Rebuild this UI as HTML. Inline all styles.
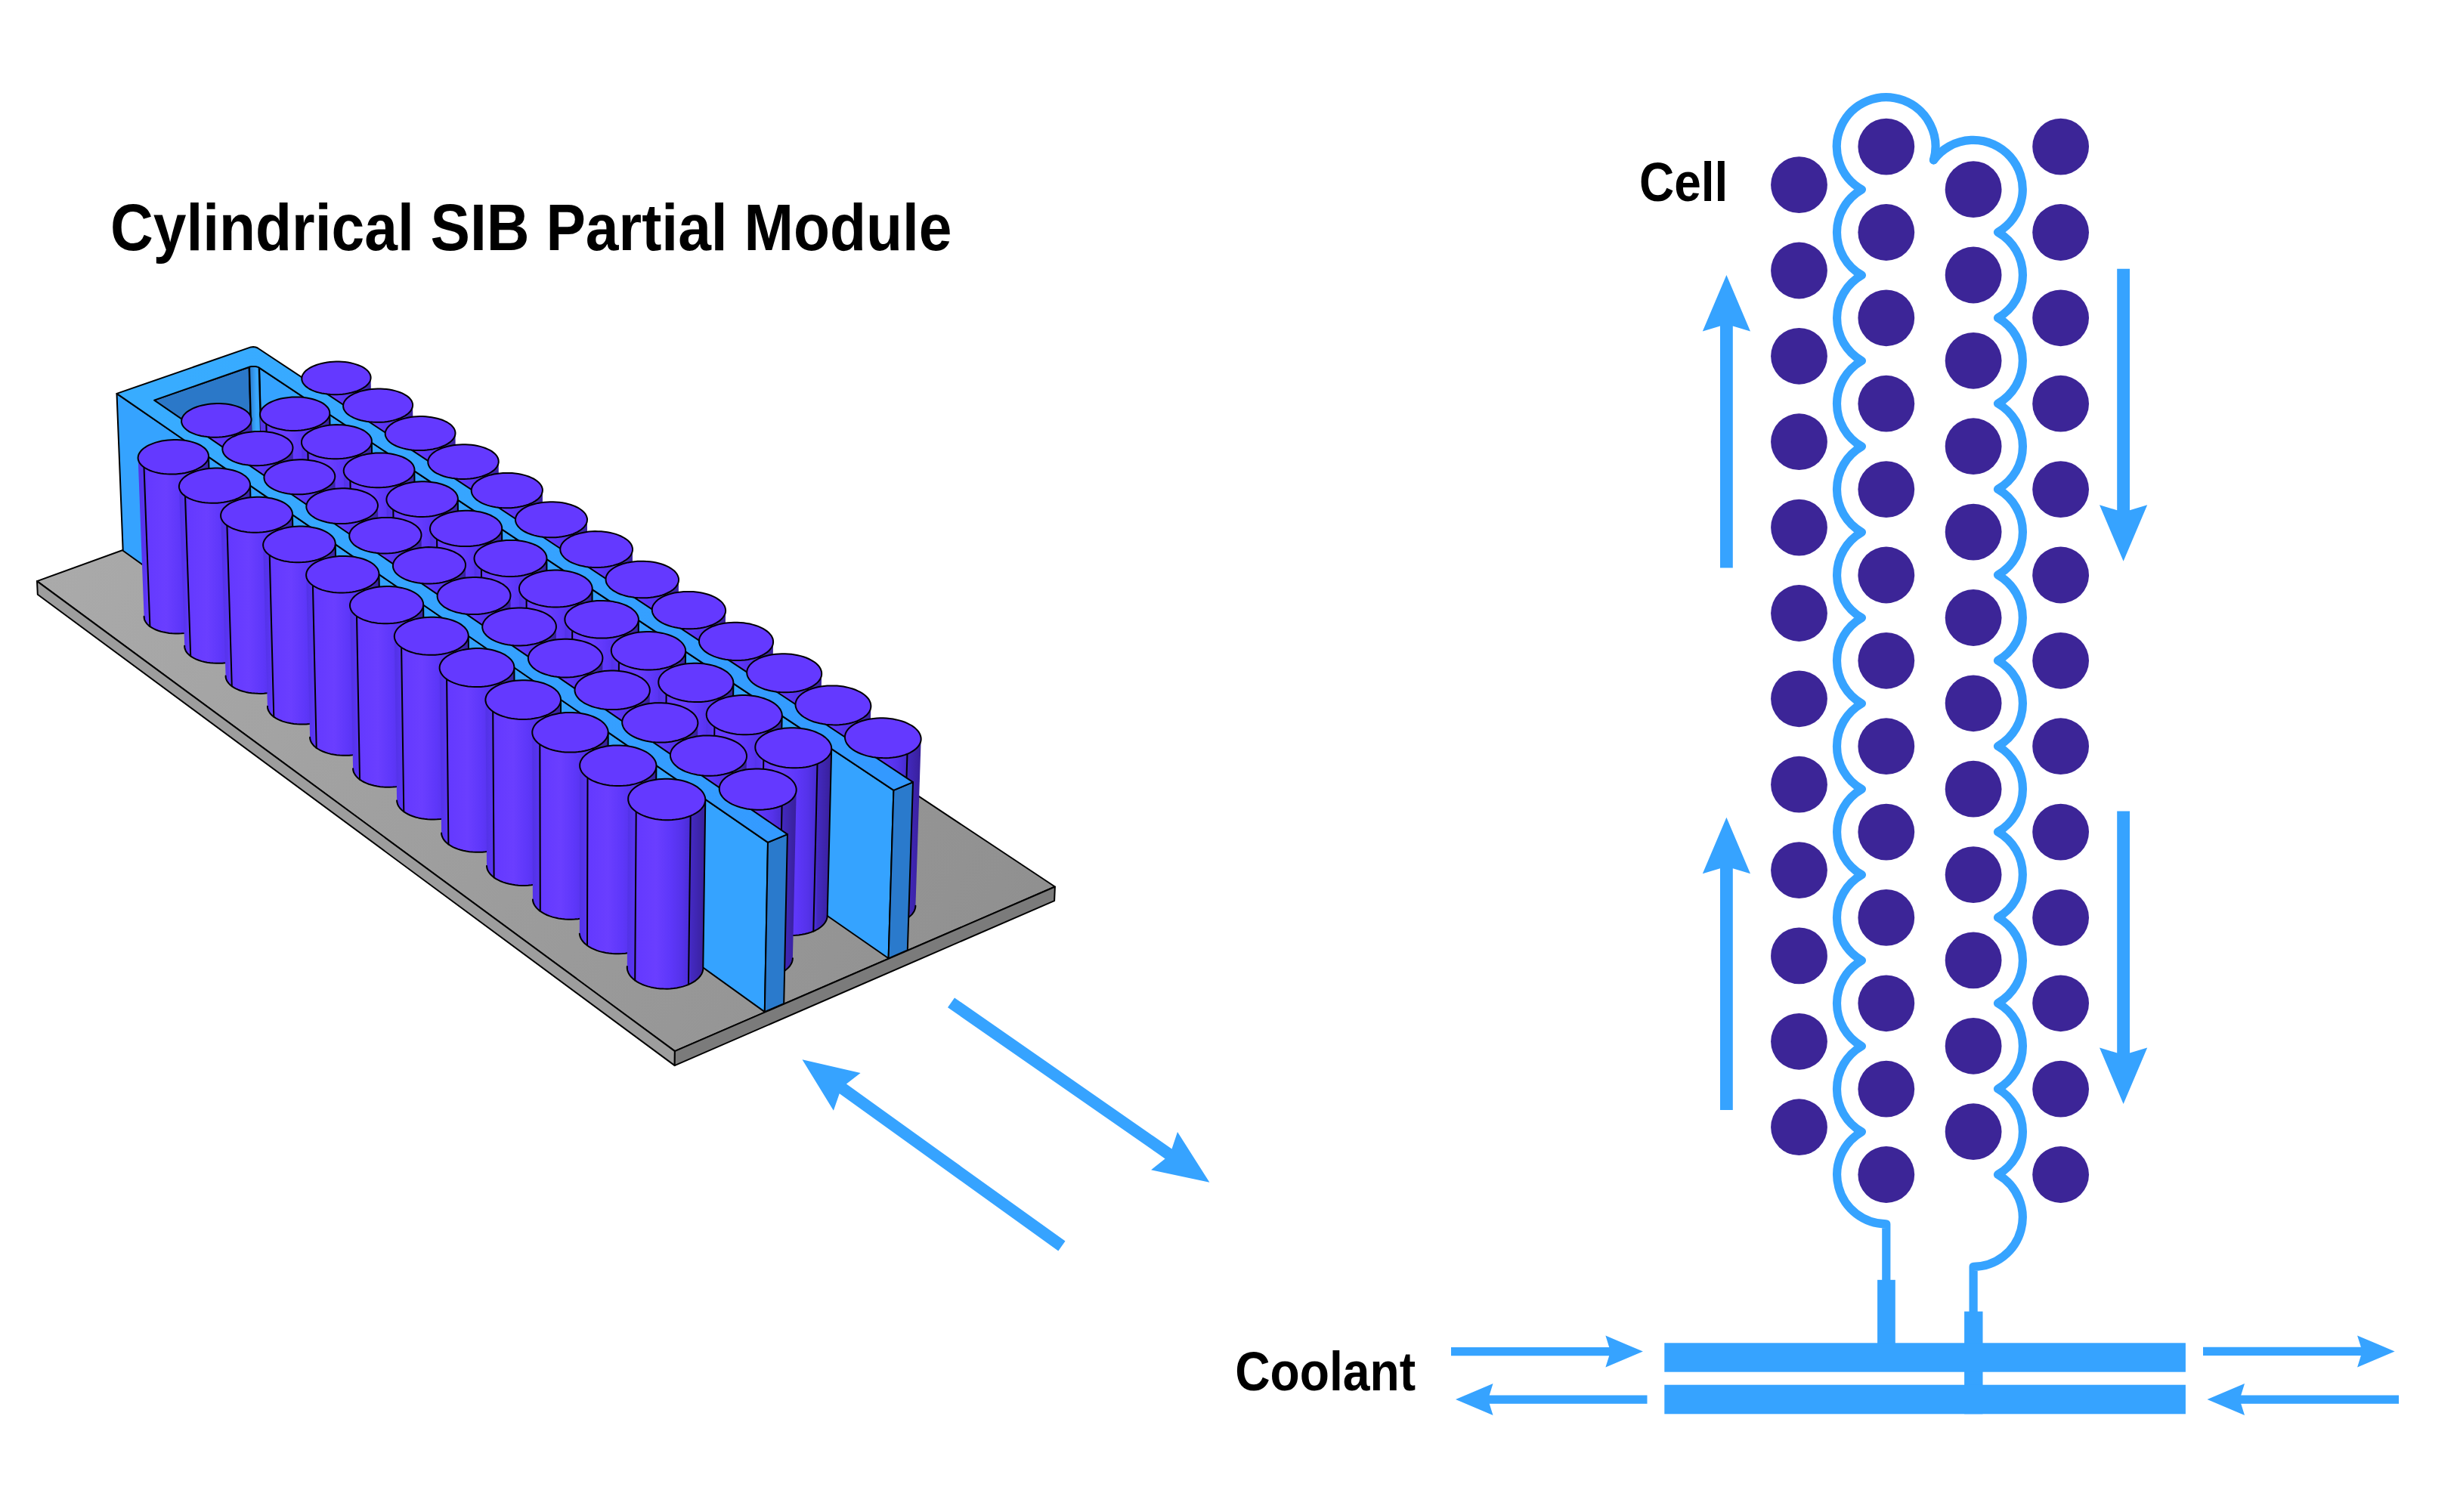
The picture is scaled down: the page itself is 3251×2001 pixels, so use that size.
<!DOCTYPE html>
<html><head><meta charset="utf-8"><style>
html,body{margin:0;padding:0;background:#fff;}
body{width:3251px;height:2001px;overflow:hidden;}
svg{display:block;}
text{font-family:"Liberation Sans",sans-serif;font-weight:bold;fill:#000;}
</style></head><body>
<svg width="3251" height="2001" viewBox="0 0 3251 2001">
<rect width="3251" height="2001" fill="#fff"/>
<text x="146" y="331" font-size="87.5" textLength="1113.5" lengthAdjust="spacingAndGlyphs">Cylindrical SIB Partial Module</text>
<text x="2169" y="266.3" font-size="72.4" textLength="117.4" lengthAdjust="spacingAndGlyphs">Cell</text>
<text x="1634.2" y="1839.6" font-size="72.7" textLength="238.9" lengthAdjust="spacingAndGlyphs">Coolant</text>
<defs><linearGradient id="gcyl" x1="0" y1="0" x2="1" y2="0"><stop offset="0" stop-color="#5232e6"/><stop offset="0.1" stop-color="#5a35f2"/><stop offset="0.12" stop-color="#6439ff"/><stop offset="0.37" stop-color="#6a3eff"/><stop offset="0.55" stop-color="#5e37fa"/><stop offset="0.7" stop-color="#5532ea"/><stop offset="0.8" stop-color="#4a2dd5"/><stop offset="0.82" stop-color="#4329c0"/><stop offset="1" stop-color="#38209a"/></linearGradient><linearGradient id="gplate" gradientUnits="userSpaceOnUse" x1="50" y1="770" x2="1395" y2="1390"><stop offset="0" stop-color="#aaaaaa"/><stop offset="1" stop-color="#8e8e8e"/></linearGradient><linearGradient id="gfil" x1="0" y1="0" x2="1" y2="0"><stop offset="0" stop-color="#2a7acc"/><stop offset="0.5" stop-color="#3aa8ff"/><stop offset="1" stop-color="#35a3ff"/></linearGradient><linearGradient id="gtop" gradientUnits="userSpaceOnUse" x1="250" y1="480" x2="1100" y2="1100"><stop offset="0" stop-color="#38acff"/><stop offset="1" stop-color="#3399ff"/></linearGradient></defs><path d="M49.0,769.1 L892.9,1391.1 L1395.9,1173.5 L526.8,596.1Z" fill="url(#gplate)" stroke="#000" stroke-width="2.0" stroke-linejoin="round"/>
<path d="M49.0,769.1 L892.9,1391.1 L892.7,1410.1 L49.8,786.8Z" fill="#9d9d9d" stroke="#000" stroke-width="2.0" stroke-linejoin="round"/>
<path d="M892.9,1391.1 L1395.9,1173.5 L1395.1,1192.1 L892.7,1410.1Z" fill="#7b7b7b" stroke="#000" stroke-width="2.0" stroke-linejoin="round"/>
<path d="M494.1,706.8 L494.0,708.7 L493.5,710.7 L492.7,712.6 L491.6,714.5 L490.1,716.3 L488.3,718.1 L486.3,719.8 L483.9,721.4 L481.3,722.9 L478.4,724.3 L475.3,725.6 L472.0,726.7 L468.5,727.6 L464.8,728.5 L461.1,729.1 L457.2,729.6 L453.3,730.0 L449.4,730.1 L445.4,730.1 L441.5,729.9 L437.7,729.6 L433.9,729.0 L430.2,728.3 L426.7,727.5 L423.4,726.5 L420.3,725.3 L417.3,724.1 L414.7,722.7 L412.3,721.1 L410.1,719.5 L408.3,717.8 L406.8,716.0 L405.6,714.2 L404.7,712.3 L404.2,710.3 L404.0,708.4 L399.3,501.1 L399.4,499.2 L399.9,497.3 L400.8,495.4 L402.0,493.6 L403.5,491.8 L405.3,490.1 L407.5,488.5 L409.9,486.9 L412.6,485.5 L415.5,484.2 L418.6,483.0 L422.0,481.9 L425.5,481.0 L429.1,480.2 L432.9,479.5 L436.8,479.1 L440.7,478.8 L444.7,478.6 L448.6,478.6 L452.6,478.8 L456.5,479.1 L460.3,479.6 L463.9,480.3 L467.5,481.1 L470.8,482.1 L474.0,483.2 L477.0,484.4 L479.7,485.7 L482.1,487.2 L484.3,488.7 L486.2,490.4 L487.7,492.1 L488.9,493.9 L489.8,495.7 L490.4,497.6 L490.6,499.5Z" fill="url(#gcyl)"/><path d="M471.5,517.8 L475.3,725.6" stroke="#000" stroke-width="2.0" fill="none" stroke-linecap="round"/><path d="M407.6,513.5 L412.3,721.1" stroke="#000" stroke-width="2.0" fill="none" stroke-linecap="round"/><path d="M404.0,708.4 L404.2,710.3 L404.7,712.3 L405.6,714.2 L406.8,716.0 L408.3,717.8 L410.1,719.5 L412.3,721.1 L414.7,722.7 L417.3,724.1 L420.3,725.3 L423.4,726.5 L426.7,727.5 L430.2,728.3 L433.9,729.0 L437.7,729.6 L441.5,729.9 L445.4,730.1 L449.4,730.1 L453.3,730.0 L457.2,729.6 L461.1,729.1 L464.8,728.5 L468.5,727.6 L472.0,726.7 L475.3,725.6 L478.4,724.3 L481.3,722.9 L483.9,721.4 L486.3,719.8 L488.3,718.1 L490.1,716.3 L491.6,714.5 L492.7,712.6 L493.5,710.7 L494.0,708.7 L494.1,706.8" stroke="#000" stroke-width="2.0" fill="none" stroke-linejoin="round" stroke-linecap="round"/>
<path d="M548.9,744.1 L548.8,746.1 L548.3,748.1 L547.5,750.1 L546.4,752.0 L544.9,753.9 L543.2,755.7 L541.1,757.4 L538.7,759.0 L536.1,760.5 L533.2,761.9 L530.1,763.2 L526.8,764.4 L523.3,765.3 L519.6,766.2 L515.8,766.8 L512.0,767.4 L508.0,767.7 L504.0,767.8 L500.1,767.8 L496.1,767.6 L492.2,767.3 L488.4,766.7 L484.7,766.0 L481.2,765.2 L477.8,764.2 L474.6,763.0 L471.7,761.7 L469.0,760.3 L466.5,758.7 L464.4,757.1 L462.5,755.4 L461.0,753.5 L459.8,751.7 L458.9,749.7 L458.3,747.8 L458.1,745.8 L454.1,537.4 L454.2,535.5 L454.7,533.6 L455.5,531.7 L456.7,529.8 L458.2,528.0 L460.1,526.3 L462.2,524.6 L464.6,523.0 L467.3,521.6 L470.2,520.2 L473.4,519.0 L476.7,517.9 L480.3,517.0 L483.9,516.2 L487.7,515.5 L491.6,515.1 L495.6,514.7 L499.6,514.6 L503.6,514.6 L507.5,514.8 L511.5,515.1 L515.3,515.6 L519.0,516.3 L522.6,517.1 L526.0,518.1 L529.2,519.2 L532.2,520.4 L534.9,521.8 L537.4,523.3 L539.6,524.9 L541.5,526.5 L543.1,528.3 L544.4,530.1 L545.3,532.0 L545.9,533.9 L546.1,535.8Z" fill="url(#gcyl)"/><path d="M527.0,554.3 L530.1,763.2" stroke="#000" stroke-width="2.0" fill="none" stroke-linecap="round"/><path d="M462.6,550.0 L466.5,758.7" stroke="#000" stroke-width="2.0" fill="none" stroke-linecap="round"/><path d="M458.1,745.8 L458.3,747.8 L458.9,749.7 L459.8,751.7 L461.0,753.5 L462.5,755.4 L464.4,757.1 L466.5,758.7 L469.0,760.3 L471.7,761.7 L474.6,763.0 L477.8,764.2 L481.2,765.2 L484.7,766.0 L488.4,766.7 L492.2,767.3 L496.1,767.6 L500.1,767.8 L504.0,767.8 L508.0,767.7 L512.0,767.4 L515.8,766.8 L519.6,766.2 L523.3,765.3 L526.8,764.4 L530.1,763.2 L533.2,761.9 L536.1,760.5 L538.7,759.0 L541.1,757.4 L543.2,755.7 L544.9,753.9 L546.4,752.0 L547.5,750.1 L548.3,748.1 L548.8,746.1 L548.9,744.1" stroke="#000" stroke-width="2.0" fill="none" stroke-linejoin="round" stroke-linecap="round"/>
<path d="M604.5,782.1 L604.4,784.1 L604.0,786.1 L603.2,788.1 L602.1,790.1 L600.6,792.0 L598.8,793.8 L596.8,795.5 L594.4,797.2 L591.8,798.7 L588.9,800.2 L585.7,801.5 L582.4,802.6 L578.9,803.6 L575.2,804.5 L571.4,805.1 L567.5,805.7 L563.6,806.0 L559.6,806.2 L555.5,806.1 L551.6,806.0 L547.6,805.6 L543.8,805.0 L540.1,804.3 L536.5,803.5 L533.1,802.4 L529.9,801.2 L526.9,799.9 L524.1,798.5 L521.7,796.9 L519.5,795.2 L517.6,793.5 L516.0,791.6 L514.7,789.7 L513.8,787.8 L513.3,785.8 L513.0,783.8 L509.7,574.3 L509.8,572.3 L510.3,570.4 L511.2,568.5 L512.3,566.6 L513.8,564.8 L515.6,563.0 L517.8,561.3 L520.2,559.7 L522.9,558.2 L525.8,556.9 L529.0,555.6 L532.3,554.5 L535.9,553.6 L539.6,552.7 L543.4,552.1 L547.3,551.6 L551.3,551.3 L555.3,551.1 L559.4,551.1 L563.4,551.3 L567.3,551.7 L571.2,552.2 L574.9,552.9 L578.5,553.7 L582.0,554.7 L585.2,555.8 L588.2,557.1 L591.0,558.5 L593.5,560.0 L595.8,561.6 L597.7,563.3 L599.3,565.1 L600.6,566.9 L601.6,568.8 L602.2,570.7 L602.5,572.7Z" fill="url(#gcyl)"/><path d="M583.5,591.5 L585.7,801.5" stroke="#000" stroke-width="2.0" fill="none" stroke-linecap="round"/><path d="M518.5,587.1 L521.7,796.9" stroke="#000" stroke-width="2.0" fill="none" stroke-linecap="round"/><path d="M513.0,783.8 L513.3,785.8 L513.8,787.8 L514.7,789.7 L516.0,791.6 L517.6,793.5 L519.5,795.2 L521.7,796.9 L524.1,798.5 L526.9,799.9 L529.9,801.2 L533.1,802.4 L536.5,803.5 L540.1,804.3 L543.8,805.0 L547.6,805.6 L551.6,806.0 L555.5,806.1 L559.6,806.2 L563.6,806.0 L567.5,805.7 L571.4,805.1 L575.2,804.5 L578.9,803.6 L582.4,802.6 L585.7,801.5 L588.9,800.2 L591.8,798.7 L594.4,797.2 L596.8,795.5 L598.8,793.8 L600.6,792.0 L602.1,790.1 L603.2,788.1 L604.0,786.1 L604.4,784.1 L604.5,782.1" stroke="#000" stroke-width="2.0" fill="none" stroke-linejoin="round" stroke-linecap="round"/>
<path d="M660.9,820.6 L660.9,822.7 L660.4,824.7 L659.7,826.8 L658.6,828.7 L657.1,830.7 L655.4,832.5 L653.3,834.3 L650.9,836.0 L648.3,837.5 L645.4,839.0 L642.3,840.3 L638.9,841.5 L635.4,842.5 L631.7,843.4 L627.9,844.0 L623.9,844.6 L620.0,844.9 L615.9,845.1 L611.9,845.1 L607.9,844.9 L603.9,844.5 L600.0,843.9 L596.3,843.2 L592.6,842.3 L589.2,841.3 L585.9,840.1 L582.9,838.7 L580.1,837.3 L577.6,835.7 L575.4,834.0 L573.5,832.2 L571.9,830.3 L570.6,828.4 L569.6,826.4 L569.0,824.4 L568.8,822.3 L566.3,611.8 L566.4,609.8 L566.8,607.8 L567.6,605.9 L568.8,603.9 L570.3,602.1 L572.1,600.3 L574.2,598.6 L576.6,597.0 L579.3,595.5 L582.3,594.1 L585.4,592.8 L588.8,591.7 L592.4,590.7 L596.1,589.9 L599.9,589.2 L603.9,588.7 L607.9,588.4 L611.9,588.2 L616.0,588.3 L620.0,588.4 L624.0,588.8 L627.9,589.3 L631.7,590.0 L635.4,590.9 L638.8,591.9 L642.1,593.0 L645.2,594.3 L648.0,595.7 L650.6,597.2 L652.8,598.9 L654.8,600.6 L656.5,602.4 L657.8,604.3 L658.8,606.2 L659.4,608.1 L659.7,610.1Z" fill="url(#gcyl)"/><path d="M640.8,629.3 L642.3,840.3" stroke="#000" stroke-width="2.0" fill="none" stroke-linecap="round"/><path d="M575.2,624.8 L577.6,835.7" stroke="#000" stroke-width="2.0" fill="none" stroke-linecap="round"/><path d="M568.8,822.3 L569.0,824.4 L569.6,826.4 L570.6,828.4 L571.9,830.3 L573.5,832.2 L575.4,834.0 L577.6,835.7 L580.1,837.3 L582.9,838.7 L585.9,840.1 L589.2,841.3 L592.6,842.3 L596.3,843.2 L600.0,843.9 L603.9,844.5 L607.9,844.9 L611.9,845.1 L615.9,845.1 L620.0,844.9 L623.9,844.6 L627.9,844.0 L631.7,843.4 L635.4,842.5 L638.9,841.5 L642.3,840.3 L645.4,839.0 L648.3,837.5 L650.9,836.0 L653.3,834.3 L655.4,832.5 L657.1,830.7 L658.6,828.7 L659.7,826.8 L660.4,824.7 L660.9,822.7 L660.9,820.6" stroke="#000" stroke-width="2.0" fill="none" stroke-linejoin="round" stroke-linecap="round"/>
<path d="M718.3,859.8 L718.2,861.9 L717.8,863.9 L717.1,866.0 L716.0,868.0 L714.6,870.0 L712.8,871.8 L710.7,873.6 L708.4,875.4 L705.7,876.9 L702.8,878.4 L699.7,879.8 L696.3,880.9 L692.8,882.0 L689.0,882.8 L685.2,883.6 L681.3,884.1 L677.2,884.4 L673.2,884.6 L669.1,884.6 L665.1,884.4 L661.1,884.0 L657.1,883.4 L653.3,882.7 L649.7,881.8 L646.2,880.7 L642.9,879.5 L639.8,878.2 L637.0,876.7 L634.5,875.0 L632.2,873.3 L630.2,871.5 L628.6,869.6 L627.3,867.6 L626.3,865.6 L625.7,863.6 L625.4,861.5 L623.7,649.9 L623.8,647.8 L624.2,645.8 L625.0,643.8 L626.1,641.9 L627.6,640.0 L629.4,638.2 L631.5,636.4 L634.0,634.8 L636.6,633.3 L639.6,631.8 L642.8,630.6 L646.2,629.4 L649.8,628.4 L653.5,627.6 L657.4,626.9 L661.3,626.4 L665.4,626.1 L669.5,625.9 L673.5,625.9 L677.6,626.1 L681.6,626.5 L685.6,627.0 L689.4,627.7 L693.1,628.6 L696.6,629.6 L699.9,630.8 L703.0,632.1 L705.9,633.5 L708.5,635.1 L710.8,636.7 L712.8,638.5 L714.5,640.3 L715.9,642.2 L716.9,644.2 L717.6,646.2 L717.9,648.2Z" fill="url(#gcyl)"/><path d="M699.0,667.6 L699.7,879.8" stroke="#000" stroke-width="2.0" fill="none" stroke-linecap="round"/><path d="M632.9,663.0 L634.5,875.0" stroke="#000" stroke-width="2.0" fill="none" stroke-linecap="round"/><path d="M625.4,861.5 L625.7,863.6 L626.3,865.6 L627.3,867.6 L628.6,869.6 L630.2,871.5 L632.2,873.3 L634.5,875.0 L637.0,876.7 L639.8,878.2 L642.9,879.5 L646.2,880.7 L649.7,881.8 L653.3,882.7 L657.1,883.4 L661.1,884.0 L665.1,884.4 L669.1,884.6 L673.2,884.6 L677.2,884.4 L681.3,884.1 L685.2,883.6 L689.0,882.8 L692.8,882.0 L696.3,880.9 L699.7,879.8 L702.8,878.4 L705.7,876.9 L708.4,875.4 L710.7,873.6 L712.8,871.8 L714.6,870.0 L716.0,868.0 L717.1,866.0 L717.8,863.9 L718.2,861.9 L718.3,859.8" stroke="#000" stroke-width="2.0" fill="none" stroke-linejoin="round" stroke-linecap="round"/>
<path d="M777.0,686.8 L776.5,899.5 L776.5,901.7 L776.1,903.8 L775.4,905.8 L774.3,907.9 L772.9,909.9 L771.1,911.8 L769.1,913.6 L766.7,915.4 L764.0,917.0 L761.1,918.5 L758.0,919.8 L754.6,921.0 L751.0,922.1 L747.3,923.0 L743.4,923.7 L739.5,924.2 L735.4,924.6 L731.3,924.7 L727.2,924.7 L723.1,924.5 L719.1,924.1 L715.2,923.6 L711.3,922.8 L707.6,921.9 L704.1,920.8 L700.8,919.6 L697.7,918.2 L694.8,916.7 L692.2,915.0 L689.9,913.3 L687.9,911.4 L686.2,909.5 L684.9,907.5 L683.9,905.5 L683.2,903.4 L682.9,901.3 L682.0,688.5 L682.1,686.5 L682.5,684.4 L683.3,682.4 L684.4,680.4 L685.9,678.5 L687.7,676.7 L689.8,674.9 L692.2,673.2 L694.9,671.7 L697.9,670.2 L701.0,668.9 L704.5,667.8 L708.1,666.8 L711.8,665.9 L715.7,665.2 L719.7,664.7 L723.8,664.4 L727.9,664.2 L732.0,664.2 L736.1,664.4 L740.2,664.8 L744.1,665.3 L748.0,666.1 L751.7,666.9 L755.3,668.0 L758.7,669.2 L761.8,670.5 L764.7,671.9 L767.3,673.5 L769.7,675.2 L771.7,677.0 L773.5,678.8 L774.9,680.8 L775.9,682.8 L776.6,684.8Z" fill="url(#gcyl)"/><path d="M758.2,706.6 L758.0,919.8" stroke="#000" stroke-width="2.0" fill="none" stroke-linecap="round"/><path d="M691.4,701.9 L692.2,915.0" stroke="#000" stroke-width="2.0" fill="none" stroke-linecap="round"/><path d="M682.9,901.3 L683.2,903.4 L683.9,905.5 L684.9,907.5 L686.2,909.5 L687.9,911.4 L689.9,913.3 L692.2,915.0 L694.8,916.7 L697.7,918.2 L700.8,919.6 L704.1,920.8 L707.6,921.9 L711.3,922.8 L715.2,923.6 L719.1,924.1 L723.1,924.5 L727.2,924.7 L731.3,924.7 L735.4,924.6 L739.5,924.2 L743.4,923.7 L747.3,923.0 L751.0,922.1 L754.6,921.0 L758.0,919.8 L761.1,918.5 L764.0,917.0 L766.7,915.4 L769.1,913.6 L771.1,911.8 L772.9,909.9 L774.3,907.9 L775.4,905.8 L776.1,903.8 L776.5,901.7 L776.5,899.5" stroke="#000" stroke-width="2.0" fill="none" stroke-linejoin="round" stroke-linecap="round"/>
<path d="M837.0,728.2 L835.6,942.1 L835.3,944.2 L834.6,946.3 L833.5,948.4 L832.1,950.4 L830.4,952.4 L828.3,954.2 L826.0,956.0 L823.3,957.6 L820.4,959.2 L817.2,960.5 L813.8,961.8 L810.2,962.8 L806.5,963.7 L802.6,964.4 L798.6,965.0 L794.5,965.4 L790.4,965.5 L786.3,965.5 L782.2,965.3 L778.1,964.9 L774.1,964.3 L770.2,963.6 L766.5,962.6 L762.9,961.5 L759.5,960.3 L756.4,958.9 L753.5,957.3 L750.9,955.7 L748.5,953.9 L746.5,952.0 L744.8,950.1 L743.4,948.0 L742.4,945.9 L741.7,943.8 L741.3,941.7 L741.3,727.8 L741.3,725.7 L741.7,723.7 L742.5,721.6 L743.6,719.6 L745.1,717.6 L746.9,715.8 L749.0,714.0 L751.4,712.3 L754.1,710.7 L757.0,709.2 L760.2,707.9 L763.7,706.7 L767.3,705.7 L771.1,704.9 L775.0,704.2 L779.0,703.6 L783.1,703.3 L787.2,703.1 L791.4,703.2 L795.5,703.3 L799.6,703.7 L803.6,704.3 L807.5,705.0 L811.3,705.9 L814.9,706.9 L818.3,708.1 L821.5,709.5 L824.5,711.0 L827.1,712.6 L829.5,714.3 L831.6,716.1 L833.4,718.0 L834.8,719.9 L835.9,722.0 L836.6,724.0 L837.0,726.1Z" fill="url(#gcyl)"/><path d="M818.3,746.2 L817.2,960.5" stroke="#000" stroke-width="2.0" fill="none" stroke-linecap="round"/><path d="M751.0,741.4 L750.9,955.7" stroke="#000" stroke-width="2.0" fill="none" stroke-linecap="round"/><path d="M741.3,941.7 L741.7,943.8 L742.4,945.9 L743.4,948.0 L744.8,950.1 L746.5,952.0 L748.5,953.9 L750.9,955.7 L753.5,957.3 L756.4,958.9 L759.5,960.3 L762.9,961.5 L766.5,962.6 L770.2,963.6 L774.1,964.3 L778.1,964.9 L782.2,965.3 L786.3,965.5 L790.4,965.5 L794.5,965.4 L798.6,965.0 L802.6,964.4 L806.5,963.7 L810.2,962.8 L813.8,961.8 L817.2,960.5 L820.4,959.2 L823.3,957.6 L826.0,956.0 L828.3,954.2 L830.4,952.4 L832.1,950.4 L833.5,948.4 L834.6,946.3 L835.3,944.2 L835.6,942.1" stroke="#000" stroke-width="2.0" fill="none" stroke-linejoin="round" stroke-linecap="round"/>
<path d="M898.0,768.1 L895.8,983.1 L895.4,985.3 L894.8,987.5 L893.7,989.6 L892.3,991.6 L890.6,993.6 L888.5,995.5 L886.2,997.3 L883.5,998.9 L880.6,1000.5 L877.4,1001.9 L874.0,1003.1 L870.4,1004.2 L866.6,1005.1 L862.7,1005.9 L858.7,1006.4 L854.6,1006.8 L850.4,1007.0 L846.3,1006.9 L842.1,1006.7 L838.0,1006.3 L834.0,1005.7 L830.1,1005.0 L826.3,1004.0 L822.7,1002.9 L819.3,1001.6 L816.1,1000.2 L813.1,998.6 L810.5,997.0 L808.1,995.1 L806.0,993.2 L804.3,991.2 L802.8,989.2 L801.8,987.1 L801.1,984.9 L800.7,982.7 L800.7,980.5 L801.6,765.6 L801.9,763.5 L802.7,761.4 L803.8,759.4 L805.2,757.4 L807.0,755.5 L809.1,753.7 L811.5,752.0 L814.2,750.4 L817.2,748.9 L820.4,747.5 L823.8,746.3 L827.5,745.3 L831.3,744.4 L835.2,743.7 L839.2,743.2 L843.4,742.8 L847.6,742.7 L851.7,742.7 L855.9,742.9 L860.0,743.3 L864.1,743.8 L868.0,744.6 L871.9,745.5 L875.5,746.5 L879.0,747.8 L882.2,749.1 L885.2,750.6 L887.9,752.3 L890.3,754.0 L892.5,755.8 L894.3,757.8 L895.7,759.8 L896.8,761.8 L897.6,763.9 L898.0,766.0Z" fill="url(#gcyl)"/><path d="M879.4,786.4 L877.4,1001.9" stroke="#000" stroke-width="2.0" fill="none" stroke-linecap="round"/><path d="M811.5,781.6 L810.5,997.0" stroke="#000" stroke-width="2.0" fill="none" stroke-linecap="round"/><path d="M800.7,982.7 L801.1,984.9 L801.8,987.1 L802.8,989.2 L804.3,991.2 L806.0,993.2 L808.1,995.1 L810.5,997.0 L813.1,998.6 L816.1,1000.2 L819.3,1001.6 L822.7,1002.9 L826.3,1004.0 L830.1,1005.0 L834.0,1005.7 L838.0,1006.3 L842.1,1006.7 L846.3,1006.9 L850.4,1007.0 L854.6,1006.8 L858.7,1006.4 L862.7,1005.9 L866.6,1005.1 L870.4,1004.2 L874.0,1003.1 L877.4,1001.9 L880.6,1000.5 L883.5,998.9 L886.2,997.3 L888.5,995.5 L890.6,993.6 L892.3,991.6 L893.7,989.6 L894.8,987.5 L895.4,985.3 L895.8,983.1" stroke="#000" stroke-width="2.0" fill="none" stroke-linejoin="round" stroke-linecap="round"/>
<path d="M960.1,808.7 L956.9,1024.9 L956.6,1027.1 L955.9,1029.3 L954.9,1031.4 L953.5,1033.5 L951.8,1035.5 L949.7,1037.4 L947.3,1039.2 L944.7,1040.9 L941.8,1042.5 L938.6,1043.9 L935.2,1045.2 L931.5,1046.3 L927.8,1047.2 L923.8,1048.0 L919.8,1048.5 L915.6,1048.9 L911.5,1049.1 L907.2,1049.1 L903.1,1048.8 L898.9,1048.4 L894.8,1047.8 L890.9,1047.1 L887.1,1046.1 L883.4,1045.0 L880.0,1043.7 L876.7,1042.2 L873.7,1040.6 L871.0,1038.9 L868.6,1037.1 L866.5,1035.1 L864.7,1033.1 L863.3,1031.0 L862.2,1028.8 L861.4,1026.7 L861.0,1024.4 L861.0,1022.2 L862.8,806.2 L863.1,804.0 L863.8,801.9 L864.9,799.8 L866.4,797.8 L868.1,795.9 L870.2,794.0 L872.6,792.3 L875.3,790.7 L878.3,789.2 L881.5,787.8 L885.0,786.6 L888.6,785.5 L892.5,784.6 L896.4,783.9 L900.5,783.4 L904.6,783.0 L908.8,782.9 L913.1,782.9 L917.3,783.1 L921.5,783.5 L925.5,784.0 L929.5,784.8 L933.4,785.7 L937.1,786.8 L940.6,788.0 L943.8,789.4 L946.9,790.9 L949.6,792.6 L952.1,794.4 L954.3,796.2 L956.1,798.2 L957.6,800.2 L958.8,802.3 L959.6,804.4 L960.0,806.6Z" fill="url(#gcyl)"/><path d="M941.5,827.3 L938.6,1043.9" stroke="#000" stroke-width="2.0" fill="none" stroke-linecap="round"/><path d="M872.9,822.4 L871.0,1038.9" stroke="#000" stroke-width="2.0" fill="none" stroke-linecap="round"/><path d="M861.0,1022.2 L861.0,1024.4 L861.4,1026.7 L862.2,1028.8 L863.3,1031.0 L864.7,1033.1 L866.5,1035.1 L868.6,1037.1 L871.0,1038.9 L873.7,1040.6 L876.7,1042.2 L880.0,1043.7 L883.4,1045.0 L887.1,1046.1 L890.9,1047.1 L894.8,1047.8 L898.9,1048.4 L903.1,1048.8 L907.2,1049.1 L911.5,1049.1 L915.6,1048.9 L919.8,1048.5 L923.8,1048.0 L927.8,1047.2 L931.5,1046.3 L935.2,1045.2 L938.6,1043.9 L941.8,1042.5 L944.7,1040.9 L947.3,1039.2 L949.7,1037.4 L951.8,1035.5 L953.5,1033.5 L954.9,1031.4 L955.9,1029.3 L956.6,1027.1 L956.9,1024.9" stroke="#000" stroke-width="2.0" fill="none" stroke-linejoin="round" stroke-linecap="round"/>
<path d="M1023.1,850.0 L1018.9,1067.3 L1018.7,1069.5 L1018.0,1071.7 L1017.0,1073.9 L1015.6,1076.0 L1013.9,1078.1 L1011.9,1080.0 L1009.5,1081.9 L1006.9,1083.6 L1003.9,1085.2 L1000.7,1086.6 L997.3,1087.9 L993.7,1089.0 L989.9,1090.0 L985.9,1090.7 L981.8,1091.3 L977.7,1091.7 L973.5,1091.9 L969.2,1091.8 L965.0,1091.6 L960.8,1091.2 L956.7,1090.6 L952.7,1089.8 L948.8,1088.8 L945.1,1087.7 L941.6,1086.4 L938.4,1084.9 L935.3,1083.3 L932.6,1081.5 L930.1,1079.7 L928.0,1077.7 L926.1,1075.6 L924.6,1073.5 L923.5,1071.3 L922.7,1069.1 L922.3,1066.8 L922.3,1064.6 L925.0,847.4 L925.3,845.2 L926.0,843.1 L927.1,841.0 L928.5,838.9 L930.3,836.9 L932.3,835.1 L934.8,833.3 L937.5,831.6 L940.4,830.1 L943.7,828.7 L947.1,827.5 L950.8,826.4 L954.6,825.5 L958.6,824.8 L962.7,824.2 L966.9,823.9 L971.1,823.7 L975.4,823.7 L979.7,823.9 L983.9,824.3 L988.0,824.9 L992.0,825.6 L995.9,826.6 L999.7,827.7 L1003.2,828.9 L1006.5,830.4 L1009.6,831.9 L1012.4,833.6 L1014.9,835.4 L1017.1,837.3 L1019.0,839.3 L1020.6,841.3 L1021.7,843.5 L1022.6,845.6 L1023.0,847.8Z" fill="url(#gcyl)"/><path d="M1004.6,868.9 L1000.7,1086.6" stroke="#000" stroke-width="2.0" fill="none" stroke-linecap="round"/><path d="M935.4,863.9 L932.6,1081.5" stroke="#000" stroke-width="2.0" fill="none" stroke-linecap="round"/><path d="M922.3,1064.6 L922.3,1066.8 L922.7,1069.1 L923.5,1071.3 L924.6,1073.5 L926.1,1075.6 L928.0,1077.7 L930.1,1079.7 L932.6,1081.5 L935.3,1083.3 L938.4,1084.9 L941.6,1086.4 L945.1,1087.7 L948.8,1088.8 L952.7,1089.8 L956.7,1090.6 L960.8,1091.2 L965.0,1091.6 L969.2,1091.8 L973.5,1091.9 L977.7,1091.7 L981.8,1091.3 L985.9,1090.7 L989.9,1090.0 L993.7,1089.0 L997.3,1087.9 L1000.7,1086.6 L1003.9,1085.2 L1006.9,1083.6 L1009.5,1081.9 L1011.9,1080.0 L1013.9,1078.1 L1015.6,1076.0 L1017.0,1073.9 L1018.0,1071.7 L1018.7,1069.5 L1018.9,1067.3" stroke="#000" stroke-width="2.0" fill="none" stroke-linejoin="round" stroke-linecap="round"/>
<path d="M1087.2,891.9 L1082.0,1110.4 L1081.8,1112.6 L1081.2,1114.9 L1080.2,1117.1 L1078.8,1119.3 L1077.1,1121.3 L1075.1,1123.3 L1072.7,1125.2 L1070.1,1127.0 L1067.1,1128.6 L1063.9,1130.0 L1060.5,1131.4 L1056.8,1132.5 L1053.0,1133.5 L1049.0,1134.2 L1044.9,1134.8 L1040.7,1135.2 L1036.5,1135.4 L1032.2,1135.3 L1027.9,1135.1 L1023.7,1134.7 L1019.6,1134.1 L1015.5,1133.3 L1011.6,1132.3 L1007.9,1131.1 L1004.3,1129.8 L1001.0,1128.3 L997.9,1126.6 L995.1,1124.9 L992.6,1123.0 L990.4,1121.0 L988.6,1118.9 L987.0,1116.7 L985.9,1114.5 L985.1,1112.2 L984.6,1109.9 L984.5,1107.6 L988.2,889.3 L988.5,887.1 L989.2,884.9 L990.3,882.8 L991.7,880.7 L993.4,878.7 L995.5,876.8 L997.9,874.9 L1000.6,873.3 L1003.6,871.7 L1006.8,870.3 L1010.3,869.0 L1014.0,868.0 L1017.9,867.0 L1021.9,866.3 L1026.0,865.7 L1030.2,865.4 L1034.5,865.2 L1038.8,865.2 L1043.1,865.4 L1047.3,865.8 L1051.5,866.4 L1055.6,867.2 L1059.5,868.1 L1063.3,869.3 L1066.9,870.5 L1070.2,872.0 L1073.3,873.6 L1076.2,875.3 L1078.8,877.1 L1081.0,879.0 L1082.9,881.0 L1084.5,883.1 L1085.7,885.3 L1086.6,887.5 L1087.1,889.7Z" fill="url(#gcyl)"/><path d="M1068.8,911.1 L1063.9,1130.0" stroke="#000" stroke-width="2.0" fill="none" stroke-linecap="round"/><path d="M999.0,906.1 L995.1,1124.9" stroke="#000" stroke-width="2.0" fill="none" stroke-linecap="round"/><path d="M984.5,1107.6 L984.6,1109.9 L985.1,1112.2 L985.9,1114.5 L987.0,1116.7 L988.6,1118.9 L990.4,1121.0 L992.6,1123.0 L995.1,1124.9 L997.9,1126.6 L1001.0,1128.3 L1004.3,1129.8 L1007.9,1131.1 L1011.6,1132.3 L1015.5,1133.3 L1019.6,1134.1 L1023.7,1134.7 L1027.9,1135.1 L1032.2,1135.3 L1036.5,1135.4 L1040.7,1135.2 L1044.9,1134.8 L1049.0,1134.2 L1053.0,1133.5 L1056.8,1132.5 L1060.5,1131.4 L1063.9,1130.0 L1067.1,1128.6 L1070.1,1127.0 L1072.7,1125.2 L1075.1,1123.3 L1077.1,1121.3 L1078.8,1119.3 L1080.2,1117.1 L1081.2,1114.9 L1081.8,1112.6 L1082.0,1110.4" stroke="#000" stroke-width="2.0" fill="none" stroke-linejoin="round" stroke-linecap="round"/>
<path d="M1152.4,934.6 L1146.2,1154.2 L1146.0,1156.5 L1145.4,1158.8 L1144.4,1161.0 L1143.0,1163.2 L1141.3,1165.3 L1139.3,1167.4 L1137.0,1169.3 L1134.3,1171.0 L1131.4,1172.7 L1128.1,1174.2 L1124.7,1175.5 L1121.0,1176.7 L1117.2,1177.6 L1113.2,1178.4 L1109.0,1179.0 L1104.8,1179.4 L1100.5,1179.6 L1096.2,1179.6 L1091.9,1179.3 L1087.7,1178.9 L1083.5,1178.3 L1079.4,1177.5 L1075.4,1176.5 L1071.6,1175.3 L1068.1,1173.9 L1064.7,1172.4 L1061.6,1170.7 L1058.7,1168.9 L1056.2,1167.0 L1053.9,1164.9 L1052.0,1162.8 L1050.5,1160.6 L1049.3,1158.3 L1048.4,1156.0 L1047.9,1153.7 L1047.8,1151.4 L1052.5,931.9 L1052.8,929.7 L1053.5,927.4 L1054.5,925.3 L1055.9,923.1 L1057.6,921.1 L1059.7,919.2 L1062.1,917.3 L1064.8,915.6 L1067.8,914.0 L1071.1,912.6 L1074.6,911.3 L1078.2,910.2 L1082.1,909.3 L1086.2,908.5 L1090.3,908.0 L1094.6,907.6 L1098.9,907.4 L1103.2,907.4 L1107.5,907.6 L1111.8,908.0 L1116.0,908.6 L1120.2,909.4 L1124.1,910.4 L1128.0,911.5 L1131.6,912.8 L1135.0,914.3 L1138.2,915.9 L1141.1,917.6 L1143.7,919.5 L1146.0,921.5 L1147.9,923.5 L1149.6,925.6 L1150.8,927.8 L1151.7,930.1 L1152.2,932.3Z" fill="url(#gcyl)"/><path d="M1134.1,954.1 L1128.1,1174.2" stroke="#000" stroke-width="2.0" fill="none" stroke-linecap="round"/><path d="M1063.6,949.0 L1058.7,1168.9" stroke="#000" stroke-width="2.0" fill="none" stroke-linecap="round"/><path d="M1047.8,1151.4 L1047.9,1153.7 L1048.4,1156.0 L1049.3,1158.3 L1050.5,1160.6 L1052.0,1162.8 L1053.9,1164.9 L1056.2,1167.0 L1058.7,1168.9 L1061.6,1170.7 L1064.7,1172.4 L1068.1,1173.9 L1071.6,1175.3 L1075.4,1176.5 L1079.4,1177.5 L1083.5,1178.3 L1087.7,1178.9 L1091.9,1179.3 L1096.2,1179.6 L1100.5,1179.6 L1104.8,1179.4 L1109.0,1179.0 L1113.2,1178.4 L1117.2,1177.6 L1121.0,1176.7 L1124.7,1175.5 L1128.1,1174.2 L1131.4,1172.7 L1134.3,1171.0 L1137.0,1169.3 L1139.3,1167.4 L1141.3,1165.3 L1143.0,1163.2 L1144.4,1161.0 L1145.4,1158.8 L1146.0,1156.5 L1146.2,1154.2" stroke="#000" stroke-width="2.0" fill="none" stroke-linejoin="round" stroke-linecap="round"/>
<path d="M1218.7,978.0 L1211.4,1198.7 L1211.2,1201.1 L1210.6,1203.4 L1209.7,1205.7 L1208.3,1207.9 L1206.7,1210.1 L1204.6,1212.1 L1202.3,1214.1 L1199.6,1215.9 L1196.7,1217.5 L1193.4,1219.1 L1190.0,1220.4 L1186.3,1221.6 L1182.4,1222.6 L1178.4,1223.4 L1174.2,1224.0 L1170.0,1224.4 L1165.7,1224.6 L1161.3,1224.5 L1157.0,1224.3 L1152.7,1223.9 L1148.4,1223.2 L1144.3,1222.4 L1140.3,1221.4 L1136.5,1220.2 L1132.8,1218.8 L1129.4,1217.2 L1126.3,1215.5 L1123.4,1213.7 L1120.8,1211.7 L1118.5,1209.7 L1116.6,1207.5 L1115.0,1205.2 L1113.7,1203.0 L1112.8,1200.6 L1112.3,1198.3 L1112.2,1195.9 L1117.9,975.2 L1118.2,972.9 L1118.8,970.7 L1119.8,968.5 L1121.2,966.3 L1122.9,964.2 L1125.0,962.3 L1127.4,960.4 L1130.1,958.7 L1133.1,957.0 L1136.4,955.6 L1139.9,954.3 L1143.6,953.2 L1147.5,952.2 L1151.5,951.5 L1155.7,950.9 L1160.0,950.5 L1164.3,950.3 L1168.7,950.3 L1173.1,950.6 L1177.4,951.0 L1181.7,951.6 L1185.8,952.4 L1189.9,953.4 L1193.7,954.5 L1197.4,955.8 L1200.9,957.3 L1204.1,959.0 L1207.0,960.7 L1209.7,962.6 L1212.0,964.6 L1214.0,966.7 L1215.7,968.9 L1217.0,971.1 L1217.9,973.4 L1218.5,975.7Z" fill="url(#gcyl)"/><path d="M1200.5,997.8 L1193.4,1219.1" stroke="#000" stroke-width="2.0" fill="none" stroke-linecap="round"/><path d="M1129.3,992.6 L1123.4,1213.7" stroke="#000" stroke-width="2.0" fill="none" stroke-linecap="round"/><path d="M1112.2,1195.9 L1112.3,1198.3 L1112.8,1200.6 L1113.7,1203.0 L1115.0,1205.2 L1116.6,1207.5 L1118.5,1209.7 L1120.8,1211.7 L1123.4,1213.7 L1126.3,1215.5 L1129.4,1217.2 L1132.8,1218.8 L1136.5,1220.2 L1140.3,1221.4 L1144.3,1222.4 L1148.4,1223.2 L1152.7,1223.9 L1157.0,1224.3 L1161.3,1224.5 L1165.7,1224.6 L1170.0,1224.4 L1174.2,1224.0 L1178.4,1223.4 L1182.4,1222.6 L1186.3,1221.6 L1190.0,1220.4 L1193.4,1219.1 L1196.7,1217.5 L1199.6,1215.9 L1202.3,1214.1 L1204.6,1212.1 L1206.7,1210.1 L1208.3,1207.9 L1209.7,1205.7 L1210.6,1203.4 L1211.2,1201.1 L1211.4,1198.7" stroke="#000" stroke-width="2.0" fill="none" stroke-linejoin="round" stroke-linecap="round"/>
<path d="M342.9,486.6 L1182.4,1045.8 L1175.6,1268.3 L348.5,693.5Z" fill="#35a3ff" stroke="#000" stroke-width="2.0" stroke-linejoin="round"/>
<path d="M1182.4,1045.8 L1208.0,1035.1 L1200.8,1257.4 L1175.6,1268.3Z" fill="#2a7acc" stroke="#000" stroke-width="2.0" stroke-linejoin="round"/>
<path d="M204.1,529.6 L329.8,485.8 L335.5,692.6 L211.6,737.7Z" fill="#2b78c8" stroke="#000" stroke-width="2.0" stroke-linejoin="round"/>
<path d="M329.8,485.8 L331.2,485.3 L332.8,485.0 L334.4,484.9 L336.0,484.9 L337.7,485.0 L339.2,485.2 L340.6,485.6 L341.9,486.0 L342.9,486.6 L348.5,693.5 L347.4,692.9 L346.2,692.4 L344.8,692.0 L343.3,691.8 L341.7,691.7 L340.1,691.7 L338.5,691.9 L336.9,692.2 L335.5,692.6Z" fill="url(#gfil)" stroke="none"/>
<path d="M329.8,485.8 L335.5,692.6" stroke="#000" stroke-width="2.4" fill="none" stroke-linecap="round"/>
<path d="M342.9,486.6 L348.5,693.5" stroke="#000" stroke-width="2.4" fill="none" stroke-linecap="round"/>
<path d="M440.6,755.4 L440.5,757.4 L440.0,759.4 L439.1,761.4 L438.0,763.3 L436.5,765.2 L434.6,767.0 L432.5,768.7 L430.1,770.3 L427.4,771.9 L424.5,773.3 L421.4,774.6 L418.0,775.7 L414.5,776.7 L410.8,777.5 L407.0,778.2 L403.1,778.7 L399.2,779.0 L395.2,779.2 L391.2,779.2 L387.2,779.0 L383.3,778.6 L379.5,778.1 L375.9,777.4 L372.3,776.5 L369.0,775.5 L365.8,774.3 L362.9,773.0 L360.2,771.6 L357.8,770.1 L355.7,768.4 L353.8,766.7 L352.3,764.8 L351.2,762.9 L350.3,761.0 L349.8,759.0 L349.6,757.0 L344.0,548.4 L344.2,546.4 L344.8,544.5 L345.7,542.6 L346.9,540.7 L348.4,538.9 L350.3,537.2 L352.5,535.5 L354.9,533.9 L357.6,532.5 L360.6,531.1 L363.8,529.9 L367.2,528.8 L370.7,527.8 L374.5,527.0 L378.3,526.4 L382.2,525.9 L386.2,525.6 L390.2,525.4 L394.2,525.5 L398.1,525.6 L402.1,526.0 L405.9,526.5 L409.6,527.2 L413.1,528.0 L416.5,529.0 L419.7,530.1 L422.7,531.3 L425.4,532.7 L427.9,534.2 L430.0,535.8 L431.9,537.5 L433.5,539.2 L434.7,541.0 L435.6,542.9 L436.1,544.8 L436.3,546.8Z" fill="url(#gcyl)"/><path d="M416.8,565.4 L421.4,774.6" stroke="#000" stroke-width="2.0" fill="none" stroke-linecap="round"/><path d="M352.3,561.0 L357.8,770.1" stroke="#000" stroke-width="2.0" fill="none" stroke-linecap="round"/><path d="M436.2,548.7 L440.5,757.4" stroke="#000" stroke-width="2.0" fill="none" stroke-linecap="round"/><path d="M349.6,757.0 L349.8,759.0 L350.3,761.0 L351.2,762.9 L352.3,764.8 L353.8,766.7 L355.7,768.4 L357.8,770.1 L360.2,771.6 L362.9,773.0 L365.8,774.3 L369.0,775.5 L372.3,776.5 L375.9,777.4 L379.5,778.1 L383.3,778.6 L387.2,779.0 L391.2,779.2 L395.2,779.2 L399.2,779.0 L403.1,778.7 L407.0,778.2 L410.8,777.5 L414.5,776.7 L418.0,775.7 L421.4,774.6 L424.5,773.3 L427.4,771.9 L430.1,770.3 L432.5,768.7 L434.6,767.0 L436.5,765.2 L438.0,763.3 L439.1,761.4 L440.0,759.4 L440.5,757.4 L440.6,755.4" stroke="#000" stroke-width="2.0" fill="none" stroke-linejoin="round" stroke-linecap="round"/>
<path d="M338.4,764.3 L338.2,766.3 L337.6,768.3 L336.8,770.3 L335.5,772.2 L334.0,774.1 L332.1,775.9 L330.0,777.7 L327.5,779.3 L324.8,780.8 L321.9,782.2 L318.7,783.5 L315.3,784.7 L311.7,785.7 L308.0,786.5 L304.2,787.2 L300.3,787.7 L296.4,788.0 L292.4,788.2 L288.4,788.2 L284.4,788.0 L280.5,787.6 L276.7,787.1 L273.1,786.4 L269.5,785.5 L266.2,784.5 L263.1,783.3 L260.2,782.0 L257.5,780.6 L255.1,779.0 L253.0,777.4 L251.2,775.6 L249.7,773.8 L248.6,771.9 L247.8,769.9 L247.3,768.0 L247.2,766.0 L240.1,557.1 L240.4,555.1 L240.9,553.2 L241.9,551.3 L243.1,549.4 L244.7,547.6 L246.6,545.8 L248.9,544.2 L251.4,542.6 L254.1,541.1 L257.1,539.7 L260.3,538.5 L263.7,537.4 L267.3,536.5 L271.1,535.7 L274.9,535.0 L278.8,534.5 L282.8,534.2 L286.8,534.0 L290.8,534.1 L294.8,534.2 L298.7,534.6 L302.6,535.1 L306.2,535.8 L309.8,536.6 L313.2,537.6 L316.3,538.7 L319.3,540.0 L322.0,541.3 L324.4,542.8 L326.5,544.4 L328.4,546.1 L329.9,547.9 L331.1,549.7 L331.9,551.6 L332.4,553.5 L332.6,555.4Z" fill="url(#gcyl)"/><path d="M312.6,574.1 L318.7,783.5" stroke="#000" stroke-width="2.0" fill="none" stroke-linecap="round"/><path d="M248.1,569.7 L255.1,779.0" stroke="#000" stroke-width="2.0" fill="none" stroke-linecap="round"/><path d="M247.2,766.0 L247.3,768.0 L247.8,769.9 L248.6,771.9 L249.7,773.8 L251.2,775.6 L253.0,777.4 L255.1,779.0 L257.5,780.6 L260.2,782.0 L263.1,783.3 L266.2,784.5 L269.5,785.5 L273.1,786.4 L276.7,787.1 L280.5,787.6 L284.4,788.0 L288.4,788.2 L292.4,788.2 L296.4,788.0 L300.3,787.7 L304.2,787.2 L308.0,786.5 L311.7,785.7 L315.3,784.7 L318.7,783.5 L321.9,782.2 L324.8,780.8 L327.5,779.3 L330.0,777.7 L332.1,775.9 L334.0,774.1 L335.5,772.2 L336.8,770.3 L337.6,768.3 L338.2,766.3 L338.4,764.3" stroke="#000" stroke-width="2.0" fill="none" stroke-linejoin="round" stroke-linecap="round"/>
<path d="M495.5,793.5 L495.4,795.5 L494.9,797.6 L494.1,799.6 L492.9,801.5 L491.4,803.4 L489.6,805.3 L487.5,807.0 L485.1,808.7 L482.4,810.2 L479.5,811.7 L476.3,813.0 L472.9,814.1 L469.4,815.1 L465.7,816.0 L461.9,816.7 L458.0,817.2 L454.0,817.5 L450.0,817.7 L445.9,817.7 L442.0,817.5 L438.0,817.1 L434.2,816.6 L430.5,815.8 L426.9,815.0 L423.5,813.9 L420.3,812.7 L417.4,811.4 L414.6,810.0 L412.2,808.4 L410.0,806.7 L408.2,804.9 L406.6,803.1 L405.4,801.2 L404.5,799.2 L404.0,797.2 L403.8,795.2 L399.0,585.4 L399.1,583.5 L399.6,581.5 L400.5,579.6 L401.7,577.7 L403.3,575.8 L405.1,574.1 L407.3,572.4 L409.8,570.8 L412.5,569.3 L415.5,567.9 L418.7,566.7 L422.1,565.6 L425.6,564.6 L429.4,563.8 L433.2,563.1 L437.2,562.6 L441.2,562.3 L445.2,562.1 L449.2,562.2 L453.2,562.3 L457.2,562.7 L461.0,563.2 L464.8,563.9 L468.4,564.7 L471.8,565.7 L475.0,566.9 L478.0,568.1 L480.8,569.5 L483.3,571.0 L485.5,572.7 L487.4,574.4 L489.0,576.1 L490.2,578.0 L491.2,579.9 L491.7,581.8 L491.9,583.8Z" fill="url(#gcyl)"/><path d="M472.4,602.7 L476.3,813.0" stroke="#000" stroke-width="2.0" fill="none" stroke-linecap="round"/><path d="M407.4,598.3 L412.2,808.4" stroke="#000" stroke-width="2.0" fill="none" stroke-linecap="round"/><path d="M491.8,585.8 L495.4,795.6" stroke="#000" stroke-width="2.0" fill="none" stroke-linecap="round"/><path d="M403.8,795.2 L404.0,797.2 L404.5,799.2 L405.4,801.2 L406.6,803.1 L408.2,804.9 L410.0,806.7 L412.2,808.4 L414.6,810.0 L417.4,811.4 L420.3,812.7 L423.5,813.9 L426.9,815.0 L430.5,815.8 L434.2,816.6 L438.0,817.1 L442.0,817.5 L445.9,817.7 L450.0,817.7 L454.0,817.5 L458.0,817.2 L461.9,816.7 L465.7,816.0 L469.4,815.1 L472.9,814.1 L476.3,813.0 L479.5,811.7 L482.4,810.2 L485.1,808.7 L487.5,807.0 L489.6,805.3 L491.4,803.4 L492.9,801.5 L494.1,799.6 L494.9,797.6 L495.4,795.5 L495.5,793.5" stroke="#000" stroke-width="2.0" fill="none" stroke-linejoin="round" stroke-linecap="round"/>
<path d="M392.6,802.6 L392.4,804.6 L391.9,806.6 L391.0,808.6 L389.8,810.6 L388.3,812.5 L386.4,814.4 L384.2,816.1 L381.8,817.8 L379.1,819.3 L376.1,820.8 L372.9,822.1 L369.5,823.2 L366.0,824.3 L362.2,825.1 L358.4,825.8 L354.5,826.3 L350.5,826.6 L346.4,826.8 L342.4,826.8 L338.4,826.6 L334.5,826.2 L330.7,825.7 L327.0,825.0 L323.4,824.1 L320.0,823.0 L316.9,821.9 L313.9,820.5 L311.2,819.1 L308.8,817.5 L306.7,815.8 L304.8,814.0 L303.3,812.2 L302.2,810.2 L301.3,808.3 L300.8,806.3 L300.7,804.2 L294.3,594.3 L294.5,592.3 L295.1,590.3 L296.0,588.4 L297.3,586.5 L298.9,584.6 L300.8,582.8 L303.0,581.1 L305.5,579.5 L308.2,578.0 L311.3,576.7 L314.5,575.4 L317.9,574.3 L321.5,573.3 L325.3,572.5 L329.1,571.9 L333.1,571.4 L337.1,571.0 L341.1,570.9 L345.2,570.9 L349.2,571.1 L353.1,571.4 L357.0,572.0 L360.7,572.6 L364.3,573.5 L367.7,574.5 L370.9,575.6 L373.9,576.9 L376.6,578.3 L379.1,579.8 L381.3,581.4 L383.2,583.1 L384.7,584.9 L385.9,586.8 L386.8,588.7 L387.3,590.6 L387.5,592.6Z" fill="url(#gcyl)"/><path d="M367.6,611.6 L372.9,822.1" stroke="#000" stroke-width="2.0" fill="none" stroke-linecap="round"/><path d="M302.5,607.1 L308.8,817.5" stroke="#000" stroke-width="2.0" fill="none" stroke-linecap="round"/><path d="M300.7,804.2 L300.8,806.3 L301.3,808.3 L302.2,810.2 L303.3,812.2 L304.8,814.0 L306.7,815.8 L308.8,817.5 L311.2,819.1 L313.9,820.5 L316.9,821.9 L320.0,823.0 L323.4,824.1 L327.0,825.0 L330.7,825.7 L334.5,826.2 L338.4,826.6 L342.4,826.8 L346.4,826.8 L350.5,826.6 L354.5,826.3 L358.4,825.8 L362.2,825.1 L366.0,824.3 L369.5,823.2 L372.9,822.1 L376.1,820.8 L379.1,819.3 L381.8,817.8 L384.2,816.1 L386.4,814.4 L388.3,812.5 L389.8,810.6 L391.0,808.6 L391.9,806.6 L392.4,804.6 L392.6,802.6" stroke="#000" stroke-width="2.0" fill="none" stroke-linejoin="round" stroke-linecap="round"/>
<path d="M551.2,832.2 L551.1,834.3 L550.7,836.3 L549.9,838.4 L548.7,840.4 L547.2,842.3 L545.4,844.2 L543.3,845.9 L540.9,847.6 L538.2,849.2 L535.3,850.7 L532.1,852.0 L528.7,853.2 L525.2,854.2 L521.4,855.0 L517.6,855.7 L513.7,856.3 L509.6,856.6 L505.6,856.8 L501.6,856.8 L497.5,856.6 L493.6,856.2 L489.7,855.6 L485.9,854.9 L482.3,854.0 L478.9,853.0 L475.7,851.8 L472.7,850.4 L469.9,848.9 L467.4,847.3 L465.2,845.6 L463.3,843.8 L461.8,842.0 L460.5,840.0 L459.6,838.0 L459.1,836.0 L458.9,833.9 L454.7,623.1 L454.9,621.1 L455.4,619.1 L456.3,617.1 L457.5,615.2 L459.0,613.3 L460.8,611.5 L463.0,609.8 L465.5,608.2 L468.2,606.7 L471.2,605.3 L474.4,604.0 L477.8,602.9 L481.4,601.9 L485.1,601.1 L489.0,600.4 L493.0,599.9 L497.0,599.6 L501.1,599.4 L505.1,599.4 L509.2,599.6 L513.2,600.0 L517.1,600.5 L520.8,601.2 L524.5,602.1 L527.9,603.1 L531.2,604.2 L534.2,605.5 L537.0,606.9 L539.6,608.5 L541.8,610.1 L543.7,611.8 L545.4,613.6 L546.7,615.5 L547.6,617.5 L548.2,619.4 L548.5,621.4Z" fill="url(#gcyl)"/><path d="M529.0,640.6 L532.1,852.0" stroke="#000" stroke-width="2.0" fill="none" stroke-linecap="round"/><path d="M463.4,636.1 L467.4,847.3" stroke="#000" stroke-width="2.0" fill="none" stroke-linecap="round"/><path d="M548.3,623.5 L551.1,834.3" stroke="#000" stroke-width="2.0" fill="none" stroke-linecap="round"/><path d="M458.9,833.9 L459.1,836.0 L459.6,838.0 L460.5,840.0 L461.8,842.0 L463.3,843.8 L465.2,845.6 L467.4,847.3 L469.9,848.9 L472.7,850.4 L475.7,851.8 L478.9,853.0 L482.3,854.0 L485.9,854.9 L489.7,855.6 L493.6,856.2 L497.5,856.6 L501.6,856.8 L505.6,856.8 L509.6,856.6 L513.7,856.3 L517.6,855.7 L521.4,855.0 L525.2,854.2 L528.7,853.2 L532.1,852.0 L535.3,850.7 L538.2,849.2 L540.9,847.6 L543.3,845.9 L545.4,844.2 L547.2,842.3 L548.7,840.4 L549.9,838.4 L550.7,836.3 L551.1,834.3 L551.2,832.2" stroke="#000" stroke-width="2.0" fill="none" stroke-linejoin="round" stroke-linecap="round"/>
<path d="M447.6,841.4 L447.4,843.5 L446.9,845.5 L446.1,847.6 L444.9,849.6 L443.4,851.5 L441.5,853.4 L439.4,855.2 L436.9,856.9 L434.2,858.4 L431.2,859.9 L428.0,861.2 L424.6,862.4 L421.0,863.4 L417.3,864.3 L413.4,865.0 L409.4,865.5 L405.4,865.9 L401.4,866.0 L397.3,866.0 L393.3,865.8 L389.3,865.4 L385.5,864.9 L381.7,864.2 L378.1,863.3 L374.7,862.2 L371.5,861.0 L368.5,859.7 L365.8,858.2 L363.3,856.6 L361.2,854.9 L359.3,853.0 L357.8,851.2 L356.6,849.2 L355.7,847.2 L355.2,845.2 L355.0,843.1 L349.4,632.0 L349.6,630.0 L350.1,628.0 L351.0,626.1 L352.3,624.1 L353.9,622.2 L355.8,620.4 L358.0,618.7 L360.5,617.1 L363.2,615.6 L366.2,614.2 L369.5,612.9 L372.9,611.8 L376.6,610.8 L380.3,610.0 L384.2,609.3 L388.2,608.8 L392.2,608.5 L396.3,608.3 L400.4,608.3 L404.4,608.5 L408.4,608.9 L412.3,609.4 L416.1,610.1 L419.7,610.9 L423.1,611.9 L426.4,613.1 L429.4,614.4 L432.2,615.8 L434.7,617.4 L436.9,619.0 L438.8,620.7 L440.4,622.6 L441.6,624.4 L442.5,626.4 L443.1,628.4 L443.3,630.4Z" fill="url(#gcyl)"/><path d="M423.4,649.6 L428.0,861.2" stroke="#000" stroke-width="2.0" fill="none" stroke-linecap="round"/><path d="M357.8,645.1 L363.3,856.6" stroke="#000" stroke-width="2.0" fill="none" stroke-linecap="round"/><path d="M355.0,843.1 L355.2,845.2 L355.7,847.2 L356.6,849.2 L357.8,851.2 L359.3,853.0 L361.2,854.9 L363.3,856.6 L365.8,858.2 L368.5,859.7 L371.5,861.0 L374.7,862.2 L378.1,863.3 L381.7,864.2 L385.5,864.9 L389.3,865.4 L393.3,865.8 L397.3,866.0 L401.4,866.0 L405.4,865.9 L409.4,865.5 L413.4,865.0 L417.3,864.3 L421.0,863.4 L424.6,862.4 L428.0,861.2 L431.2,859.9 L434.2,858.4 L436.9,856.9 L439.4,855.2 L441.5,853.4 L443.4,851.5 L444.9,849.6 L446.1,847.6 L446.9,845.5 L447.4,843.5 L447.6,841.4" stroke="#000" stroke-width="2.0" fill="none" stroke-linejoin="round" stroke-linecap="round"/>
<path d="M607.8,871.5 L607.7,873.6 L607.3,875.7 L606.5,877.8 L605.4,879.8 L603.9,881.8 L602.1,883.7 L600.0,885.5 L597.6,887.2 L594.9,888.8 L591.9,890.3 L588.8,891.6 L585.4,892.8 L581.8,893.8 L578.1,894.7 L574.2,895.4 L570.2,896.0 L566.2,896.3 L562.1,896.5 L558.0,896.5 L554.0,896.3 L550.0,895.9 L546.1,895.3 L542.3,894.6 L538.6,893.7 L535.2,892.6 L531.9,891.4 L528.9,890.0 L526.1,888.5 L523.5,886.9 L521.3,885.2 L519.4,883.3 L517.8,881.4 L516.5,879.4 L515.6,877.4 L515.0,875.3 L514.8,873.3 L511.4,661.3 L511.5,659.3 L512.0,657.3 L512.9,655.3 L514.1,653.3 L515.6,651.4 L517.4,649.6 L519.6,647.8 L522.1,646.2 L524.8,644.7 L527.8,643.2 L531.0,642.0 L534.4,640.8 L538.0,639.8 L541.8,639.0 L545.7,638.3 L549.7,637.8 L553.7,637.5 L557.8,637.3 L561.9,637.3 L566.0,637.5 L570.0,637.9 L574.0,638.4 L577.8,639.1 L581.4,640.0 L585.0,641.0 L588.3,642.2 L591.3,643.5 L594.2,644.9 L596.7,646.5 L599.0,648.1 L601.0,649.9 L602.7,651.7 L604.0,653.7 L605.0,655.6 L605.6,657.6 L605.9,659.6Z" fill="url(#gcyl)"/><path d="M586.5,679.2 L588.8,891.6" stroke="#000" stroke-width="2.0" fill="none" stroke-linecap="round"/><path d="M520.3,674.6 L523.5,886.9" stroke="#000" stroke-width="2.0" fill="none" stroke-linecap="round"/><path d="M605.8,661.7 L607.7,873.7" stroke="#000" stroke-width="2.0" fill="none" stroke-linecap="round"/><path d="M514.8,873.3 L515.0,875.3 L515.6,877.4 L516.5,879.4 L517.8,881.4 L519.4,883.3 L521.3,885.2 L523.5,886.9 L526.1,888.5 L528.9,890.0 L531.9,891.4 L535.2,892.6 L538.6,893.7 L542.3,894.6 L546.1,895.3 L550.0,895.9 L554.0,896.3 L558.0,896.5 L562.1,896.5 L566.2,896.3 L570.2,896.0 L574.2,895.4 L578.1,894.7 L581.8,893.8 L585.4,892.8 L588.8,891.6 L591.9,890.3 L594.9,888.8 L597.6,887.2 L600.0,885.5 L602.1,883.7 L603.9,881.8 L605.4,879.8 L606.5,877.8 L607.3,875.7 L607.7,873.6 L607.8,871.5" stroke="#000" stroke-width="2.0" fill="none" stroke-linejoin="round" stroke-linecap="round"/>
<path d="M503.5,880.9 L503.3,883.0 L502.9,885.1 L502.0,887.1 L500.8,889.2 L499.3,891.1 L497.5,893.0 L495.3,894.8 L492.9,896.6 L490.2,898.2 L487.2,899.7 L484.0,901.0 L480.5,902.2 L476.9,903.2 L473.2,904.1 L469.3,904.8 L465.3,905.4 L461.2,905.7 L457.2,905.9 L453.1,905.9 L449.0,905.7 L445.0,905.3 L441.1,904.7 L437.3,904.0 L433.7,903.1 L430.3,902.0 L427.0,900.8 L424.0,899.4 L421.2,897.9 L418.7,896.3 L416.5,894.5 L414.6,892.7 L413.1,890.8 L411.8,888.8 L410.9,886.7 L410.4,884.7 L410.2,882.6 L405.3,670.4 L405.5,668.4 L406.0,666.3 L406.9,664.3 L408.1,662.4 L409.7,660.5 L411.6,658.6 L413.8,656.9 L416.3,655.2 L419.1,653.7 L422.1,652.3 L425.4,651.0 L428.8,649.8 L432.5,648.8 L436.2,648.0 L440.2,647.3 L444.2,646.8 L448.2,646.5 L452.3,646.3 L456.4,646.3 L460.5,646.5 L464.5,646.9 L468.5,647.4 L472.3,648.1 L475.9,649.0 L479.4,650.0 L482.7,651.2 L485.8,652.5 L488.6,653.9 L491.1,655.5 L493.4,657.2 L495.3,658.9 L496.9,660.8 L498.2,662.7 L499.1,664.7 L499.7,666.7 L500.0,668.7Z" fill="url(#gcyl)"/><path d="M480.1,688.3 L484.0,901.0" stroke="#000" stroke-width="2.0" fill="none" stroke-linecap="round"/><path d="M414.0,683.7 L418.7,896.3" stroke="#000" stroke-width="2.0" fill="none" stroke-linecap="round"/><path d="M410.2,882.6 L410.4,884.7 L410.9,886.7 L411.8,888.8 L413.1,890.8 L414.6,892.7 L416.5,894.5 L418.7,896.3 L421.2,897.9 L424.0,899.4 L427.0,900.8 L430.3,902.0 L433.7,903.1 L437.3,904.0 L441.1,904.7 L445.0,905.3 L449.0,905.7 L453.1,905.9 L457.2,905.9 L461.2,905.7 L465.3,905.4 L469.3,904.8 L473.2,904.1 L476.9,903.2 L480.5,902.2 L484.0,901.0 L487.2,899.7 L490.2,898.2 L492.9,896.6 L495.3,894.8 L497.5,893.0 L499.3,891.1 L500.8,889.2 L502.0,887.1 L502.9,885.1 L503.3,883.0 L503.5,880.9" stroke="#000" stroke-width="2.0" fill="none" stroke-linejoin="round" stroke-linecap="round"/>
<path d="M665.3,911.5 L665.3,913.6 L664.8,915.7 L664.1,917.8 L662.9,919.9 L661.5,921.9 L659.7,923.8 L657.6,925.6 L655.2,927.4 L652.5,929.0 L649.5,930.5 L646.3,931.9 L642.9,933.1 L639.3,934.1 L635.6,935.0 L631.7,935.7 L627.7,936.3 L623.6,936.6 L619.5,936.8 L615.4,936.8 L611.3,936.6 L607.3,936.2 L603.3,935.6 L599.5,934.9 L595.8,933.9 L592.3,932.9 L589.0,931.6 L585.9,930.2 L583.1,928.7 L580.5,927.1 L578.3,925.3 L576.3,923.4 L574.7,921.5 L573.3,919.5 L572.4,917.4 L571.8,915.3 L571.5,913.2 L569.0,700.2 L569.1,698.1 L569.6,696.1 L570.4,694.0 L571.6,692.0 L573.1,690.1 L574.9,688.3 L577.1,686.5 L579.5,684.8 L582.3,683.2 L585.3,681.8 L588.5,680.5 L591.9,679.3 L595.6,678.3 L599.4,677.5 L603.3,676.8 L607.3,676.3 L611.4,675.9 L615.5,675.8 L619.6,675.8 L623.7,676.0 L627.8,676.3 L631.8,676.9 L635.6,677.6 L639.3,678.5 L642.9,679.5 L646.2,680.7 L649.3,682.0 L652.2,683.5 L654.8,685.1 L657.2,686.8 L659.2,688.6 L660.9,690.4 L662.2,692.4 L663.2,694.4 L663.9,696.4 L664.2,698.5Z" fill="url(#gcyl)"/><path d="M644.9,718.3 L646.3,931.9" stroke="#000" stroke-width="2.0" fill="none" stroke-linecap="round"/><path d="M578.1,713.6 L580.5,927.1" stroke="#000" stroke-width="2.0" fill="none" stroke-linecap="round"/><path d="M664.1,700.6 L665.3,913.6" stroke="#000" stroke-width="2.0" fill="none" stroke-linecap="round"/><path d="M571.5,913.2 L571.8,915.3 L572.4,917.4 L573.3,919.5 L574.7,921.5 L576.3,923.4 L578.3,925.3 L580.5,927.1 L583.1,928.7 L585.9,930.2 L589.0,931.6 L592.3,932.9 L595.8,933.9 L599.5,934.9 L603.3,935.6 L607.3,936.2 L611.3,936.6 L615.4,936.8 L619.5,936.8 L623.6,936.6 L627.7,936.3 L631.7,935.7 L635.6,935.0 L639.3,934.1 L642.9,933.1 L646.3,931.9 L649.5,930.5 L652.5,929.0 L655.2,927.4 L657.6,925.6 L659.7,923.8 L661.5,921.9 L662.9,919.9 L664.1,917.8 L664.8,915.7 L665.3,913.6 L665.3,911.5" stroke="#000" stroke-width="2.0" fill="none" stroke-linejoin="round" stroke-linecap="round"/>
<path d="M560.2,920.9 L560.1,923.1 L559.7,925.2 L558.8,927.3 L557.7,929.4 L556.2,931.4 L554.3,933.3 L552.2,935.1 L549.7,936.9 L547.0,938.5 L544.0,940.0 L540.8,941.4 L537.4,942.6 L533.7,943.7 L529.9,944.6 L526.0,945.3 L522.0,945.8 L518.0,946.2 L513.8,946.4 L509.7,946.3 L505.6,946.1 L501.6,945.7 L497.7,945.2 L493.8,944.4 L490.2,943.5 L486.7,942.4 L483.4,941.2 L480.3,939.8 L477.5,938.2 L475.0,936.6 L472.7,934.8 L470.8,932.9 L469.2,931.0 L467.9,929.0 L467.0,926.9 L466.5,924.8 L466.2,922.7 L462.2,709.4 L462.3,707.3 L462.8,705.3 L463.7,703.2 L464.9,701.2 L466.5,699.3 L468.4,697.4 L470.6,695.7 L473.1,694.0 L475.8,692.4 L478.9,691.0 L482.1,689.7 L485.6,688.5 L489.3,687.5 L493.1,686.6 L497.0,685.9 L501.0,685.4 L505.1,685.1 L509.3,684.9 L513.4,684.9 L517.5,685.1 L521.6,685.5 L525.5,686.0 L529.4,686.8 L533.1,687.6 L536.6,688.7 L539.9,689.9 L543.0,691.2 L545.9,692.7 L548.5,694.3 L550.8,696.0 L552.7,697.8 L554.4,699.6 L555.7,701.6 L556.7,703.6 L557.3,705.6 L557.5,707.7Z" fill="url(#gcyl)"/><path d="M537.8,727.6 L540.8,941.4" stroke="#000" stroke-width="2.0" fill="none" stroke-linecap="round"/><path d="M471.0,722.9 L475.0,936.6" stroke="#000" stroke-width="2.0" fill="none" stroke-linecap="round"/><path d="M466.2,922.7 L466.5,924.8 L467.0,926.9 L467.9,929.0 L469.2,931.0 L470.8,932.9 L472.7,934.8 L475.0,936.6 L477.5,938.2 L480.3,939.8 L483.4,941.2 L486.7,942.4 L490.2,943.5 L493.8,944.4 L497.7,945.2 L501.6,945.7 L505.6,946.1 L509.7,946.3 L513.8,946.4 L518.0,946.2 L522.0,945.8 L526.0,945.3 L529.9,944.6 L533.7,943.7 L537.4,942.6 L540.8,941.4 L544.0,940.0 L547.0,938.5 L549.7,936.9 L552.2,935.1 L554.3,933.3 L556.2,931.4 L557.7,929.4 L558.8,927.3 L559.7,925.2 L560.1,923.1 L560.2,920.9" stroke="#000" stroke-width="2.0" fill="none" stroke-linejoin="round" stroke-linecap="round"/>
<path d="M723.7,952.1 L723.7,954.2 L723.3,956.4 L722.5,958.5 L721.4,960.6 L720.0,962.6 L718.2,964.6 L716.1,966.4 L713.7,968.2 L711.0,969.8 L708.0,971.4 L704.8,972.8 L701.4,974.0 L697.8,975.1 L694.0,976.0 L690.1,976.7 L686.1,977.2 L682.0,977.6 L677.9,977.8 L673.7,977.8 L669.6,977.5 L665.5,977.2 L661.5,976.6 L657.7,975.8 L653.9,974.9 L650.4,973.8 L647.0,972.5 L643.9,971.1 L641.0,969.6 L638.4,967.9 L636.1,966.1 L634.1,964.2 L632.4,962.2 L631.1,960.2 L630.1,958.1 L629.5,956.0 L629.2,953.8 L627.5,739.7 L627.6,737.6 L628.0,735.5 L628.8,733.4 L630.0,731.4 L631.5,729.4 L633.3,727.5 L635.5,725.7 L637.9,724.0 L640.7,722.5 L643.7,721.0 L646.9,719.7 L650.4,718.5 L654.0,717.5 L657.8,716.6 L661.8,715.9 L665.8,715.4 L669.9,715.0 L674.1,714.9 L678.3,714.9 L682.4,715.1 L686.5,715.4 L690.5,716.0 L694.4,716.7 L698.2,717.6 L701.7,718.7 L705.1,719.9 L708.3,721.2 L711.2,722.7 L713.9,724.3 L716.2,726.1 L718.3,727.9 L720.0,729.8 L721.4,731.7 L722.4,733.8 L723.1,735.8 L723.4,737.9Z" fill="url(#gcyl)"/><path d="M704.2,758.1 L704.8,972.8" stroke="#000" stroke-width="2.0" fill="none" stroke-linecap="round"/><path d="M636.9,753.3 L638.4,967.9" stroke="#000" stroke-width="2.0" fill="none" stroke-linecap="round"/><path d="M723.4,740.1 L723.7,954.2" stroke="#000" stroke-width="2.0" fill="none" stroke-linecap="round"/><path d="M629.2,953.8 L629.5,956.0 L630.1,958.1 L631.1,960.2 L632.4,962.2 L634.1,964.2 L636.1,966.1 L638.4,967.9 L641.0,969.6 L643.9,971.1 L647.0,972.5 L650.4,973.8 L653.9,974.9 L657.7,975.8 L661.5,976.6 L665.5,977.2 L669.6,977.5 L673.7,977.8 L677.9,977.8 L682.0,977.6 L686.1,977.2 L690.1,976.7 L694.0,976.0 L697.8,975.1 L701.4,974.0 L704.8,972.8 L708.0,971.4 L711.0,969.8 L713.7,968.2 L716.1,966.4 L718.2,964.6 L720.0,962.6 L721.4,960.6 L722.5,958.5 L723.3,956.4 L723.7,954.2 L723.7,952.1" stroke="#000" stroke-width="2.0" fill="none" stroke-linejoin="round" stroke-linecap="round"/>
<path d="M617.9,961.7 L617.8,963.8 L617.4,966.0 L616.6,968.1 L615.4,970.2 L613.9,972.2 L612.1,974.2 L609.9,976.1 L607.5,977.9 L604.8,979.5 L601.8,981.1 L598.5,982.4 L595.1,983.7 L591.4,984.8 L587.6,985.7 L583.7,986.4 L579.7,986.9 L575.6,987.3 L571.4,987.5 L567.3,987.5 L563.1,987.2 L559.1,986.9 L555.1,986.3 L551.2,985.5 L547.5,984.6 L544.0,983.5 L540.7,982.2 L537.6,980.8 L534.7,979.2 L532.1,977.5 L529.9,975.7 L527.9,973.9 L526.3,971.9 L525.0,969.8 L524.0,967.7 L523.4,965.6 L523.2,963.4 L519.9,749.0 L520.0,746.9 L520.5,744.8 L521.4,742.8 L522.6,740.7 L524.1,738.8 L526.0,736.9 L528.2,735.1 L530.7,733.4 L533.5,731.8 L536.5,730.3 L539.8,729.0 L543.3,727.8 L547.0,726.7 L550.8,725.9 L554.8,725.2 L558.8,724.7 L562.9,724.3 L567.1,724.1 L571.3,724.2 L575.4,724.4 L579.5,724.7 L583.5,725.3 L587.4,726.0 L591.2,726.9 L594.7,728.0 L598.1,729.2 L601.2,730.5 L604.1,732.0 L606.7,733.7 L609.1,735.4 L611.1,737.2 L612.8,739.1 L614.1,741.1 L615.1,743.1 L615.8,745.2 L616.0,747.3Z" fill="url(#gcyl)"/><path d="M596.4,767.5 L598.5,982.4" stroke="#000" stroke-width="2.0" fill="none" stroke-linecap="round"/><path d="M529.0,762.8 L532.1,977.5" stroke="#000" stroke-width="2.0" fill="none" stroke-linecap="round"/><path d="M523.2,963.4 L523.4,965.6 L524.0,967.7 L525.0,969.8 L526.3,971.9 L527.9,973.9 L529.9,975.7 L532.1,977.5 L534.7,979.2 L537.6,980.8 L540.7,982.2 L544.0,983.5 L547.5,984.6 L551.2,985.5 L555.1,986.3 L559.1,986.9 L563.1,987.2 L567.3,987.5 L571.4,987.5 L575.6,987.3 L579.7,986.9 L583.7,986.4 L587.6,985.7 L591.4,984.8 L595.1,983.7 L598.5,982.4 L601.8,981.1 L604.8,979.5 L607.5,977.9 L609.9,976.1 L612.1,974.2 L613.9,972.2 L615.4,970.2 L616.6,968.1 L617.4,966.0 L617.8,963.8 L617.9,961.7" stroke="#000" stroke-width="2.0" fill="none" stroke-linejoin="round" stroke-linecap="round"/>
<path d="M783.7,778.0 L783.1,993.3 L783.1,995.5 L782.7,997.7 L781.9,999.8 L780.8,1001.9 L779.4,1004.0 L777.6,1006.0 L775.5,1007.9 L773.1,1009.7 L770.4,1011.4 L767.5,1012.9 L764.2,1014.3 L760.8,1015.6 L757.2,1016.7 L753.4,1017.6 L749.4,1018.3 L745.4,1018.9 L741.3,1019.2 L737.1,1019.4 L732.9,1019.4 L728.8,1019.2 L724.7,1018.8 L720.6,1018.2 L716.7,1017.4 L713.0,1016.5 L709.4,1015.3 L706.0,1014.1 L702.8,1012.6 L699.9,1011.0 L697.3,1009.3 L694.9,1007.5 L692.9,1005.6 L691.2,1003.6 L689.8,1001.5 L688.8,999.4 L688.1,997.2 L687.8,995.1 L687.0,779.8 L687.0,777.6 L687.4,775.5 L688.2,773.4 L689.4,771.4 L690.9,769.4 L692.7,767.5 L694.8,765.6 L697.3,763.9 L700.0,762.3 L703.1,760.8 L706.3,759.5 L709.8,758.3 L713.4,757.2 L717.3,756.3 L721.2,755.6 L725.3,755.1 L729.4,754.7 L733.6,754.6 L737.8,754.6 L742.0,754.8 L746.1,755.2 L750.2,755.7 L754.1,756.5 L757.9,757.4 L761.5,758.5 L765.0,759.7 L768.2,761.1 L771.1,762.6 L773.8,764.2 L776.2,766.0 L778.3,767.8 L780.1,769.7 L781.5,771.7 L782.6,773.8 L783.3,775.9Z" fill="url(#gcyl)"/><path d="M764.5,798.5 L764.2,1014.3" stroke="#000" stroke-width="2.0" fill="none" stroke-linecap="round"/><path d="M696.6,793.7 L697.3,1009.3" stroke="#000" stroke-width="2.0" fill="none" stroke-linecap="round"/><path d="M783.6,780.2 L783.0,995.5" stroke="#000" stroke-width="2.0" fill="none" stroke-linecap="round"/><path d="M687.8,995.1 L688.1,997.2 L688.8,999.4 L689.8,1001.5 L691.2,1003.6 L692.9,1005.6 L694.9,1007.5 L697.3,1009.3 L699.9,1011.0 L702.8,1012.6 L706.0,1014.1 L709.4,1015.3 L713.0,1016.5 L716.7,1017.4 L720.6,1018.2 L724.7,1018.8 L728.8,1019.2 L732.9,1019.4 L737.1,1019.4 L741.3,1019.2 L745.4,1018.9 L749.4,1018.3 L753.4,1017.6 L757.2,1016.7 L760.8,1015.6 L764.2,1014.3 L767.5,1012.9 L770.4,1011.4 L773.1,1009.7 L775.5,1007.9 L777.6,1006.0 L779.4,1004.0 L780.8,1001.9 L781.9,999.8 L782.7,997.7 L783.1,995.5 L783.1,993.3" stroke="#000" stroke-width="2.0" fill="none" stroke-linejoin="round" stroke-linecap="round"/>
<path d="M676.5,1003.0 L676.4,1005.2 L676.0,1007.4 L675.2,1009.6 L674.1,1011.7 L672.6,1013.8 L670.8,1015.8 L668.6,1017.7 L666.2,1019.5 L663.5,1021.2 L660.5,1022.7 L657.2,1024.1 L653.7,1025.4 L650.1,1026.5 L646.3,1027.4 L642.3,1028.2 L638.2,1028.7 L634.1,1029.1 L629.9,1029.3 L625.7,1029.2 L621.6,1029.0 L617.5,1028.6 L613.5,1028.0 L609.6,1027.3 L605.8,1026.3 L602.2,1025.2 L598.9,1023.9 L595.7,1022.4 L592.8,1020.9 L590.2,1019.2 L587.9,1017.3 L585.9,1015.4 L584.2,1013.4 L582.9,1011.3 L581.9,1009.2 L581.3,1007.0 L581.0,1004.8 L578.6,789.3 L578.7,787.2 L579.2,785.0 L580.0,782.9 L581.2,780.9 L582.7,778.9 L584.6,776.9 L586.8,775.1 L589.3,773.4 L592.1,771.8 L595.1,770.3 L598.4,768.9 L601.9,767.7 L605.6,766.7 L609.5,765.8 L613.4,765.1 L617.5,764.5 L621.7,764.2 L625.9,764.0 L630.1,764.0 L634.3,764.2 L638.4,764.6 L642.4,765.2 L646.4,765.9 L650.2,766.8 L653.8,767.9 L657.2,769.1 L660.4,770.5 L663.3,772.0 L666.0,773.7 L668.3,775.4 L670.4,777.3 L672.1,779.2 L673.5,781.2 L674.5,783.3 L675.2,785.4 L675.5,787.5Z" fill="url(#gcyl)"/><path d="M655.9,808.1 L657.2,1024.1" stroke="#000" stroke-width="2.0" fill="none" stroke-linecap="round"/><path d="M587.9,803.3 L590.2,1019.2" stroke="#000" stroke-width="2.0" fill="none" stroke-linecap="round"/><path d="M581.0,1004.8 L581.3,1007.0 L581.9,1009.2 L582.9,1011.3 L584.2,1013.4 L585.9,1015.4 L587.9,1017.3 L590.2,1019.2 L592.8,1020.9 L595.7,1022.4 L598.9,1023.9 L602.2,1025.2 L605.8,1026.3 L609.6,1027.3 L613.5,1028.0 L617.5,1028.6 L621.6,1029.0 L625.7,1029.2 L629.9,1029.3 L634.1,1029.1 L638.2,1028.7 L642.3,1028.2 L646.3,1027.4 L650.1,1026.5 L653.7,1025.4 L657.2,1024.1 L660.5,1022.7 L663.5,1021.2 L666.2,1019.5 L668.6,1017.7 L670.8,1015.8 L672.6,1013.8 L674.1,1011.7 L675.2,1009.6 L676.0,1007.4 L676.4,1005.2 L676.5,1003.0" stroke="#000" stroke-width="2.0" fill="none" stroke-linejoin="round" stroke-linecap="round"/>
<path d="M844.9,820.9 L843.4,1037.4 L843.0,1039.6 L842.3,1041.8 L841.2,1044.0 L839.8,1046.1 L838.0,1048.1 L835.9,1050.0 L833.5,1051.8 L830.8,1053.5 L827.8,1055.1 L824.6,1056.5 L821.2,1057.8 L817.5,1058.9 L813.7,1059.8 L809.8,1060.6 L805.7,1061.2 L801.5,1061.5 L797.3,1061.7 L793.1,1061.7 L788.9,1061.5 L784.8,1061.1 L780.7,1060.5 L776.8,1059.7 L773.0,1058.7 L769.3,1057.6 L765.9,1056.3 L762.7,1054.8 L759.7,1053.2 L757.0,1051.5 L754.7,1049.6 L752.6,1047.7 L750.8,1045.7 L749.4,1043.6 L748.4,1041.4 L747.7,1039.2 L747.3,1037.0 L747.4,820.6 L747.4,818.4 L747.8,816.2 L748.6,814.1 L749.7,812.0 L751.2,810.0 L753.0,808.0 L755.2,806.2 L757.6,804.4 L760.4,802.8 L763.4,801.3 L766.6,799.9 L770.1,798.7 L773.8,797.6 L777.7,796.7 L781.6,796.0 L785.7,795.5 L789.9,795.1 L794.1,794.9 L798.4,795.0 L802.6,795.2 L806.8,795.6 L810.8,796.1 L814.8,796.9 L818.7,797.8 L822.3,798.9 L825.8,800.1 L829.1,801.5 L832.1,803.1 L834.8,804.7 L837.2,806.5 L839.4,808.4 L841.2,810.4 L842.6,812.4 L843.7,814.5 L844.5,816.6 L844.9,818.8Z" fill="url(#gcyl)"/><path d="M825.8,839.6 L824.6,1056.5" stroke="#000" stroke-width="2.0" fill="none" stroke-linecap="round"/><path d="M757.2,834.7 L757.0,1051.5" stroke="#000" stroke-width="2.0" fill="none" stroke-linecap="round"/><path d="M844.9,821.0 L843.4,1037.4" stroke="#000" stroke-width="2.0" fill="none" stroke-linecap="round"/><path d="M747.3,1037.0 L747.7,1039.2 L748.4,1041.4 L749.4,1043.6 L750.8,1045.7 L752.6,1047.7 L754.7,1049.6 L757.0,1051.5 L759.7,1053.2 L762.7,1054.8 L765.9,1056.3 L769.3,1057.6 L773.0,1058.7 L776.8,1059.7 L780.7,1060.5 L784.8,1061.1 L788.9,1061.5 L793.1,1061.7 L797.3,1061.7 L801.5,1061.5 L805.7,1061.2 L809.8,1060.6 L813.7,1059.8 L817.5,1058.9 L821.2,1057.8 L824.6,1056.5 L827.8,1055.1 L830.8,1053.5 L833.5,1051.8 L835.9,1050.0 L838.0,1048.1 L839.8,1046.1 L841.2,1044.0 L842.3,1041.8 L843.0,1039.6 L843.4,1037.4" stroke="#000" stroke-width="2.0" fill="none" stroke-linejoin="round" stroke-linecap="round"/>
<path d="M736.0,1045.1 L736.0,1047.3 L735.6,1049.5 L734.8,1051.7 L733.7,1053.9 L732.2,1056.0 L730.4,1058.0 L728.3,1060.0 L725.8,1061.8 L723.1,1063.5 L720.1,1065.1 L716.8,1066.5 L713.4,1067.8 L709.7,1068.9 L705.8,1069.8 L701.9,1070.6 L697.8,1071.2 L693.6,1071.5 L689.4,1071.7 L685.2,1071.7 L681.0,1071.5 L676.8,1071.1 L672.8,1070.5 L668.8,1069.7 L665.0,1068.7 L661.4,1067.6 L658.0,1066.3 L654.8,1064.8 L651.9,1063.2 L649.2,1061.5 L646.9,1059.6 L644.8,1057.7 L643.1,1055.6 L641.8,1053.5 L640.8,1051.3 L640.1,1049.1 L639.8,1046.9 L638.2,830.2 L638.3,828.1 L638.8,825.9 L639.6,823.8 L640.8,821.7 L642.3,819.6 L644.2,817.7 L646.3,815.8 L648.8,814.0 L651.6,812.4 L654.7,810.9 L658.0,809.5 L661.5,808.3 L665.2,807.2 L669.1,806.3 L673.1,805.6 L677.2,805.1 L681.4,804.7 L685.6,804.5 L689.9,804.5 L694.1,804.7 L698.3,805.1 L702.3,805.7 L706.3,806.5 L710.1,807.4 L713.8,808.5 L717.2,809.7 L720.5,811.1 L723.4,812.7 L726.1,814.4 L728.5,816.1 L730.6,818.0 L732.4,820.0 L733.8,822.0 L734.9,824.1 L735.6,826.3 L735.9,828.4Z" fill="url(#gcyl)"/><path d="M716.4,849.3 L716.8,1066.5" stroke="#000" stroke-width="2.0" fill="none" stroke-linecap="round"/><path d="M647.8,844.4 L649.2,1061.5" stroke="#000" stroke-width="2.0" fill="none" stroke-linecap="round"/><path d="M639.8,1046.9 L640.1,1049.1 L640.8,1051.3 L641.8,1053.5 L643.1,1055.6 L644.8,1057.7 L646.9,1059.6 L649.2,1061.5 L651.9,1063.2 L654.8,1064.8 L658.0,1066.3 L661.4,1067.6 L665.0,1068.7 L668.8,1069.7 L672.8,1070.5 L676.8,1071.1 L681.0,1071.5 L685.2,1071.7 L689.4,1071.7 L693.6,1071.5 L697.8,1071.2 L701.9,1070.6 L705.8,1069.8 L709.7,1068.9 L713.4,1067.8 L716.8,1066.5 L720.1,1065.1 L723.1,1063.5 L725.8,1061.8 L728.3,1060.0 L730.4,1058.0 L732.2,1056.0 L733.7,1053.9 L734.8,1051.7 L735.6,1049.5 L736.0,1047.3 L736.0,1045.1" stroke="#000" stroke-width="2.0" fill="none" stroke-linejoin="round" stroke-linecap="round"/>
<path d="M907.1,862.4 L904.7,1080.0 L904.3,1082.3 L903.6,1084.5 L902.6,1086.7 L901.2,1088.8 L899.4,1090.8 L897.3,1092.8 L894.9,1094.7 L892.2,1096.4 L889.2,1098.0 L886.0,1099.4 L882.5,1100.7 L878.9,1101.9 L875.0,1102.8 L871.1,1103.6 L867.0,1104.2 L862.8,1104.5 L858.5,1104.7 L854.3,1104.7 L850.1,1104.5 L845.9,1104.1 L841.8,1103.4 L837.8,1102.6 L833.9,1101.7 L830.3,1100.5 L826.8,1099.2 L823.5,1097.7 L820.5,1096.1 L817.8,1094.3 L815.4,1092.4 L813.3,1090.5 L811.5,1088.4 L810.0,1086.3 L808.9,1084.1 L808.2,1081.8 L807.8,1079.6 L807.9,1077.3 L808.8,859.8 L809.2,857.6 L810.0,855.4 L811.1,853.3 L812.5,851.3 L814.3,849.3 L816.5,847.4 L818.9,845.6 L821.7,843.9 L824.7,842.4 L828.0,841.0 L831.5,839.8 L835.2,838.7 L839.0,837.8 L843.1,837.1 L847.2,836.5 L851.4,836.2 L855.6,836.0 L859.9,836.0 L864.2,836.2 L868.4,836.6 L872.5,837.2 L876.5,837.9 L880.4,838.9 L884.1,840.0 L887.6,841.3 L890.9,842.7 L894.0,844.2 L896.8,845.9 L899.2,847.7 L901.4,849.6 L903.2,851.6 L904.7,853.7 L905.9,855.8 L906.7,858.0 L907.1,860.2Z" fill="url(#gcyl)"/><path d="M888.2,881.4 L886.0,1099.4" stroke="#000" stroke-width="2.0" fill="none" stroke-linecap="round"/><path d="M818.9,876.4 L817.8,1094.3" stroke="#000" stroke-width="2.0" fill="none" stroke-linecap="round"/><path d="M907.1,862.4 L904.7,1080.0" stroke="#000" stroke-width="2.0" fill="none" stroke-linecap="round"/><path d="M807.8,1079.6 L808.2,1081.8 L808.9,1084.1 L810.0,1086.3 L811.5,1088.4 L813.3,1090.5 L815.4,1092.4 L817.8,1094.3 L820.5,1096.1 L823.5,1097.7 L826.8,1099.2 L830.3,1100.5 L833.9,1101.7 L837.8,1102.6 L841.8,1103.4 L845.9,1104.1 L850.1,1104.5 L854.3,1104.7 L858.5,1104.7 L862.8,1104.5 L867.0,1104.2 L871.1,1103.6 L875.0,1102.8 L878.9,1101.9 L882.5,1100.7 L886.0,1099.4 L889.2,1098.0 L892.2,1096.4 L894.9,1094.7 L897.3,1092.8 L899.4,1090.9 L901.2,1088.8 L902.6,1086.7 L903.6,1084.5 L904.3,1082.3 L904.7,1080.0" stroke="#000" stroke-width="2.0" fill="none" stroke-linejoin="round" stroke-linecap="round"/>
<path d="M797.4,870.0 L796.6,1087.8 L796.5,1090.1 L796.2,1092.3 L795.4,1094.6 L794.3,1096.8 L792.8,1098.9 L791.0,1101.0 L788.9,1102.9 L786.5,1104.8 L783.7,1106.5 L780.7,1108.1 L777.4,1109.6 L773.9,1110.9 L770.3,1112.0 L766.4,1113.0 L762.4,1113.7 L758.3,1114.3 L754.1,1114.7 L749.8,1114.9 L745.6,1114.9 L741.3,1114.6 L737.2,1114.2 L733.1,1113.6 L729.1,1112.8 L725.2,1111.8 L721.6,1110.7 L718.1,1109.3 L714.9,1107.8 L711.9,1106.2 L709.2,1104.4 L706.8,1102.6 L704.8,1100.6 L703.0,1098.5 L701.6,1096.4 L700.6,1094.1 L699.9,1091.9 L699.6,1089.6 L698.9,871.8 L698.9,869.6 L699.4,867.4 L700.2,865.3 L701.3,863.1 L702.8,861.1 L704.7,859.1 L706.9,857.2 L709.4,855.4 L712.2,853.7 L715.2,852.2 L718.5,850.8 L722.1,849.5 L725.8,848.4 L729.7,847.5 L733.7,846.8 L737.9,846.2 L742.1,845.9 L746.3,845.7 L750.6,845.7 L754.9,845.9 L759.1,846.3 L763.2,846.9 L767.2,847.7 L771.1,848.6 L774.8,849.7 L778.3,851.0 L781.6,852.4 L784.6,854.0 L787.3,855.7 L789.8,857.5 L791.9,859.4 L793.7,861.4 L795.2,863.5 L796.3,865.6 L797.0,867.8Z" fill="url(#gcyl)"/><path d="M778.0,891.3 L777.4,1109.6" stroke="#000" stroke-width="2.0" fill="none" stroke-linecap="round"/><path d="M708.7,886.3 L709.2,1104.4" stroke="#000" stroke-width="2.0" fill="none" stroke-linecap="round"/><path d="M699.6,1089.6 L699.9,1091.9 L700.6,1094.1 L701.6,1096.4 L703.0,1098.5 L704.8,1100.6 L706.8,1102.6 L709.2,1104.4 L711.9,1106.2 L714.9,1107.8 L718.1,1109.3 L721.6,1110.7 L725.2,1111.8 L729.1,1112.8 L733.1,1113.6 L737.2,1114.2 L741.3,1114.6 L745.6,1114.9 L749.8,1114.9 L754.1,1114.7 L758.3,1114.3 L762.4,1113.7 L766.4,1113.0 L770.3,1112.0 L773.9,1110.9 L777.4,1109.6 L780.7,1108.1 L783.7,1106.5 L786.5,1104.8 L788.9,1102.9 L791.0,1101.0 L792.8,1098.9 L794.3,1096.8 L795.4,1094.6 L796.2,1092.3 L796.5,1090.1 L796.6,1087.8" stroke="#000" stroke-width="2.0" fill="none" stroke-linejoin="round" stroke-linecap="round"/>
<path d="M970.4,904.6 L967.0,1123.3 L966.7,1125.6 L966.0,1127.9 L965.0,1130.1 L963.5,1132.2 L961.8,1134.3 L959.7,1136.3 L957.3,1138.2 L954.6,1140.0 L951.6,1141.6 L948.4,1143.1 L944.9,1144.4 L941.2,1145.5 L937.4,1146.5 L933.4,1147.3 L929.2,1147.9 L925.0,1148.2 L920.8,1148.4 L916.5,1148.4 L912.2,1148.2 L908.0,1147.8 L903.8,1147.1 L899.8,1146.3 L895.9,1145.3 L892.2,1144.1 L888.7,1142.8 L885.4,1141.3 L882.3,1139.6 L879.6,1137.9 L877.1,1135.9 L874.9,1133.9 L873.1,1131.8 L871.6,1129.7 L870.5,1127.4 L869.7,1125.2 L869.3,1122.9 L869.3,1120.6 L871.3,901.9 L871.6,899.7 L872.3,897.5 L873.4,895.3 L874.9,893.2 L876.7,891.2 L878.8,889.3 L881.3,887.5 L884.0,885.8 L887.1,884.2 L890.3,882.8 L893.9,881.6 L897.6,880.5 L901.5,879.5 L905.5,878.8 L909.6,878.2 L913.9,877.9 L918.2,877.7 L922.5,877.7 L926.8,877.9 L931.0,878.3 L935.2,878.9 L939.2,879.7 L943.2,880.6 L946.9,881.8 L950.5,883.1 L953.8,884.5 L956.9,886.1 L959.7,887.8 L962.3,889.6 L964.5,891.6 L966.4,893.6 L967.9,895.7 L969.1,897.9 L969.9,900.1 L970.3,902.3Z" fill="url(#gcyl)"/><path d="M951.5,923.8 L948.4,1143.1" stroke="#000" stroke-width="2.0" fill="none" stroke-linecap="round"/><path d="M881.6,918.8 L879.6,1137.9" stroke="#000" stroke-width="2.0" fill="none" stroke-linecap="round"/><path d="M970.4,904.6 L967.0,1123.3" stroke="#000" stroke-width="2.0" fill="none" stroke-linecap="round"/><path d="M869.3,1120.6 L869.3,1122.9 L869.7,1125.2 L870.5,1127.4 L871.6,1129.7 L873.1,1131.8 L874.9,1133.9 L877.1,1135.9 L879.6,1137.9 L882.3,1139.6 L885.4,1141.3 L888.7,1142.8 L892.2,1144.1 L895.9,1145.3 L899.8,1146.3 L903.8,1147.1 L908.0,1147.8 L912.2,1148.2 L916.5,1148.4 L920.8,1148.4 L925.0,1148.2 L929.2,1147.9 L933.4,1147.3 L937.4,1146.5 L941.2,1145.5 L944.9,1144.4 L948.4,1143.1 L951.6,1141.6 L954.6,1140.0 L957.3,1138.2 L959.7,1136.3 L961.8,1134.3 L963.5,1132.2 L965.0,1130.1 L966.0,1127.9 L966.7,1125.6 L967.0,1123.3" stroke="#000" stroke-width="2.0" fill="none" stroke-linejoin="round" stroke-linecap="round"/>
<path d="M859.8,914.6 L858.1,1133.5 L857.7,1135.8 L857.0,1138.1 L855.9,1140.3 L854.5,1142.5 L852.7,1144.6 L850.5,1146.6 L848.1,1148.5 L845.3,1150.3 L842.3,1151.9 L839.0,1153.4 L835.5,1154.7 L831.8,1155.8 L827.9,1156.8 L823.9,1157.6 L819.8,1158.2 L815.5,1158.6 L811.3,1158.7 L807.0,1158.7 L802.7,1158.5 L798.5,1158.1 L794.3,1157.5 L790.3,1156.6 L786.4,1155.6 L782.7,1154.5 L779.2,1153.1 L776.0,1151.6 L772.9,1149.9 L770.2,1148.1 L767.8,1146.2 L765.7,1144.2 L763.9,1142.1 L762.4,1139.9 L761.3,1137.7 L760.6,1135.4 L760.3,1133.1 L760.5,914.1 L760.6,911.9 L761.0,909.7 L761.7,907.4 L762.9,905.3 L764.4,903.2 L766.2,901.2 L768.4,899.2 L770.9,897.4 L773.7,895.7 L776.8,894.1 L780.1,892.7 L783.6,891.5 L787.4,890.4 L791.3,889.4 L795.4,888.7 L799.5,888.1 L803.8,887.8 L808.1,887.6 L812.4,887.6 L816.7,887.8 L820.9,888.2 L825.1,888.8 L829.2,889.6 L833.1,890.5 L836.8,891.7 L840.3,893.0 L843.7,894.4 L846.7,896.0 L849.5,897.7 L852.0,899.6 L854.2,901.5 L856.0,903.6 L857.5,905.7 L858.6,907.8 L859.4,910.1 L859.8,912.3Z" fill="url(#gcyl)"/><path d="M840.5,933.9 L839.0,1153.4" stroke="#000" stroke-width="2.0" fill="none" stroke-linecap="round"/><path d="M770.6,928.8 L770.2,1148.1" stroke="#000" stroke-width="2.0" fill="none" stroke-linecap="round"/><path d="M760.3,1133.1 L760.6,1135.4 L761.3,1137.7 L762.4,1139.9 L763.9,1142.1 L765.7,1144.2 L767.8,1146.2 L770.2,1148.1 L772.9,1149.9 L776.0,1151.6 L779.2,1153.1 L782.7,1154.5 L786.4,1155.6 L790.3,1156.6 L794.3,1157.5 L798.5,1158.1 L802.7,1158.5 L807.0,1158.7 L811.3,1158.7 L815.5,1158.6 L819.8,1158.2 L823.9,1157.6 L827.9,1156.8 L831.8,1155.8 L835.5,1154.7 L839.0,1153.4 L842.3,1151.9 L845.3,1150.3 L848.1,1148.5 L850.5,1146.6 L852.7,1144.6 L854.5,1142.5 L855.9,1140.3 L857.0,1138.1 L857.7,1135.8 L858.1,1133.5" stroke="#000" stroke-width="2.0" fill="none" stroke-linejoin="round" stroke-linecap="round"/>
<path d="M1034.8,947.4 L1030.3,1167.3 L1030.0,1169.6 L1029.4,1172.0 L1028.4,1174.2 L1027.0,1176.4 L1025.2,1178.5 L1023.1,1180.6 L1020.7,1182.5 L1018.0,1184.3 L1015.1,1185.9 L1011.8,1187.4 L1008.3,1188.8 L1004.6,1189.9 L1000.7,1190.9 L996.7,1191.7 L992.6,1192.3 L988.3,1192.7 L984.0,1192.9 L979.7,1192.8 L975.4,1192.6 L971.1,1192.2 L966.9,1191.5 L962.9,1190.7 L958.9,1189.7 L955.2,1188.5 L951.6,1187.1 L948.2,1185.6 L945.2,1183.9 L942.3,1182.1 L939.8,1180.2 L937.6,1178.1 L935.8,1176.0 L934.2,1173.8 L933.1,1171.5 L932.3,1169.2 L931.9,1166.9 L931.8,1164.5 L934.7,944.7 L935.1,942.5 L935.8,940.2 L936.8,938.0 L938.3,935.9 L940.1,933.9 L942.2,931.9 L944.7,930.1 L947.4,928.3 L950.4,926.7 L953.7,925.3 L957.3,924.0 L961.0,922.9 L964.9,922.0 L969.0,921.2 L973.1,920.7 L977.4,920.3 L981.7,920.1 L986.1,920.1 L990.4,920.3 L994.7,920.7 L998.9,921.3 L1003.0,922.1 L1007.0,923.1 L1010.8,924.2 L1014.4,925.6 L1017.8,927.0 L1020.9,928.6 L1023.8,930.4 L1026.4,932.3 L1028.6,934.2 L1030.5,936.3 L1032.1,938.4 L1033.3,940.6 L1034.2,942.9 L1034.7,945.1Z" fill="url(#gcyl)"/><path d="M1016.0,967.0 L1011.8,1187.4" stroke="#000" stroke-width="2.0" fill="none" stroke-linecap="round"/><path d="M945.4,961.9 L942.3,1182.1" stroke="#000" stroke-width="2.0" fill="none" stroke-linecap="round"/><path d="M1034.7,947.5 L1030.3,1167.3" stroke="#000" stroke-width="2.0" fill="none" stroke-linecap="round"/><path d="M931.8,1164.5 L931.9,1166.9 L932.3,1169.2 L933.1,1171.5 L934.2,1173.8 L935.8,1176.0 L937.6,1178.1 L939.8,1180.2 L942.3,1182.1 L945.2,1183.9 L948.2,1185.6 L951.6,1187.1 L955.2,1188.5 L958.9,1189.7 L962.9,1190.7 L966.9,1191.5 L971.1,1192.2 L975.4,1192.6 L979.7,1192.8 L984.0,1192.9 L988.3,1192.7 L992.6,1192.3 L996.7,1191.7 L1000.7,1190.9 L1004.6,1189.9 L1008.3,1188.8 L1011.8,1187.4 L1015.1,1185.9 L1018.0,1184.3 L1020.7,1182.5 L1023.1,1180.6 L1025.2,1178.5 L1027.0,1176.4 L1028.4,1174.2 L1029.4,1172.0 L1030.0,1169.6 L1030.3,1167.3" stroke="#000" stroke-width="2.0" fill="none" stroke-linejoin="round" stroke-linecap="round"/>
<path d="M923.4,957.6 L920.6,1177.7 L920.3,1180.1 L919.6,1182.4 L918.5,1184.6 L917.1,1186.8 L915.3,1189.0 L913.2,1191.0 L910.7,1192.9 L908.0,1194.7 L905.0,1196.4 L901.7,1197.9 L898.1,1199.2 L894.4,1200.4 L890.5,1201.4 L886.5,1202.2 L882.3,1202.8 L878.0,1203.2 L873.7,1203.4 L869.4,1203.3 L865.1,1203.1 L860.8,1202.7 L856.6,1202.0 L852.6,1201.2 L848.6,1200.2 L844.9,1199.0 L841.4,1197.6 L838.0,1196.1 L835.0,1194.4 L832.2,1192.6 L829.7,1190.6 L827.6,1188.6 L825.7,1186.4 L824.3,1184.2 L823.1,1181.9 L822.4,1179.6 L822.0,1177.3 L822.0,1174.9 L823.2,954.9 L823.6,952.6 L824.4,950.3 L825.5,948.2 L827.0,946.0 L828.8,944.0 L831.0,942.0 L833.5,940.1 L836.3,938.4 L839.4,936.8 L842.7,935.4 L846.2,934.1 L850.0,933.0 L853.9,932.0 L858.0,931.3 L862.2,930.7 L866.5,930.3 L870.8,930.2 L875.2,930.2 L879.5,930.4 L883.8,930.8 L888.0,931.4 L892.1,932.2 L896.1,933.2 L899.9,934.3 L903.5,935.6 L906.8,937.1 L909.9,938.7 L912.7,940.5 L915.3,942.4 L917.5,944.3 L919.4,946.4 L920.9,948.6 L922.1,950.8 L922.9,953.0 L923.3,955.3Z" fill="url(#gcyl)"/><path d="M904.1,977.2 L901.7,1197.9" stroke="#000" stroke-width="2.0" fill="none" stroke-linecap="round"/><path d="M833.6,972.1 L832.2,1192.6" stroke="#000" stroke-width="2.0" fill="none" stroke-linecap="round"/><path d="M822.0,1174.9 L822.0,1177.3 L822.4,1179.6 L823.1,1181.9 L824.3,1184.2 L825.7,1186.4 L827.6,1188.6 L829.7,1190.6 L832.2,1192.6 L835.0,1194.4 L838.0,1196.1 L841.4,1197.6 L844.9,1199.0 L848.6,1200.2 L852.6,1201.2 L856.6,1202.0 L860.8,1202.7 L865.1,1203.1 L869.4,1203.3 L873.7,1203.4 L878.0,1203.2 L882.3,1202.8 L886.5,1202.2 L890.5,1201.4 L894.4,1200.4 L898.1,1199.2 L901.7,1197.9 L905.0,1196.4 L908.0,1194.7 L910.7,1192.9 L913.2,1191.0 L915.3,1189.0 L917.1,1186.8 L918.5,1184.6 L919.6,1182.4 L920.3,1180.1 L920.6,1177.7" stroke="#000" stroke-width="2.0" fill="none" stroke-linejoin="round" stroke-linecap="round"/>
<path d="M1100.2,991.0 L1094.7,1212.1 L1094.5,1214.4 L1093.8,1216.8 L1092.8,1219.1 L1091.4,1221.3 L1089.7,1223.5 L1087.6,1225.5 L1085.2,1227.5 L1082.5,1229.3 L1079.5,1231.0 L1076.3,1232.5 L1072.8,1233.9 L1069.1,1235.0 L1065.2,1236.0 L1061.1,1236.8 L1056.9,1237.4 L1052.7,1237.8 L1048.3,1238.0 L1044.0,1238.0 L1039.6,1237.8 L1035.3,1237.3 L1031.1,1236.7 L1027.0,1235.9 L1023.0,1234.8 L1019.2,1233.6 L1015.6,1232.2 L1012.2,1230.7 L1009.0,1229.0 L1006.2,1227.1 L1003.6,1225.1 L1001.4,1223.1 L999.5,1220.9 L997.9,1218.6 L996.7,1216.3 L995.9,1214.0 L995.4,1211.6 L995.4,1209.2 L999.3,988.3 L999.6,986.0 L1000.3,983.7 L1001.3,981.5 L1002.8,979.3 L1004.5,977.2 L1006.7,975.2 L1009.1,973.3 L1011.9,971.6 L1014.9,970.0 L1018.2,968.5 L1021.7,967.2 L1025.5,966.1 L1029.4,965.1 L1033.5,964.4 L1037.7,963.8 L1042.0,963.4 L1046.4,963.2 L1050.7,963.2 L1055.1,963.5 L1059.4,963.9 L1063.7,964.5 L1067.9,965.3 L1071.9,966.3 L1075.7,967.4 L1079.4,968.8 L1082.8,970.3 L1086.0,971.9 L1088.9,973.7 L1091.5,975.6 L1093.8,977.6 L1095.8,979.7 L1097.4,981.9 L1098.7,984.1 L1099.6,986.4 L1100.1,988.7Z" fill="url(#gcyl)"/><path d="M1081.5,1010.9 L1076.3,1232.5" stroke="#000" stroke-width="2.0" fill="none" stroke-linecap="round"/><path d="M1010.3,1005.7 L1006.2,1227.1" stroke="#000" stroke-width="2.0" fill="none" stroke-linecap="round"/><path d="M1100.2,991.0 L1094.7,1212.1" stroke="#000" stroke-width="2.0" fill="none" stroke-linecap="round"/><path d="M995.4,1209.2 L995.4,1211.6 L995.9,1214.0 L996.7,1216.3 L997.9,1218.6 L999.5,1220.9 L1001.4,1223.1 L1003.6,1225.1 L1006.2,1227.1 L1009.0,1229.0 L1012.2,1230.7 L1015.6,1232.2 L1019.2,1233.6 L1023.0,1234.8 L1027.0,1235.9 L1031.1,1236.7 L1035.3,1237.3 L1039.6,1237.8 L1044.0,1238.0 L1048.3,1238.0 L1052.7,1237.8 L1056.9,1237.4 L1061.1,1236.8 L1065.2,1236.0 L1069.1,1235.0 L1072.8,1233.9 L1076.3,1232.5 L1079.5,1231.0 L1082.5,1229.3 L1085.2,1227.5 L1087.6,1225.5 L1089.7,1223.5 L1091.4,1221.3 L1092.8,1219.1 L1093.8,1216.8 L1094.5,1214.4 L1094.7,1212.1" stroke="#000" stroke-width="2.0" fill="none" stroke-linejoin="round" stroke-linecap="round"/>
<path d="M988.0,1001.3 L984.2,1222.6 L983.9,1225.0 L983.2,1227.4 L982.2,1229.7 L980.8,1231.9 L979.0,1234.1 L976.9,1236.2 L974.4,1238.1 L971.7,1239.9 L968.6,1241.6 L965.3,1243.2 L961.8,1244.5 L958.1,1245.7 L954.1,1246.7 L950.1,1247.5 L945.9,1248.1 L941.6,1248.5 L937.2,1248.7 L932.9,1248.7 L928.5,1248.5 L924.2,1248.0 L920.0,1247.4 L915.9,1246.5 L911.9,1245.5 L908.1,1244.3 L904.5,1242.9 L901.2,1241.3 L898.0,1239.6 L895.2,1237.7 L892.7,1235.8 L890.5,1233.7 L888.6,1231.5 L887.1,1229.2 L886.0,1226.9 L885.2,1224.6 L884.8,1222.2 L884.7,1219.8 L886.9,998.6 L887.3,996.3 L888.0,994.0 L889.1,991.7 L890.6,989.6 L892.5,987.5 L894.6,985.5 L897.1,983.6 L899.9,981.8 L903.0,980.2 L906.3,978.8 L909.9,977.4 L913.7,976.3 L917.7,975.4 L921.8,974.6 L926.0,974.0 L930.3,973.6 L934.7,973.4 L939.0,973.5 L943.4,973.7 L947.8,974.1 L952.0,974.7 L956.1,975.5 L960.2,976.5 L964.0,977.7 L967.6,979.0 L971.0,980.5 L974.2,982.2 L977.1,983.9 L979.6,985.8 L981.9,987.9 L983.8,990.0 L985.4,992.2 L986.6,994.4 L987.4,996.7 L987.9,999.0Z" fill="url(#gcyl)"/><path d="M968.8,1021.3 L965.3,1243.2" stroke="#000" stroke-width="2.0" fill="none" stroke-linecap="round"/><path d="M897.6,1016.1 L895.2,1237.7" stroke="#000" stroke-width="2.0" fill="none" stroke-linecap="round"/><path d="M884.7,1219.8 L884.8,1222.2 L885.2,1224.6 L886.0,1226.9 L887.1,1229.2 L888.6,1231.5 L890.5,1233.7 L892.7,1235.8 L895.2,1237.7 L898.0,1239.6 L901.2,1241.3 L904.5,1242.9 L908.1,1244.3 L911.9,1245.5 L915.9,1246.5 L920.0,1247.4 L924.2,1248.0 L928.5,1248.5 L932.9,1248.7 L937.2,1248.7 L941.6,1248.5 L945.9,1248.1 L950.1,1247.5 L954.1,1246.7 L958.1,1245.7 L961.8,1244.5 L965.3,1243.2 L968.6,1241.6 L971.7,1239.9 L974.4,1238.1 L976.9,1236.2 L979.0,1234.1 L980.8,1231.9 L982.2,1229.7 L983.2,1227.4 L983.9,1225.0 L984.2,1222.6" stroke="#000" stroke-width="2.0" fill="none" stroke-linejoin="round" stroke-linecap="round"/>
<path d="M1053.7,1045.8 L1048.9,1268.3 L1048.6,1270.7 L1048.0,1273.1 L1046.9,1275.5 L1045.5,1277.8 L1043.7,1280.0 L1041.6,1282.1 L1039.2,1284.1 L1036.4,1285.9 L1033.4,1287.6 L1030.1,1289.2 L1026.5,1290.6 L1022.8,1291.8 L1018.8,1292.8 L1014.7,1293.6 L1010.5,1294.2 L1006.2,1294.6 L1001.8,1294.8 L997.4,1294.8 L993.0,1294.6 L988.7,1294.1 L984.4,1293.5 L980.2,1292.6 L976.2,1291.5 L972.4,1290.3 L968.7,1288.9 L965.3,1287.3 L962.2,1285.6 L959.3,1283.7 L956.7,1281.7 L954.5,1279.5 L952.6,1277.3 L951.0,1275.0 L949.9,1272.7 L949.0,1270.3 L948.6,1267.8 L948.5,1265.4 L951.8,1043.0 L952.1,1040.7 L952.8,1038.4 L953.9,1036.1 L955.4,1033.9 L957.2,1031.7 L959.3,1029.7 L961.8,1027.8 L964.6,1026.0 L967.7,1024.4 L971.1,1022.9 L974.7,1021.5 L978.5,1020.4 L982.4,1019.4 L986.6,1018.6 L990.8,1018.0 L995.2,1017.7 L999.6,1017.5 L1004.0,1017.5 L1008.4,1017.7 L1012.8,1018.1 L1017.1,1018.8 L1021.3,1019.6 L1025.3,1020.6 L1029.2,1021.8 L1032.9,1023.1 L1036.3,1024.7 L1039.5,1026.3 L1042.5,1028.1 L1045.1,1030.1 L1047.4,1032.1 L1049.4,1034.3 L1051.0,1036.5 L1052.2,1038.8 L1053.1,1041.1 L1053.6,1043.5Z" fill="url(#gcyl)"/><path d="M1034.6,1066.2 L1030.1,1289.2" stroke="#000" stroke-width="2.0" fill="none" stroke-linecap="round"/><path d="M962.7,1060.8 L959.3,1283.7" stroke="#000" stroke-width="2.0" fill="none" stroke-linecap="round"/><path d="M948.5,1265.4 L948.6,1267.8 L949.0,1270.3 L949.9,1272.7 L951.0,1275.0 L952.6,1277.3 L954.5,1279.5 L956.7,1281.7 L959.3,1283.7 L962.2,1285.6 L965.3,1287.3 L968.7,1288.9 L972.4,1290.3 L976.2,1291.5 L980.2,1292.6 L984.4,1293.5 L988.7,1294.1 L993.0,1294.6 L997.4,1294.8 L1001.8,1294.8 L1006.2,1294.6 L1010.5,1294.2 L1014.7,1293.6 L1018.8,1292.8 L1022.8,1291.8 L1026.5,1290.6 L1030.1,1289.2 L1033.4,1287.6 L1036.4,1285.9 L1039.2,1284.1 L1041.6,1282.1 L1043.7,1280.0 L1045.5,1277.8 L1046.9,1275.5 L1048.0,1273.1 L1048.6,1270.7 L1048.9,1268.3" stroke="#000" stroke-width="2.0" fill="none" stroke-linejoin="round" stroke-linecap="round"/>
<path d="M154.5,520.9 L1016.0,1114.9 L1011.8,1339.1 L162.7,728.7Z" fill="#35a3ff" stroke="#000" stroke-width="2.0" stroke-linejoin="round"/>
<path d="M1016.0,1114.9 L1041.9,1104.1 L1037.2,1328.1 L1011.8,1339.1Z" fill="#2a7acc" stroke="#000" stroke-width="2.0" stroke-linejoin="round"/>
<path d="M282.7,814.1 L282.5,816.1 L281.9,818.2 L281.0,820.2 L279.7,822.1 L278.1,824.1 L276.3,825.9 L274.0,827.7 L271.6,829.4 L268.8,830.9 L265.8,832.4 L262.6,833.7 L259.1,834.9 L255.5,835.9 L251.8,836.7 L247.9,837.4 L244.0,837.9 L240.0,838.3 L235.9,838.4 L231.9,838.4 L227.9,838.2 L224.0,837.9 L220.2,837.3 L216.5,836.6 L212.9,835.7 L209.6,834.7 L206.4,833.5 L203.5,832.1 L200.8,830.7 L198.4,829.1 L196.3,827.4 L194.5,825.6 L193.1,823.7 L191.9,821.8 L191.1,819.8 L190.7,817.8 L190.6,815.8 L182.6,605.5 L182.9,603.5 L183.5,601.5 L184.5,599.6 L185.8,597.7 L187.4,595.8 L189.3,594.0 L191.6,592.3 L194.1,590.7 L196.9,589.2 L200.0,587.8 L203.2,586.6 L206.7,585.4 L210.3,584.5 L214.1,583.6 L218.0,583.0 L222.0,582.5 L226.0,582.2 L230.1,582.0 L234.1,582.0 L238.1,582.2 L242.1,582.6 L245.9,583.1 L249.7,583.8 L253.2,584.6 L256.6,585.6 L259.8,586.8 L262.8,588.0 L265.5,589.4 L267.9,591.0 L270.1,592.6 L271.9,594.3 L273.4,596.1 L274.6,598.0 L275.4,599.9 L275.9,601.9 L276.0,603.8Z" fill="url(#gcyl)"/><path d="M255.6,622.9 L262.6,833.7" stroke="#000" stroke-width="2.0" fill="none" stroke-linecap="round"/><path d="M190.5,618.4 L198.4,829.1" stroke="#000" stroke-width="2.0" fill="none" stroke-linecap="round"/><path d="M276.0,604.7 L282.6,814.9" stroke="#000" stroke-width="2.0" fill="none" stroke-linecap="round"/><path d="M190.6,815.8 L190.7,817.8 L191.1,819.8 L191.9,821.8 L193.1,823.7 L194.5,825.6 L196.3,827.4 L198.4,829.1 L200.8,830.7 L203.5,832.1 L206.4,833.5 L209.6,834.7 L212.9,835.7 L216.5,836.6 L220.2,837.3 L224.0,837.9 L227.9,838.2 L231.9,838.4 L235.9,838.4 L240.0,838.3 L244.0,837.9 L247.9,837.4 L251.8,836.7 L255.5,835.9 L259.1,834.9 L262.6,833.7 L265.8,832.4 L268.8,830.9 L271.6,829.4 L274.0,827.7 L276.3,825.9 L278.1,824.1 L279.7,822.1 L281.0,820.2 L281.9,818.2 L282.5,816.1 L282.7,814.1" stroke="#000" stroke-width="2.0" fill="none" stroke-linejoin="round" stroke-linecap="round"/>
<path d="M337.0,853.1 L336.8,855.2 L336.2,857.2 L335.3,859.3 L334.1,861.3 L332.5,863.2 L330.6,865.1 L328.4,866.9 L325.9,868.6 L323.2,870.2 L320.2,871.7 L316.9,873.0 L313.5,874.2 L309.9,875.2 L306.1,876.1 L302.2,876.8 L298.2,877.3 L294.2,877.7 L290.1,877.8 L286.1,877.8 L282.0,877.6 L278.1,877.2 L274.2,876.7 L270.5,876.0 L266.9,875.1 L263.5,874.0 L260.3,872.8 L257.3,871.4 L254.6,869.9 L252.2,868.3 L250.1,866.6 L248.2,864.8 L246.7,862.9 L245.6,860.9 L244.8,858.9 L244.3,856.9 L244.2,854.8 L236.9,643.4 L237.2,641.4 L237.8,639.4 L238.7,637.4 L240.0,635.5 L241.6,633.6 L243.6,631.8 L245.8,630.1 L248.4,628.4 L251.2,626.9 L254.2,625.5 L257.5,624.2 L261.0,623.1 L264.6,622.1 L268.4,621.3 L272.3,620.6 L276.3,620.1 L280.4,619.7 L284.5,619.6 L288.6,619.6 L292.6,619.8 L296.6,620.2 L300.5,620.7 L304.2,621.4 L307.9,622.2 L311.3,623.3 L314.5,624.4 L317.5,625.7 L320.3,627.1 L322.7,628.7 L324.9,630.3 L326.8,632.1 L328.3,633.9 L329.5,635.8 L330.4,637.8 L330.9,639.8 L331.1,641.8Z" fill="url(#gcyl)"/><path d="M310.7,661.1 L316.9,873.0" stroke="#000" stroke-width="2.0" fill="none" stroke-linecap="round"/><path d="M245.0,656.6 L252.2,868.3" stroke="#000" stroke-width="2.0" fill="none" stroke-linecap="round"/><path d="M331.0,642.6 L336.9,854.0" stroke="#000" stroke-width="2.0" fill="none" stroke-linecap="round"/><path d="M244.2,854.8 L244.3,856.9 L244.8,858.9 L245.6,860.9 L246.7,862.9 L248.2,864.8 L250.1,866.6 L252.2,868.3 L254.6,869.9 L257.3,871.4 L260.3,872.8 L263.5,874.0 L266.9,875.1 L270.5,876.0 L274.2,876.7 L278.1,877.2 L282.0,877.6 L286.1,877.8 L290.1,877.8 L294.2,877.7 L298.2,877.3 L302.2,876.8 L306.1,876.1 L309.9,875.2 L313.5,874.2 L316.9,873.0 L320.2,871.7 L323.2,870.2 L325.9,868.6 L328.4,866.9 L330.6,865.1 L332.5,863.2 L334.1,861.3 L335.3,859.3 L336.2,857.2 L336.8,855.2 L337.0,853.1" stroke="#000" stroke-width="2.0" fill="none" stroke-linejoin="round" stroke-linecap="round"/>
<path d="M392.1,892.7 L391.9,894.8 L391.4,896.9 L390.5,899.0 L389.3,901.1 L387.7,903.0 L385.8,905.0 L383.6,906.8 L381.1,908.5 L378.4,910.1 L375.4,911.6 L372.1,913.0 L368.7,914.2 L365.0,915.2 L361.2,916.1 L357.3,916.8 L353.3,917.3 L349.3,917.7 L345.2,917.9 L341.1,917.8 L337.0,917.6 L333.0,917.3 L329.1,916.7 L325.3,915.9 L321.7,915.0 L318.3,914.0 L315.0,912.7 L312.0,911.3 L309.3,909.8 L306.8,908.2 L304.7,906.5 L302.8,904.6 L301.3,902.7 L300.1,900.7 L299.2,898.6 L298.7,896.6 L298.6,894.5 L292.1,682.0 L292.3,679.9 L292.9,677.9 L293.8,675.9 L295.1,673.9 L296.7,672.0 L298.7,670.2 L300.9,668.4 L303.4,666.7 L306.3,665.2 L309.3,663.8 L312.6,662.5 L316.1,661.3 L319.8,660.3 L323.6,659.5 L327.5,658.8 L331.6,658.3 L335.6,657.9 L339.8,657.8 L343.9,657.8 L347.9,658.0 L352.0,658.3 L355.9,658.9 L359.7,659.6 L363.3,660.5 L366.8,661.5 L370.1,662.7 L373.1,664.0 L375.9,665.4 L378.4,667.0 L380.6,668.7 L382.5,670.5 L384.1,672.3 L385.3,674.3 L386.2,676.2 L386.8,678.3 L387.0,680.3Z" fill="url(#gcyl)"/><path d="M366.6,700.0 L372.1,913.0" stroke="#000" stroke-width="2.0" fill="none" stroke-linecap="round"/><path d="M300.4,695.4 L306.8,908.2" stroke="#000" stroke-width="2.0" fill="none" stroke-linecap="round"/><path d="M386.9,681.2 L392.1,893.6" stroke="#000" stroke-width="2.0" fill="none" stroke-linecap="round"/><path d="M298.6,894.5 L298.7,896.6 L299.2,898.6 L300.1,900.7 L301.3,902.7 L302.8,904.6 L304.7,906.5 L306.8,908.2 L309.3,909.8 L312.0,911.3 L315.0,912.7 L318.3,914.0 L321.7,915.0 L325.3,915.9 L329.1,916.7 L333.0,917.3 L337.0,917.6 L341.1,917.8 L345.2,917.9 L349.3,917.7 L353.3,917.3 L357.3,916.8 L361.2,916.1 L365.0,915.2 L368.7,914.2 L372.1,913.0 L375.4,911.6 L378.4,910.1 L381.1,908.5 L383.6,906.8 L385.8,905.0 L387.7,903.0 L389.3,901.1 L390.5,899.0 L391.4,896.9 L391.9,894.8 L392.1,892.7" stroke="#000" stroke-width="2.0" fill="none" stroke-linejoin="round" stroke-linecap="round"/>
<path d="M448.1,933.0 L448.0,935.1 L447.4,937.3 L446.6,939.4 L445.4,941.5 L443.8,943.5 L441.9,945.4 L439.7,947.3 L437.2,949.0 L434.5,950.7 L431.4,952.2 L428.2,953.5 L424.7,954.8 L421.1,955.8 L417.3,956.7 L413.3,957.5 L409.3,958.0 L405.2,958.4 L401.1,958.5 L396.9,958.5 L392.9,958.3 L388.8,957.9 L384.9,957.3 L381.1,956.6 L377.4,955.6 L373.9,954.6 L370.7,953.3 L367.6,951.9 L364.8,950.4 L362.3,948.7 L360.1,946.9 L358.2,945.1 L356.7,943.1 L355.5,941.1 L354.6,939.0 L354.1,936.9 L353.9,934.7 L348.1,721.2 L348.3,719.1 L348.9,717.0 L349.8,715.0 L351.1,713.0 L352.7,711.0 L354.6,709.1 L356.9,707.4 L359.4,705.7 L362.2,704.1 L365.3,702.6 L368.6,701.3 L372.1,700.2 L375.8,699.1 L379.6,698.3 L383.6,697.6 L387.6,697.1 L391.8,696.7 L395.9,696.6 L400.1,696.6 L404.2,696.8 L408.2,697.1 L412.2,697.7 L416.0,698.4 L419.7,699.3 L423.2,700.3 L426.5,701.5 L429.6,702.9 L432.4,704.4 L435.0,706.0 L437.2,707.7 L439.2,709.5 L440.8,711.4 L442.1,713.3 L443.0,715.3 L443.5,717.4 L443.8,719.4Z" fill="url(#gcyl)"/><path d="M423.5,739.4 L428.2,953.5" stroke="#000" stroke-width="2.0" fill="none" stroke-linecap="round"/><path d="M356.7,734.7 L362.3,948.7" stroke="#000" stroke-width="2.0" fill="none" stroke-linecap="round"/><path d="M443.7,720.3 L448.1,933.9" stroke="#000" stroke-width="2.0" fill="none" stroke-linecap="round"/><path d="M353.9,934.7 L354.1,936.9 L354.6,939.0 L355.5,941.1 L356.7,943.1 L358.2,945.1 L360.1,946.9 L362.3,948.7 L364.8,950.4 L367.6,951.9 L370.7,953.3 L373.9,954.6 L377.4,955.6 L381.1,956.6 L384.9,957.3 L388.8,957.9 L392.9,958.3 L396.9,958.5 L401.1,958.5 L405.2,958.4 L409.3,958.0 L413.3,957.5 L417.3,956.7 L421.1,955.8 L424.7,954.8 L428.2,953.5 L431.4,952.2 L434.5,950.7 L437.2,949.0 L439.7,947.3 L441.9,945.4 L443.8,943.5 L445.4,941.5 L446.6,939.4 L447.4,937.3 L448.0,935.1 L448.1,933.0" stroke="#000" stroke-width="2.0" fill="none" stroke-linejoin="round" stroke-linecap="round"/>
<path d="M505.0,973.9 L504.9,976.1 L504.4,978.3 L503.5,980.4 L502.3,982.5 L500.8,984.5 L498.9,986.5 L496.7,988.4 L494.2,990.2 L491.5,991.8 L488.4,993.4 L485.2,994.8 L481.7,996.0 L478.0,997.1 L474.2,998.0 L470.2,998.7 L466.2,999.3 L462.0,999.7 L457.9,999.8 L453.7,999.8 L449.6,999.6 L445.5,999.2 L441.5,998.6 L437.7,997.9 L434.0,996.9 L430.5,995.8 L427.2,994.5 L424.1,993.1 L421.3,991.5 L418.7,989.9 L416.5,988.1 L414.6,986.2 L413.0,984.2 L411.7,982.1 L410.8,980.0 L410.2,977.8 L410.1,975.7 L405.1,761.0 L405.3,758.9 L405.8,756.8 L406.7,754.7 L408.0,752.6 L409.6,750.7 L411.5,748.8 L413.7,746.9 L416.3,745.2 L419.1,743.6 L422.2,742.2 L425.5,740.8 L429.0,739.6 L432.7,738.6 L436.6,737.7 L440.6,737.0 L444.6,736.5 L448.8,736.1 L453.0,736.0 L457.2,736.0 L461.3,736.2 L465.4,736.6 L469.4,737.1 L473.3,737.9 L477.0,738.8 L480.6,739.8 L483.9,741.0 L487.0,742.4 L489.9,743.9 L492.5,745.5 L494.8,747.3 L496.7,749.1 L498.4,751.0 L499.7,753.0 L500.6,755.0 L501.2,757.1 L501.5,759.2Z" fill="url(#gcyl)"/><path d="M481.3,779.5 L485.2,994.8" stroke="#000" stroke-width="2.0" fill="none" stroke-linecap="round"/><path d="M413.9,774.8 L418.7,989.9" stroke="#000" stroke-width="2.0" fill="none" stroke-linecap="round"/><path d="M501.5,760.1 L505.0,974.8" stroke="#000" stroke-width="2.0" fill="none" stroke-linecap="round"/><path d="M410.1,975.7 L410.2,977.8 L410.8,980.0 L411.7,982.1 L413.0,984.2 L414.6,986.2 L416.5,988.1 L418.7,989.9 L421.3,991.5 L424.1,993.1 L427.2,994.5 L430.5,995.8 L434.0,996.9 L437.7,997.9 L441.5,998.6 L445.5,999.2 L449.6,999.6 L453.7,999.8 L457.9,999.8 L462.0,999.7 L466.2,999.3 L470.2,998.7 L474.2,998.0 L478.0,997.1 L481.7,996.0 L485.2,994.8 L488.4,993.4 L491.5,991.8 L494.2,990.2 L496.7,988.4 L498.9,986.5 L500.8,984.5 L502.3,982.5 L503.5,980.4 L504.4,978.3 L504.9,976.1 L505.0,973.9" stroke="#000" stroke-width="2.0" fill="none" stroke-linejoin="round" stroke-linecap="round"/>
<path d="M562.8,1015.5 L562.7,1017.7 L562.3,1019.9 L561.4,1022.1 L560.2,1024.2 L558.7,1026.3 L556.8,1028.3 L554.7,1030.2 L552.2,1032.0 L549.4,1033.7 L546.3,1035.3 L543.1,1036.7 L539.6,1037.9 L535.9,1039.0 L532.0,1040.0 L528.0,1040.7 L523.9,1041.3 L519.8,1041.6 L515.6,1041.8 L511.4,1041.8 L507.2,1041.6 L503.1,1041.2 L499.1,1040.6 L495.2,1039.8 L491.5,1038.8 L487.9,1037.7 L484.6,1036.4 L481.5,1035.0 L478.6,1033.4 L476.0,1031.7 L473.7,1029.8 L471.8,1027.9 L470.2,1025.9 L468.9,1023.8 L467.9,1021.7 L467.3,1019.5 L467.1,1017.3 L463.0,801.4 L463.1,799.3 L463.7,797.1 L464.5,795.0 L465.8,793.0 L467.4,791.0 L469.3,789.0 L471.5,787.2 L474.1,785.4 L476.9,783.8 L480.0,782.3 L483.3,780.9 L486.8,779.7 L490.6,778.7 L494.5,777.8 L498.5,777.1 L502.6,776.5 L506.7,776.2 L511.0,776.0 L515.2,776.0 L519.4,776.2 L523.5,776.6 L527.5,777.2 L531.4,777.9 L535.2,778.9 L538.8,779.9 L542.2,781.2 L545.4,782.6 L548.3,784.1 L550.9,785.7 L553.2,787.5 L555.2,789.4 L556.9,791.3 L558.3,793.3 L559.2,795.4 L559.9,797.5 L560.1,799.7Z" fill="url(#gcyl)"/><path d="M540.0,820.3 L543.1,1036.7" stroke="#000" stroke-width="2.0" fill="none" stroke-linecap="round"/><path d="M472.0,815.5 L476.0,1031.7" stroke="#000" stroke-width="2.0" fill="none" stroke-linecap="round"/><path d="M560.1,800.6 L562.8,1016.4" stroke="#000" stroke-width="2.0" fill="none" stroke-linecap="round"/><path d="M467.1,1017.3 L467.3,1019.5 L467.9,1021.7 L468.9,1023.8 L470.2,1025.9 L471.8,1027.9 L473.7,1029.8 L476.0,1031.7 L478.6,1033.4 L481.5,1035.0 L484.6,1036.4 L487.9,1037.7 L491.5,1038.8 L495.2,1039.8 L499.1,1040.6 L503.1,1041.2 L507.2,1041.6 L511.4,1041.8 L515.6,1041.8 L519.8,1041.6 L523.9,1041.3 L528.0,1040.7 L532.0,1040.0 L535.9,1039.0 L539.6,1037.9 L543.1,1036.7 L546.3,1035.3 L549.4,1033.7 L552.2,1032.0 L554.7,1030.2 L556.8,1028.3 L558.7,1026.3 L560.2,1024.2 L561.4,1022.1 L562.3,1019.9 L562.7,1017.7 L562.8,1015.5" stroke="#000" stroke-width="2.0" fill="none" stroke-linejoin="round" stroke-linecap="round"/>
<path d="M621.6,1057.7 L621.5,1060.0 L621.1,1062.2 L620.2,1064.4 L619.1,1066.6 L617.6,1068.7 L615.7,1070.7 L613.5,1072.7 L611.0,1074.5 L608.2,1076.2 L605.2,1077.8 L601.9,1079.3 L598.4,1080.5 L594.7,1081.7 L590.8,1082.6 L586.8,1083.4 L582.7,1083.9 L578.5,1084.3 L574.3,1084.5 L570.0,1084.5 L565.8,1084.2 L561.7,1083.8 L557.6,1083.2 L553.7,1082.4 L549.9,1081.5 L546.3,1080.3 L542.9,1079.0 L539.8,1077.5 L536.9,1075.9 L534.3,1074.2 L531.9,1072.3 L529.9,1070.3 L528.3,1068.3 L526.9,1066.2 L526.0,1064.0 L525.4,1061.8 L525.1,1059.5 L521.8,842.6 L521.9,840.4 L522.4,838.2 L523.3,836.1 L524.5,834.0 L526.1,831.9 L528.0,829.9 L530.3,828.1 L532.8,826.3 L535.6,824.6 L538.7,823.1 L542.1,821.7 L545.6,820.5 L549.4,819.4 L553.3,818.5 L557.3,817.8 L561.4,817.3 L565.6,816.9 L569.9,816.7 L574.1,816.8 L578.4,817.0 L582.5,817.3 L586.6,817.9 L590.6,818.7 L594.4,819.6 L598.0,820.7 L601.5,822.0 L604.7,823.4 L607.6,824.9 L610.3,826.6 L612.6,828.4 L614.7,830.3 L616.4,832.3 L617.8,834.3 L618.8,836.4 L619.5,838.6 L619.8,840.8Z" fill="url(#gcyl)"/><path d="M599.7,861.8 L601.9,1079.3" stroke="#000" stroke-width="2.0" fill="none" stroke-linecap="round"/><path d="M531.1,856.8 L534.3,1074.2" stroke="#000" stroke-width="2.0" fill="none" stroke-linecap="round"/><path d="M619.8,841.7 L621.6,1058.7" stroke="#000" stroke-width="2.0" fill="none" stroke-linecap="round"/><path d="M525.1,1059.5 L525.4,1061.8 L526.0,1064.0 L526.9,1066.2 L528.3,1068.3 L529.9,1070.3 L531.9,1072.3 L534.3,1074.2 L536.9,1075.9 L539.8,1077.5 L542.9,1079.0 L546.3,1080.3 L549.9,1081.5 L553.7,1082.4 L557.6,1083.2 L561.7,1083.8 L565.8,1084.2 L570.0,1084.5 L574.3,1084.5 L578.5,1084.3 L582.7,1083.9 L586.8,1083.4 L590.8,1082.6 L594.7,1081.7 L598.4,1080.5 L601.9,1079.3 L605.2,1077.8 L608.2,1076.2 L611.0,1074.5 L613.5,1072.7 L615.7,1070.7 L617.6,1068.7 L619.1,1066.6 L620.2,1064.4 L621.1,1062.2 L621.5,1060.0 L621.6,1057.7" stroke="#000" stroke-width="2.0" fill="none" stroke-linejoin="round" stroke-linecap="round"/>
<path d="M681.3,1100.6 L681.3,1102.9 L680.8,1105.2 L680.0,1107.4 L678.9,1109.6 L677.4,1111.8 L675.5,1113.9 L673.3,1115.8 L670.8,1117.7 L668.0,1119.5 L665.0,1121.1 L661.7,1122.5 L658.2,1123.8 L654.4,1125.0 L650.5,1125.9 L646.5,1126.7 L642.4,1127.3 L638.2,1127.7 L633.9,1127.8 L629.6,1127.8 L625.4,1127.6 L621.2,1127.2 L617.1,1126.6 L613.1,1125.8 L609.3,1124.8 L605.7,1123.6 L602.2,1122.3 L599.0,1120.8 L596.1,1119.1 L593.4,1117.4 L591.1,1115.5 L589.0,1113.5 L587.3,1111.4 L586.0,1109.2 L585.0,1107.0 L584.3,1104.8 L584.1,1102.5 L581.6,884.4 L581.7,882.1 L582.2,879.9 L583.1,877.8 L584.3,875.6 L585.8,873.5 L587.7,871.5 L590.0,869.6 L592.5,867.8 L595.4,866.2 L598.5,864.6 L601.8,863.2 L605.4,861.9 L609.1,860.9 L613.1,859.9 L617.1,859.2 L621.3,858.7 L625.5,858.3 L629.8,858.1 L634.1,858.1 L638.3,858.3 L642.6,858.7 L646.7,859.3 L650.7,860.1 L654.5,861.0 L658.2,862.2 L661.7,863.4 L664.9,864.9 L667.9,866.4 L670.6,868.2 L673.0,870.0 L675.1,871.9 L676.9,873.9 L678.3,876.0 L679.4,878.1 L680.0,880.3 L680.4,882.6Z" fill="url(#gcyl)"/><path d="M660.4,903.9 L661.7,1122.5" stroke="#000" stroke-width="2.0" fill="none" stroke-linecap="round"/><path d="M591.1,898.9 L593.4,1117.4" stroke="#000" stroke-width="2.0" fill="none" stroke-linecap="round"/><path d="M680.4,883.5 L681.3,1101.6" stroke="#000" stroke-width="2.0" fill="none" stroke-linecap="round"/><path d="M584.1,1102.5 L584.3,1104.8 L585.0,1107.0 L586.0,1109.2 L587.3,1111.4 L589.0,1113.5 L591.1,1115.5 L593.4,1117.4 L596.1,1119.1 L599.0,1120.8 L602.2,1122.3 L605.7,1123.6 L609.3,1124.8 L613.1,1125.8 L617.1,1126.6 L621.2,1127.2 L625.4,1127.6 L629.6,1127.8 L633.9,1127.8 L638.2,1127.7 L642.4,1127.3 L646.5,1126.7 L650.5,1125.9 L654.4,1125.0 L658.2,1123.8 L661.7,1122.5 L665.0,1121.1 L668.0,1119.5 L670.8,1117.7 L673.3,1115.8 L675.5,1113.9 L677.4,1111.8 L678.9,1109.6 L680.0,1107.4 L680.8,1105.2 L681.3,1102.9 L681.3,1100.6" stroke="#000" stroke-width="2.0" fill="none" stroke-linejoin="round" stroke-linecap="round"/>
<path d="M742.0,1144.3 L742.0,1146.6 L741.6,1148.9 L740.8,1151.2 L739.7,1153.4 L738.2,1155.6 L736.3,1157.7 L734.1,1159.7 L731.6,1161.6 L728.9,1163.4 L725.8,1165.0 L722.5,1166.5 L718.9,1167.9 L715.2,1169.0 L711.3,1170.0 L707.2,1170.8 L703.1,1171.3 L698.8,1171.7 L694.5,1171.9 L690.2,1171.9 L685.9,1171.7 L681.7,1171.3 L677.6,1170.6 L673.6,1169.8 L669.7,1168.8 L666.0,1167.6 L662.5,1166.3 L659.3,1164.7 L656.3,1163.1 L653.6,1161.3 L651.2,1159.3 L649.1,1157.3 L647.4,1155.2 L646.0,1153.0 L644.9,1150.7 L644.3,1148.5 L644.0,1146.1 L642.4,926.9 L642.5,924.6 L643.0,922.4 L643.8,920.1 L645.0,918.0 L646.6,915.9 L648.5,913.8 L650.7,911.9 L653.2,910.1 L656.1,908.4 L659.2,906.8 L662.5,905.4 L666.1,904.1 L669.9,903.0 L673.9,902.0 L677.9,901.3 L682.1,900.7 L686.4,900.4 L690.7,900.2 L695.0,900.2 L699.3,900.4 L703.6,900.8 L707.7,901.4 L711.8,902.2 L715.7,903.2 L719.4,904.3 L722.9,905.6 L726.2,907.1 L729.2,908.7 L732.0,910.4 L734.5,912.2 L736.6,914.2 L738.4,916.2 L739.8,918.4 L740.9,920.6 L741.6,922.8 L742.0,925.0Z" fill="url(#gcyl)"/><path d="M722.1,946.7 L722.5,1166.5" stroke="#000" stroke-width="2.0" fill="none" stroke-linecap="round"/><path d="M652.2,941.6 L653.6,1161.3" stroke="#000" stroke-width="2.0" fill="none" stroke-linecap="round"/><path d="M742.0,926.0 L742.0,1145.2" stroke="#000" stroke-width="2.0" fill="none" stroke-linecap="round"/><path d="M644.0,1146.1 L644.3,1148.5 L644.9,1150.7 L646.0,1153.0 L647.4,1155.2 L649.1,1157.3 L651.2,1159.3 L653.6,1161.3 L656.3,1163.1 L659.3,1164.7 L662.5,1166.3 L666.0,1167.6 L669.7,1168.8 L673.6,1169.8 L677.6,1170.6 L681.7,1171.3 L685.9,1171.7 L690.2,1171.9 L694.5,1171.9 L698.8,1171.7 L703.1,1171.3 L707.2,1170.8 L711.3,1170.0 L715.2,1169.0 L718.9,1167.9 L722.5,1166.5 L725.8,1165.0 L728.9,1163.4 L731.6,1161.6 L734.1,1159.7 L736.3,1157.7 L738.2,1155.6 L739.7,1153.4 L740.8,1151.2 L741.6,1148.9 L742.0,1146.6 L742.0,1144.3" stroke="#000" stroke-width="2.0" fill="none" stroke-linejoin="round" stroke-linecap="round"/>
<path d="M804.7,968.2 L804.6,970.5 L803.7,1191.0 L803.3,1193.3 L802.6,1195.7 L801.5,1197.9 L800.0,1200.2 L798.1,1202.3 L796.0,1204.3 L793.5,1206.3 L790.7,1208.1 L787.6,1209.7 L784.3,1211.3 L780.7,1212.6 L777.0,1213.8 L773.0,1214.8 L768.9,1215.6 L764.7,1216.2 L760.5,1216.6 L756.2,1216.7 L751.8,1216.7 L747.5,1216.5 L743.2,1216.1 L739.1,1215.4 L735.0,1214.6 L731.1,1213.6 L727.4,1212.4 L723.8,1211.0 L720.5,1209.4 L717.5,1207.7 L714.8,1205.9 L712.3,1203.9 L710.2,1201.9 L708.4,1199.7 L707.0,1197.5 L705.9,1195.2 L705.2,1192.9 L704.9,1190.5 L704.3,970.1 L704.3,967.8 L704.8,965.5 L705.6,963.3 L706.8,961.0 L708.3,958.9 L710.2,956.8 L712.4,954.9 L715.0,953.0 L717.8,951.3 L720.9,949.7 L724.3,948.2 L727.9,946.9 L731.7,945.8 L735.7,944.9 L739.8,944.1 L744.0,943.5 L748.3,943.1 L752.6,943.0 L757.0,943.0 L761.3,943.2 L765.6,943.6 L769.8,944.2 L773.9,945.0 L777.9,946.0 L781.6,947.1 L785.2,948.5 L788.5,950.0 L791.6,951.6 L794.4,953.3 L796.9,955.2 L799.1,957.2 L800.9,959.3 L802.4,961.5 L803.5,963.7 L804.3,965.9Z" fill="url(#gcyl)"/><path d="M784.9,990.3 L784.3,1211.3" stroke="#000" stroke-width="2.0" fill="none" stroke-linecap="round"/><path d="M714.3,985.1 L714.8,1205.9" stroke="#000" stroke-width="2.0" fill="none" stroke-linecap="round"/><path d="M804.7,969.2 L803.8,1189.6" stroke="#000" stroke-width="2.0" fill="none" stroke-linecap="round"/><path d="M704.9,1190.5 L705.2,1192.9 L705.9,1195.2 L707.0,1197.5 L708.4,1199.7 L710.2,1201.9 L712.3,1203.9 L714.8,1205.9 L717.5,1207.7 L720.5,1209.4 L723.8,1211.0 L727.4,1212.4 L731.1,1213.6 L735.0,1214.6 L739.1,1215.4 L743.2,1216.1 L747.5,1216.5 L751.8,1216.7 L756.2,1216.7 L760.5,1216.6 L764.7,1216.2 L768.9,1215.6 L773.0,1214.8 L777.0,1213.8 L780.7,1212.6 L784.3,1211.3 L787.6,1209.7 L790.7,1208.1 L793.5,1206.3 L796.0,1204.3 L798.1,1202.3 L800.0,1200.2 L801.5,1197.9 L802.6,1195.7 L803.3,1193.3 L803.7,1191.0 L803.7,1188.6" stroke="#000" stroke-width="2.0" fill="none" stroke-linejoin="round" stroke-linecap="round"/>
<path d="M868.4,1014.5 L866.5,1236.1 L866.1,1238.5 L865.4,1240.9 L864.3,1243.2 L862.8,1245.5 L861.0,1247.6 L858.8,1249.7 L856.3,1251.7 L853.5,1253.5 L850.5,1255.2 L847.1,1256.7 L843.5,1258.1 L839.8,1259.3 L835.8,1260.3 L831.7,1261.1 L827.5,1261.7 L823.2,1262.1 L818.8,1262.3 L814.4,1262.3 L810.1,1262.1 L805.8,1261.6 L801.6,1261.0 L797.5,1260.1 L793.5,1259.1 L789.7,1257.9 L786.2,1256.4 L782.8,1254.9 L779.7,1253.2 L777.0,1251.3 L774.5,1249.3 L772.3,1247.2 L770.5,1245.0 L769.0,1242.7 L767.9,1240.4 L767.2,1238.0 L766.8,1235.7 L767.2,1014.1 L767.2,1011.7 L767.6,1009.4 L768.4,1007.1 L769.6,1004.9 L771.1,1002.7 L773.0,1000.6 L775.2,998.6 L777.7,996.7 L780.6,994.9 L783.7,993.3 L787.1,991.8 L790.7,990.5 L794.5,989.3 L798.5,988.4 L802.6,987.6 L806.9,987.0 L811.2,986.6 L815.6,986.5 L820.0,986.5 L824.4,986.7 L828.7,987.1 L833.0,987.7 L837.1,988.6 L841.1,989.5 L844.9,990.7 L848.5,992.1 L851.9,993.6 L855.0,995.2 L857.9,997.0 L860.4,998.9 L862.6,1001.0 L864.5,1003.1 L866.0,1005.3 L867.2,1007.5 L868.0,1009.8 L868.4,1012.2Z" fill="url(#gcyl)"/><path d="M848.7,1034.6 L847.1,1256.7" stroke="#000" stroke-width="2.0" fill="none" stroke-linecap="round"/><path d="M777.5,1029.3 L777.0,1251.3" stroke="#000" stroke-width="2.0" fill="none" stroke-linecap="round"/><path d="M868.4,1013.1 L866.5,1234.7" stroke="#000" stroke-width="2.0" fill="none" stroke-linecap="round"/><path d="M766.8,1235.7 L767.2,1238.0 L767.9,1240.4 L769.0,1242.7 L770.5,1245.0 L772.3,1247.2 L774.5,1249.3 L777.0,1251.3 L779.7,1253.2 L782.8,1254.9 L786.2,1256.4 L789.7,1257.9 L793.5,1259.1 L797.5,1260.1 L801.6,1261.0 L805.8,1261.6 L810.1,1262.1 L814.4,1262.3 L818.8,1262.3 L823.2,1262.1 L827.5,1261.7 L831.7,1261.1 L835.8,1260.3 L839.8,1259.3 L843.5,1258.1 L847.1,1256.7 L850.5,1255.2 L853.5,1253.5 L856.3,1251.7 L858.8,1249.7 L861.0,1247.6 L862.8,1245.5 L864.3,1243.2 L865.4,1240.9 L866.1,1238.5 L866.5,1236.1" stroke="#000" stroke-width="2.0" fill="none" stroke-linejoin="round" stroke-linecap="round"/>
<path d="M933.3,1059.2 L930.3,1282.0 L930.0,1284.5 L929.3,1286.9 L928.2,1289.2 L926.7,1291.5 L924.9,1293.7 L922.7,1295.8 L920.3,1297.8 L917.5,1299.7 L914.4,1301.4 L911.0,1303.0 L907.4,1304.4 L903.6,1305.6 L899.7,1306.6 L895.5,1307.4 L891.3,1308.1 L886.9,1308.5 L882.5,1308.7 L878.1,1308.6 L873.7,1308.4 L869.4,1307.9 L865.1,1307.3 L861.0,1306.4 L857.0,1305.4 L853.2,1304.1 L849.5,1302.7 L846.2,1301.1 L843.0,1299.3 L840.2,1297.4 L837.7,1295.4 L835.5,1293.3 L833.6,1291.1 L832.1,1288.8 L831.0,1286.4 L830.2,1284.0 L829.8,1281.5 L829.8,1279.1 L831.2,1056.4 L831.5,1054.0 L832.3,1051.7 L833.5,1049.4 L835.0,1047.2 L836.8,1045.1 L839.1,1043.0 L841.6,1041.1 L844.4,1039.3 L847.6,1037.6 L851.0,1036.1 L854.6,1034.8 L858.4,1033.6 L862.4,1032.7 L866.6,1031.9 L870.9,1031.3 L875.2,1030.9 L879.7,1030.7 L884.1,1030.7 L888.5,1030.9 L892.9,1031.4 L897.2,1032.0 L901.4,1032.8 L905.4,1033.8 L909.3,1035.0 L912.9,1036.4 L916.3,1037.9 L919.5,1039.6 L922.4,1041.4 L925.0,1043.4 L927.3,1045.4 L929.2,1047.6 L930.7,1049.8 L931.9,1052.1 L932.8,1054.5 L933.2,1056.8Z" fill="url(#gcyl)"/><path d="M913.7,1079.7 L911.0,1303.0" stroke="#000" stroke-width="2.0" fill="none" stroke-linecap="round"/><path d="M841.7,1074.3 L840.2,1297.4" stroke="#000" stroke-width="2.0" fill="none" stroke-linecap="round"/><path d="M933.3,1057.8 L930.3,1280.6" stroke="#000" stroke-width="2.0" fill="none" stroke-linecap="round"/><path d="M829.8,1279.1 L829.8,1281.5 L830.2,1284.0 L831.0,1286.4 L832.1,1288.8 L833.6,1291.1 L835.5,1293.3 L837.7,1295.4 L840.2,1297.4 L843.0,1299.3 L846.2,1301.1 L849.5,1302.7 L853.2,1304.1 L857.0,1305.4 L861.0,1306.4 L865.1,1307.3 L869.4,1307.9 L873.7,1308.4 L878.1,1308.6 L882.5,1308.7 L886.9,1308.5 L891.3,1308.1 L895.5,1307.4 L899.7,1306.6 L903.6,1305.6 L907.4,1304.4 L911.0,1303.0 L914.4,1301.4 L917.5,1299.7 L920.3,1297.8 L922.7,1295.8 L924.9,1293.7 L926.7,1291.5 L928.2,1289.2 L929.3,1286.9 L930.0,1284.5 L930.3,1282.0" stroke="#000" stroke-width="2.0" fill="none" stroke-linejoin="round" stroke-linecap="round"/>
<path d="M154.5,520.9 L1016.0,1114.9 L1041.9,1104.1 L204.1,529.6 L329.8,485.8 L331.2,485.3 L332.8,485.0 L334.4,484.9 L336.0,484.9 L337.7,485.0 L339.2,485.2 L340.6,485.6 L341.9,486.0 L342.9,486.6 L1182.4,1045.8 L1208.0,1035.1 L340.8,460.5 L339.7,460.0 L338.3,459.5 L336.8,459.2 L335.1,459.1 L333.5,459.2 L331.8,459.4 L330.4,459.9Z" fill="url(#gtop)" stroke="#000" stroke-width="2.0" stroke-linejoin="round"/>
<path d="M255.6,622.9 L258.9,621.6 L261.9,620.2 L264.7,618.7 L267.3,617.1 L269.5,615.3 L271.4,613.5 L273.0,611.7 L274.3,609.8 L275.2,607.8 L275.8,605.8 L276.0,603.8 L275.9,601.9 L275.4,599.9 L274.6,598.0 L273.4,596.1 L271.9,594.3 L270.1,592.6 L267.9,591.0 L265.5,589.4 L262.8,588.0 L259.8,586.8 L256.6,585.6 L253.2,584.6 L249.7,583.8 L245.9,583.1 L242.1,582.6 L238.1,582.2 L234.1,582.0 L230.1,582.0 L226.0,582.2 L222.0,582.5 L218.0,583.0 L214.1,583.6 L210.3,584.5 L206.7,585.4 L203.2,586.6 L200.0,587.8 L196.9,589.2 L194.1,590.7 L191.6,592.3 L189.3,594.0 L187.4,595.8 L185.8,597.7 L184.5,599.6 L183.5,601.5 L182.9,603.5 L182.6,605.5 L182.7,607.5 L183.2,609.4 L184.0,611.4 L185.1,613.2 L186.6,615.0 L188.4,616.8 L190.5,618.4 L193.0,620.0 L195.7,621.4 L198.6,622.7 L201.8,623.9 L205.2,624.9 L208.8,625.7 L212.6,626.4 L216.5,627.0 L220.4,627.3 L224.5,627.5 L228.6,627.5 L232.7,627.4 L236.7,627.0 L240.8,626.5 L244.7,625.9 L248.5,625.0 L252.1,624.0Z" fill="#6439ff" stroke="#000" stroke-width="2.0"/>
<path d="M310.7,661.1 L314.0,659.8 L317.0,658.4 L319.8,656.9 L322.4,655.2 L324.6,653.5 L326.5,651.6 L328.1,649.7 L329.4,647.8 L330.3,645.8 L330.9,643.8 L331.1,641.8 L330.9,639.8 L330.4,637.8 L329.5,635.8 L328.3,633.9 L326.8,632.1 L324.9,630.3 L322.7,628.7 L320.3,627.1 L317.5,625.7 L314.5,624.4 L311.3,623.3 L307.9,622.2 L304.2,621.4 L300.5,620.7 L296.6,620.2 L292.6,619.8 L288.6,619.6 L284.5,619.6 L280.4,619.7 L276.3,620.1 L272.3,620.6 L268.4,621.3 L264.6,622.1 L261.0,623.1 L257.5,624.2 L254.2,625.5 L251.2,626.9 L248.4,628.4 L245.8,630.1 L243.6,631.8 L241.6,633.6 L240.0,635.5 L238.7,637.4 L237.8,639.4 L237.2,641.4 L236.9,643.4 L237.0,645.4 L237.5,647.4 L238.3,649.4 L239.5,651.3 L241.0,653.2 L242.9,654.9 L245.0,656.6 L247.5,658.1 L250.2,659.6 L253.2,660.9 L256.5,662.1 L259.9,663.1 L263.6,664.0 L267.4,664.7 L271.3,665.3 L275.3,665.6 L279.4,665.8 L283.5,665.8 L287.6,665.7 L291.7,665.3 L295.8,664.8 L299.7,664.1 L303.5,663.3 L307.2,662.3Z" fill="#6439ff" stroke="#000" stroke-width="2.0"/>
<path d="M366.6,700.0 L369.9,698.7 L373.0,697.2 L375.8,695.6 L378.4,694.0 L380.6,692.2 L382.5,690.3 L384.1,688.4 L385.3,686.4 L386.2,684.4 L386.8,682.3 L387.0,680.3 L386.8,678.3 L386.2,676.2 L385.3,674.3 L384.1,672.3 L382.5,670.5 L380.6,668.7 L378.4,667.0 L375.9,665.4 L373.1,664.0 L370.1,662.7 L366.8,661.5 L363.3,660.5 L359.7,659.6 L355.9,658.9 L352.0,658.3 L347.9,658.0 L343.9,657.8 L339.8,657.8 L335.6,657.9 L331.6,658.3 L327.5,658.8 L323.6,659.5 L319.8,660.3 L316.1,661.3 L312.6,662.5 L309.3,663.8 L306.3,665.2 L303.4,666.7 L300.9,668.4 L298.7,670.2 L296.7,672.0 L295.1,673.9 L293.8,675.9 L292.9,677.9 L292.3,679.9 L292.1,682.0 L292.2,684.0 L292.7,686.1 L293.6,688.1 L294.8,690.0 L296.3,691.9 L298.2,693.7 L300.4,695.4 L302.9,696.9 L305.7,698.4 L308.7,699.8 L312.0,700.9 L315.5,702.0 L319.2,702.9 L323.0,703.6 L327.0,704.2 L331.0,704.5 L335.1,704.7 L339.3,704.7 L343.4,704.6 L347.6,704.2 L351.6,703.7 L355.6,703.0 L359.4,702.2 L363.1,701.1Z" fill="#6439ff" stroke="#000" stroke-width="2.0"/>
<path d="M423.5,739.4 L426.8,738.1 L429.9,736.6 L432.7,735.0 L435.2,733.3 L437.5,731.5 L439.4,729.6 L441.0,727.7 L442.2,725.7 L443.1,723.6 L443.6,721.5 L443.8,719.4 L443.5,717.4 L443.0,715.3 L442.1,713.3 L440.8,711.4 L439.2,709.5 L437.2,707.7 L435.0,706.0 L432.4,704.4 L429.6,702.9 L426.5,701.5 L423.2,700.3 L419.7,699.3 L416.0,698.4 L412.2,697.7 L408.2,697.1 L404.2,696.8 L400.1,696.6 L395.9,696.6 L391.8,696.7 L387.6,697.1 L383.6,697.6 L379.6,698.3 L375.8,699.1 L372.1,700.2 L368.6,701.3 L365.3,702.6 L362.2,704.1 L359.4,705.7 L356.9,707.4 L354.6,709.1 L352.7,711.0 L351.1,713.0 L349.8,715.0 L348.9,717.0 L348.3,719.1 L348.1,721.2 L348.3,723.2 L348.8,725.3 L349.7,727.3 L351.0,729.3 L352.5,731.2 L354.5,733.0 L356.7,734.7 L359.2,736.4 L362.1,737.9 L365.1,739.2 L368.4,740.4 L372.0,741.5 L375.7,742.4 L379.6,743.1 L383.6,743.7 L387.6,744.1 L391.8,744.3 L396.0,744.3 L400.2,744.1 L404.3,743.8 L408.4,743.2 L412.4,742.5 L416.3,741.7 L420.0,740.6Z" fill="#6439ff" stroke="#000" stroke-width="2.0"/>
<path d="M481.3,779.5 L484.6,778.2 L487.7,776.7 L490.5,775.1 L493.0,773.3 L495.3,771.5 L497.2,769.6 L498.7,767.6 L500.0,765.5 L500.8,763.5 L501.3,761.4 L501.5,759.2 L501.2,757.1 L500.6,755.0 L499.7,753.0 L498.4,751.0 L496.7,749.1 L494.8,747.3 L492.5,745.5 L489.9,743.9 L487.0,742.4 L483.9,741.0 L480.6,739.8 L477.0,738.8 L473.3,737.9 L469.4,737.1 L465.4,736.6 L461.3,736.2 L457.2,736.0 L453.0,736.0 L448.8,736.1 L444.6,736.5 L440.6,737.0 L436.6,737.7 L432.7,738.6 L429.0,739.6 L425.5,740.8 L422.2,742.2 L419.1,743.6 L416.3,745.2 L413.7,746.9 L411.5,748.8 L409.6,750.7 L408.0,752.6 L406.7,754.7 L405.8,756.8 L405.3,758.9 L405.1,761.0 L405.3,763.1 L405.8,765.2 L406.8,767.2 L408.0,769.2 L409.7,771.2 L411.6,773.0 L413.9,774.8 L416.5,776.4 L419.3,777.9 L422.4,779.3 L425.8,780.6 L429.4,781.6 L433.1,782.6 L437.0,783.3 L441.1,783.9 L445.2,784.3 L449.4,784.5 L453.6,784.5 L457.8,784.3 L462.0,784.0 L466.1,783.4 L470.1,782.7 L474.0,781.8 L477.8,780.8Z" fill="#6439ff" stroke="#000" stroke-width="2.0"/>
<path d="M540.0,820.3 L543.4,818.9 L546.5,817.4 L549.3,815.8 L551.8,814.0 L554.0,812.1 L555.9,810.2 L557.5,808.2 L558.7,806.1 L559.5,804.0 L560.0,801.8 L560.1,799.7 L559.9,797.5 L559.2,795.4 L558.3,793.3 L556.9,791.3 L555.2,789.4 L553.2,787.5 L550.9,785.7 L548.3,784.1 L545.4,782.6 L542.2,781.2 L538.8,779.9 L535.2,778.9 L531.4,777.9 L527.5,777.2 L523.5,776.6 L519.4,776.2 L515.2,776.0 L511.0,776.0 L506.7,776.2 L502.6,776.5 L498.5,777.1 L494.5,777.8 L490.6,778.7 L486.8,779.7 L483.3,780.9 L480.0,782.3 L476.9,783.8 L474.1,785.4 L471.5,787.2 L469.3,789.0 L467.4,791.0 L465.8,793.0 L464.5,795.0 L463.7,797.1 L463.1,799.3 L463.0,801.4 L463.2,803.6 L463.8,805.7 L464.7,807.8 L466.0,809.8 L467.7,811.8 L469.7,813.7 L472.0,815.5 L474.6,817.1 L477.5,818.7 L480.7,820.1 L484.1,821.3 L487.7,822.4 L491.5,823.4 L495.4,824.1 L499.5,824.7 L503.7,825.1 L507.9,825.3 L512.2,825.3 L516.4,825.1 L520.6,824.8 L524.8,824.2 L528.8,823.5 L532.7,822.6 L536.5,821.5Z" fill="#6439ff" stroke="#000" stroke-width="2.0"/>
<path d="M599.7,861.8 L603.1,860.4 L606.2,858.8 L609.0,857.1 L611.5,855.3 L613.8,853.4 L615.6,851.5 L617.2,849.4 L618.4,847.3 L619.2,845.1 L619.7,843.0 L619.8,840.8 L619.5,838.6 L618.8,836.4 L617.8,834.3 L616.4,832.3 L614.7,830.3 L612.6,828.4 L610.3,826.6 L607.6,824.9 L604.7,823.4 L601.5,822.0 L598.0,820.7 L594.4,819.6 L590.6,818.7 L586.6,817.9 L582.5,817.3 L578.4,817.0 L574.1,816.8 L569.9,816.7 L565.6,816.9 L561.4,817.3 L557.3,817.8 L553.3,818.5 L549.4,819.4 L545.6,820.5 L542.1,821.7 L538.7,823.1 L535.6,824.6 L532.8,826.3 L530.3,828.1 L528.0,829.9 L526.1,831.9 L524.5,834.0 L523.3,836.1 L522.4,838.2 L521.9,840.4 L521.8,842.6 L522.1,844.7 L522.7,846.9 L523.7,849.0 L525.0,851.1 L526.7,853.1 L528.7,855.0 L531.1,856.8 L533.7,858.5 L536.7,860.1 L539.9,861.5 L543.3,862.8 L547.0,863.9 L550.8,864.9 L554.8,865.6 L558.9,866.2 L563.1,866.6 L567.4,866.8 L571.7,866.8 L576.0,866.7 L580.2,866.3 L584.4,865.7 L588.5,865.0 L592.4,864.1 L596.2,863.0Z" fill="#6439ff" stroke="#000" stroke-width="2.0"/>
<path d="M660.4,903.9 L663.8,902.5 L666.9,900.9 L669.7,899.2 L672.3,897.4 L674.5,895.4 L676.3,893.4 L677.9,891.3 L679.1,889.2 L679.9,887.0 L680.3,884.8 L680.4,882.6 L680.0,880.3 L679.4,878.1 L678.3,876.0 L676.9,873.9 L675.1,871.9 L673.0,870.0 L670.6,868.2 L667.9,866.4 L664.9,864.9 L661.7,863.4 L658.2,862.2 L654.5,861.0 L650.7,860.1 L646.7,859.3 L642.6,858.7 L638.3,858.3 L634.1,858.1 L629.8,858.1 L625.5,858.3 L621.3,858.7 L617.1,859.2 L613.1,859.9 L609.1,860.9 L605.4,861.9 L601.8,863.2 L598.5,864.6 L595.4,866.2 L592.5,867.8 L590.0,869.6 L587.7,871.5 L585.8,873.5 L584.3,875.6 L583.1,877.8 L582.2,879.9 L581.7,882.1 L581.6,884.4 L581.9,886.6 L582.6,888.8 L583.6,890.9 L584.9,893.0 L586.7,895.1 L588.7,897.0 L591.1,898.9 L593.8,900.6 L596.8,902.2 L600.1,903.6 L603.6,904.9 L607.3,906.1 L611.1,907.0 L615.2,907.8 L619.3,908.4 L623.6,908.8 L627.9,909.0 L632.2,909.1 L636.5,908.9 L640.8,908.5 L645.0,907.9 L649.1,907.2 L653.1,906.3 L656.8,905.2Z" fill="#6439ff" stroke="#000" stroke-width="2.0"/>
<path d="M722.1,946.7 L725.5,945.3 L728.6,943.7 L731.5,941.9 L734.0,940.1 L736.2,938.1 L738.1,936.1 L739.6,934.0 L740.8,931.8 L741.5,929.5 L742.0,927.3 L742.0,925.0 L741.6,922.8 L740.9,920.6 L739.8,918.4 L738.4,916.2 L736.6,914.2 L734.5,912.2 L732.0,910.4 L729.2,908.7 L726.2,907.1 L722.9,905.6 L719.4,904.3 L715.7,903.2 L711.8,902.2 L707.7,901.4 L703.6,900.8 L699.3,900.4 L695.0,900.2 L690.7,900.2 L686.4,900.4 L682.1,900.7 L677.9,901.3 L673.9,902.0 L669.9,903.0 L666.1,904.1 L662.5,905.4 L659.2,906.8 L656.1,908.4 L653.2,910.1 L650.7,911.9 L648.5,913.8 L646.6,915.9 L645.0,918.0 L643.8,920.1 L643.0,922.4 L642.5,924.6 L642.4,926.9 L642.7,929.1 L643.4,931.4 L644.5,933.6 L645.9,935.7 L647.7,937.8 L649.8,939.7 L652.2,941.6 L655.0,943.4 L658.0,945.0 L661.3,946.5 L664.8,947.8 L668.6,948.9 L672.5,949.9 L676.6,950.7 L680.8,951.3 L685.1,951.7 L689.4,952.0 L693.8,952.0 L698.1,951.8 L702.4,951.4 L706.7,950.8 L710.8,950.1 L714.7,949.1 L718.5,948.0Z" fill="#6439ff" stroke="#000" stroke-width="2.0"/>
<path d="M784.9,990.3 L788.3,988.8 L791.4,987.2 L794.2,985.4 L796.8,983.5 L799.0,981.5 L800.8,979.5 L802.3,977.3 L803.5,975.1 L804.3,972.8 L804.6,970.5 L804.7,968.2 L804.3,965.9 L803.5,963.7 L802.4,961.5 L800.9,959.3 L799.1,957.2 L796.9,955.2 L794.4,953.3 L791.6,951.6 L788.5,950.0 L785.2,948.5 L781.6,947.1 L777.9,946.0 L773.9,945.0 L769.8,944.2 L765.6,943.6 L761.3,943.2 L757.0,943.0 L752.6,943.0 L748.3,943.1 L744.0,943.5 L739.8,944.1 L735.7,944.9 L731.7,945.8 L727.9,946.9 L724.3,948.2 L720.9,949.7 L717.8,951.3 L715.0,953.0 L712.4,954.9 L710.2,956.8 L708.3,958.9 L706.8,961.0 L705.6,963.3 L704.8,965.5 L704.3,967.8 L704.3,970.1 L704.6,972.4 L705.3,974.7 L706.4,976.9 L707.9,979.1 L709.7,981.2 L711.8,983.2 L714.3,985.1 L717.1,986.9 L720.2,988.5 L723.5,990.0 L727.1,991.4 L730.9,992.5 L734.9,993.5 L739.0,994.3 L743.2,995.0 L747.6,995.4 L751.9,995.6 L756.3,995.6 L760.7,995.4 L765.1,995.1 L769.3,994.5 L773.5,993.7 L777.5,992.7 L781.3,991.6Z" fill="#6439ff" stroke="#000" stroke-width="2.0"/>
<path d="M848.7,1034.6 L852.1,1033.1 L855.3,1031.4 L858.1,1029.6 L860.6,1027.7 L862.8,1025.7 L864.7,1023.6 L866.2,1021.4 L867.3,1019.1 L868.0,1016.8 L868.4,1014.5 L868.4,1012.2 L868.0,1009.8 L867.2,1007.5 L866.0,1005.3 L864.5,1003.1 L862.6,1001.0 L860.4,998.9 L857.9,997.0 L855.0,995.2 L851.9,993.6 L848.5,992.1 L844.9,990.7 L841.1,989.5 L837.1,988.6 L833.0,987.7 L828.7,987.1 L824.4,986.7 L820.0,986.5 L815.6,986.5 L811.2,986.6 L806.9,987.0 L802.6,987.6 L798.5,988.4 L794.5,989.3 L790.7,990.5 L787.1,991.8 L783.7,993.3 L780.6,994.9 L777.7,996.7 L775.2,998.6 L773.0,1000.6 L771.1,1002.7 L769.6,1004.9 L768.4,1007.1 L767.6,1009.4 L767.2,1011.7 L767.2,1014.1 L767.5,1016.4 L768.3,1018.7 L769.4,1021.0 L770.9,1023.2 L772.8,1025.3 L775.0,1027.4 L777.5,1029.3 L780.3,1031.1 L783.4,1032.8 L786.8,1034.3 L790.5,1035.7 L794.3,1036.9 L798.3,1037.9 L802.5,1038.7 L806.8,1039.4 L811.1,1039.8 L815.6,1040.0 L820.0,1040.0 L824.4,1039.8 L828.8,1039.5 L833.1,1038.9 L837.3,1038.1 L841.3,1037.1 L845.1,1035.9Z" fill="#6439ff" stroke="#000" stroke-width="2.0"/>
<path d="M913.7,1079.7 L917.1,1078.1 L920.2,1076.5 L923.0,1074.6 L925.6,1072.7 L927.8,1070.6 L929.6,1068.5 L931.1,1066.2 L932.2,1063.9 L932.9,1061.6 L933.3,1059.2 L933.2,1056.8 L932.8,1054.5 L931.9,1052.1 L930.7,1049.8 L929.2,1047.6 L927.3,1045.4 L925.0,1043.4 L922.4,1041.4 L919.5,1039.6 L916.3,1037.9 L912.9,1036.4 L909.3,1035.0 L905.4,1033.8 L901.4,1032.8 L897.2,1032.0 L892.9,1031.4 L888.5,1030.9 L884.1,1030.7 L879.7,1030.7 L875.2,1030.9 L870.9,1031.3 L866.6,1031.9 L862.4,1032.7 L858.4,1033.6 L854.6,1034.8 L851.0,1036.1 L847.6,1037.6 L844.4,1039.3 L841.6,1041.1 L839.1,1043.0 L836.8,1045.1 L835.0,1047.2 L833.5,1049.4 L832.3,1051.7 L831.5,1054.0 L831.2,1056.4 L831.2,1058.8 L831.6,1061.1 L832.3,1063.5 L833.5,1065.8 L835.0,1068.1 L836.9,1070.2 L839.2,1072.3 L841.7,1074.3 L844.6,1076.1 L847.8,1077.8 L851.2,1079.4 L854.9,1080.8 L858.8,1082.0 L862.8,1083.0 L867.1,1083.9 L871.4,1084.5 L875.8,1084.9 L880.3,1085.2 L884.7,1085.2 L889.2,1085.0 L893.6,1084.6 L897.9,1084.0 L902.1,1083.2 L906.2,1082.2 L910.0,1081.0Z" fill="#6439ff" stroke="#000" stroke-width="2.0"/>
<path d="M312.6,574.1 L315.8,572.9 L318.8,571.5 L321.6,570.0 L324.1,568.4 L326.3,566.7 L328.1,565.0 L329.7,563.1 L331.0,561.2 L331.8,559.3 L332.4,557.4 L332.6,555.4 L332.4,553.5 L331.9,551.6 L331.1,549.7 L329.9,547.9 L328.4,546.1 L326.5,544.4 L324.4,542.8 L322.0,541.3 L319.3,540.0 L316.3,538.7 L313.2,537.6 L309.8,536.6 L306.2,535.8 L302.6,535.1 L298.7,534.6 L294.8,534.2 L290.8,534.1 L286.8,534.0 L282.8,534.2 L278.8,534.5 L274.9,535.0 L271.1,535.7 L267.3,536.5 L263.7,537.4 L260.3,538.5 L257.1,539.7 L254.1,541.1 L251.4,542.6 L248.9,544.2 L246.6,545.8 L244.7,547.6 L243.1,549.4 L241.9,551.3 L240.9,553.2 L240.4,555.1 L240.1,557.1 L240.2,559.0 L240.7,560.9 L241.5,562.8 L242.7,564.7 L244.2,566.4 L246.0,568.1 L248.1,569.7 L250.5,571.3 L253.2,572.7 L256.2,573.9 L259.4,575.1 L262.7,576.1 L266.3,576.9 L270.0,577.6 L273.9,578.1 L277.8,578.5 L281.8,578.7 L285.9,578.7 L289.9,578.5 L294.0,578.2 L297.9,577.7 L301.8,577.0 L305.6,576.2 L309.2,575.2Z" fill="#6439ff" stroke="#000" stroke-width="2.0"/>
<path d="M367.6,611.6 L370.8,610.3 L373.8,608.9 L376.6,607.4 L379.1,605.8 L381.3,604.1 L383.1,602.3 L384.7,600.4 L385.9,598.5 L386.8,596.6 L387.3,594.6 L387.5,592.6 L387.3,590.6 L386.8,588.7 L385.9,586.8 L384.7,584.9 L383.2,583.1 L381.3,581.4 L379.1,579.8 L376.6,578.3 L373.9,576.9 L370.9,575.6 L367.7,574.5 L364.3,573.5 L360.7,572.6 L357.0,572.0 L353.1,571.4 L349.2,571.1 L345.2,570.9 L341.1,570.9 L337.1,571.0 L333.1,571.4 L329.1,571.9 L325.3,572.5 L321.5,573.3 L317.9,574.3 L314.5,575.4 L311.3,576.7 L308.2,578.0 L305.5,579.5 L303.0,581.1 L300.8,582.8 L298.9,584.6 L297.3,586.5 L296.0,588.4 L295.1,590.3 L294.5,592.3 L294.3,594.3 L294.5,596.2 L295.0,598.2 L295.8,600.1 L297.0,602.0 L298.5,603.8 L300.4,605.5 L302.5,607.1 L305.0,608.7 L307.7,610.1 L310.7,611.4 L313.9,612.5 L317.3,613.5 L321.0,614.4 L324.7,615.1 L328.6,615.6 L332.6,616.0 L336.6,616.2 L340.7,616.2 L344.8,616.0 L348.8,615.7 L352.8,615.2 L356.7,614.5 L360.5,613.7 L364.1,612.7Z" fill="#6439ff" stroke="#000" stroke-width="2.0"/>
<path d="M423.4,649.6 L426.7,648.4 L429.7,646.9 L432.4,645.4 L434.9,643.8 L437.1,642.0 L439.0,640.2 L440.5,638.3 L441.8,636.4 L442.6,634.4 L443.1,632.4 L443.3,630.4 L443.1,628.4 L442.5,626.4 L441.6,624.4 L440.4,622.6 L438.8,620.7 L436.9,619.0 L434.7,617.4 L432.2,615.8 L429.4,614.4 L426.4,613.1 L423.1,611.9 L419.7,610.9 L416.1,610.1 L412.3,609.4 L408.4,608.9 L404.4,608.5 L400.4,608.3 L396.3,608.3 L392.2,608.5 L388.2,608.8 L384.2,609.3 L380.3,610.0 L376.6,610.8 L372.9,611.8 L369.5,612.9 L366.2,614.2 L363.2,615.6 L360.5,617.1 L358.0,618.7 L355.8,620.4 L353.9,622.2 L352.3,624.1 L351.0,626.1 L350.1,628.0 L349.6,630.0 L349.4,632.0 L349.6,634.0 L350.1,636.0 L350.9,638.0 L352.2,639.9 L353.7,641.7 L355.6,643.5 L357.8,645.1 L360.3,646.7 L363.1,648.1 L366.1,649.4 L369.3,650.6 L372.8,651.6 L376.5,652.5 L380.3,653.2 L384.2,653.8 L388.2,654.1 L392.3,654.3 L396.4,654.3 L400.5,654.2 L404.6,653.8 L408.6,653.3 L412.5,652.6 L416.3,651.8 L420.0,650.8Z" fill="#6439ff" stroke="#000" stroke-width="2.0"/>
<path d="M480.1,688.3 L483.4,687.0 L486.4,685.6 L489.2,684.0 L491.7,682.3 L493.9,680.6 L495.7,678.7 L497.3,676.8 L498.5,674.8 L499.3,672.8 L499.8,670.8 L500.0,668.7 L499.7,666.7 L499.1,664.7 L498.2,662.7 L496.9,660.8 L495.3,658.9 L493.4,657.2 L491.1,655.5 L488.6,653.9 L485.8,652.5 L482.7,651.2 L479.4,650.0 L475.9,649.0 L472.3,648.1 L468.5,647.4 L464.5,646.9 L460.5,646.5 L456.4,646.3 L452.3,646.3 L448.2,646.5 L444.2,646.8 L440.2,647.3 L436.2,648.0 L432.5,648.8 L428.8,649.8 L425.4,651.0 L422.1,652.3 L419.1,653.7 L416.3,655.2 L413.8,656.9 L411.6,658.6 L409.7,660.5 L408.1,662.4 L406.9,664.3 L406.0,666.3 L405.5,668.4 L405.3,670.4 L405.5,672.5 L406.1,674.5 L407.0,676.4 L408.2,678.4 L409.8,680.2 L411.7,682.0 L414.0,683.7 L416.5,685.3 L419.3,686.8 L422.4,688.1 L425.7,689.3 L429.2,690.3 L432.8,691.2 L436.7,691.9 L440.6,692.5 L444.7,692.9 L448.8,693.0 L453.0,693.1 L457.1,692.9 L461.2,692.6 L465.2,692.0 L469.2,691.3 L473.0,690.5 L476.7,689.5Z" fill="#6439ff" stroke="#000" stroke-width="2.0"/>
<path d="M537.8,727.6 L541.1,726.3 L544.1,724.8 L546.9,723.2 L549.4,721.5 L551.5,719.7 L553.4,717.8 L554.9,715.9 L556.1,713.9 L556.9,711.8 L557.4,709.8 L557.5,707.7 L557.3,705.6 L556.7,703.6 L555.7,701.6 L554.4,699.6 L552.7,697.8 L550.8,696.0 L548.5,694.3 L545.9,692.7 L543.0,691.2 L539.9,689.9 L536.6,688.7 L533.1,687.6 L529.4,686.8 L525.5,686.0 L521.6,685.5 L517.5,685.1 L513.4,684.9 L509.3,684.9 L505.1,685.1 L501.0,685.4 L497.0,685.9 L493.1,686.6 L489.3,687.5 L485.6,688.5 L482.1,689.7 L478.9,691.0 L475.8,692.4 L473.1,694.0 L470.6,695.7 L468.4,697.4 L466.5,699.3 L464.9,701.2 L463.7,703.2 L462.8,705.3 L462.3,707.3 L462.2,709.4 L462.4,711.5 L462.9,713.5 L463.9,715.5 L465.2,717.5 L466.8,719.4 L468.7,721.2 L471.0,722.9 L473.6,724.5 L476.4,726.0 L479.5,727.4 L482.9,728.6 L486.4,729.6 L490.1,730.5 L494.0,731.3 L498.0,731.8 L502.1,732.2 L506.3,732.4 L510.4,732.4 L514.6,732.3 L518.7,731.9 L522.8,731.4 L526.8,730.7 L530.6,729.8 L534.3,728.8Z" fill="#6439ff" stroke="#000" stroke-width="2.0"/>
<path d="M596.4,767.5 L599.7,766.2 L602.7,764.7 L605.5,763.1 L608.0,761.3 L610.1,759.5 L612.0,757.6 L613.5,755.6 L614.7,753.6 L615.5,751.5 L615.9,749.4 L616.0,747.3 L615.8,745.2 L615.1,743.1 L614.1,741.1 L612.8,739.1 L611.1,737.2 L609.1,735.4 L606.7,733.7 L604.1,732.0 L601.2,730.5 L598.1,729.2 L594.7,728.0 L591.2,726.9 L587.4,726.0 L583.5,725.3 L579.5,724.7 L575.4,724.4 L571.3,724.2 L567.1,724.1 L562.9,724.3 L558.8,724.7 L554.8,725.2 L550.8,725.9 L547.0,726.7 L543.3,727.8 L539.8,729.0 L536.5,730.3 L533.5,731.8 L530.7,733.4 L528.2,735.1 L526.0,736.9 L524.1,738.8 L522.6,740.7 L521.4,742.8 L520.5,744.8 L520.0,746.9 L519.9,749.0 L520.1,751.1 L520.7,753.2 L521.7,755.3 L523.0,757.3 L524.7,759.2 L526.7,761.0 L529.0,762.8 L531.6,764.4 L534.5,765.9 L537.6,767.3 L541.0,768.5 L544.6,769.6 L548.4,770.5 L552.3,771.3 L556.3,771.8 L560.5,772.2 L564.6,772.4 L568.9,772.4 L573.1,772.3 L577.2,771.9 L581.3,771.4 L585.3,770.7 L589.2,769.8 L592.9,768.7Z" fill="#6439ff" stroke="#000" stroke-width="2.0"/>
<path d="M655.9,808.1 L659.2,806.7 L662.3,805.2 L665.0,803.6 L667.5,801.8 L669.7,800.0 L671.5,798.0 L673.0,796.0 L674.2,793.9 L675.0,791.8 L675.4,789.7 L675.5,787.5 L675.2,785.4 L674.5,783.3 L673.5,781.2 L672.1,779.2 L670.4,777.3 L668.3,775.4 L666.0,773.7 L663.3,772.0 L660.4,770.5 L657.2,769.1 L653.8,767.9 L650.2,766.8 L646.4,765.9 L642.4,765.2 L638.4,764.6 L634.3,764.2 L630.1,764.0 L625.9,764.0 L621.7,764.2 L617.5,764.5 L613.4,765.1 L609.5,765.8 L605.6,766.7 L601.9,767.7 L598.4,768.9 L595.1,770.3 L592.1,771.8 L589.3,773.4 L586.8,775.1 L584.6,776.9 L582.7,778.9 L581.2,780.9 L580.0,782.9 L579.2,785.0 L578.7,787.2 L578.6,789.3 L578.9,791.4 L579.5,793.6 L580.5,795.6 L581.8,797.7 L583.5,799.6 L585.6,801.5 L587.9,803.3 L590.6,804.9 L593.5,806.5 L596.7,807.9 L600.1,809.1 L603.7,810.2 L607.5,811.1 L611.5,811.9 L615.6,812.5 L619.8,812.9 L624.0,813.1 L628.2,813.1 L632.5,812.9 L636.7,812.5 L640.8,812.0 L644.8,811.3 L648.7,810.4 L652.4,809.3Z" fill="#6439ff" stroke="#000" stroke-width="2.0"/>
<path d="M716.4,849.3 L719.7,847.9 L722.8,846.4 L725.6,844.7 L728.1,842.9 L730.2,841.1 L732.1,839.1 L733.6,837.0 L734.7,834.9 L735.5,832.8 L735.9,830.6 L735.9,828.4 L735.6,826.3 L734.9,824.1 L733.8,822.0 L732.4,820.0 L730.6,818.0 L728.5,816.1 L726.1,814.4 L723.4,812.7 L720.5,811.1 L717.2,809.7 L713.8,808.5 L710.1,807.4 L706.3,806.5 L702.3,805.7 L698.3,805.1 L694.1,804.7 L689.9,804.5 L685.6,804.5 L681.4,804.7 L677.2,805.1 L673.1,805.6 L669.1,806.3 L665.2,807.2 L661.5,808.3 L658.0,809.5 L654.7,810.9 L651.6,812.4 L648.8,814.0 L646.3,815.8 L644.2,817.7 L642.3,819.6 L640.8,821.7 L639.6,823.8 L638.8,825.9 L638.3,828.1 L638.2,830.2 L638.5,832.4 L639.2,834.6 L640.2,836.7 L641.6,838.7 L643.4,840.7 L645.4,842.6 L647.8,844.4 L650.5,846.1 L653.5,847.7 L656.7,849.1 L660.2,850.4 L663.8,851.5 L667.7,852.4 L671.7,853.2 L675.8,853.8 L680.0,854.2 L684.3,854.4 L688.6,854.4 L692.8,854.2 L697.1,853.9 L701.2,853.3 L705.3,852.6 L709.2,851.7 L712.9,850.6Z" fill="#6439ff" stroke="#000" stroke-width="2.0"/>
<path d="M778.0,891.3 L781.3,889.8 L784.3,888.3 L787.1,886.6 L789.6,884.8 L791.8,882.9 L793.6,880.8 L795.1,878.8 L796.2,876.6 L797.0,874.4 L797.3,872.2 L797.4,870.0 L797.0,867.8 L796.3,865.6 L795.2,863.5 L793.7,861.4 L791.9,859.4 L789.8,857.5 L787.3,855.7 L784.6,854.0 L781.6,852.4 L778.3,851.0 L774.8,849.7 L771.1,848.6 L767.2,847.7 L763.2,846.9 L759.1,846.3 L754.9,845.9 L750.6,845.7 L746.3,845.7 L742.1,845.9 L737.9,846.2 L733.7,846.8 L729.7,847.5 L725.8,848.4 L722.1,849.5 L718.5,850.8 L715.2,852.2 L712.2,853.7 L709.4,855.4 L706.9,857.2 L704.7,859.1 L702.8,861.1 L701.3,863.1 L700.2,865.3 L699.4,867.4 L698.9,869.6 L698.9,871.8 L699.2,874.0 L699.9,876.2 L701.0,878.4 L702.4,880.5 L704.2,882.5 L706.3,884.4 L708.7,886.3 L711.4,888.0 L714.5,889.6 L717.7,891.0 L721.2,892.3 L725.0,893.4 L728.9,894.4 L732.9,895.2 L737.1,895.8 L741.3,896.2 L745.6,896.4 L749.9,896.4 L754.2,896.2 L758.5,895.9 L762.7,895.3 L766.7,894.6 L770.7,893.6 L774.4,892.5Z" fill="#6439ff" stroke="#000" stroke-width="2.0"/>
<path d="M840.5,933.9 L843.8,932.4 L846.9,930.9 L849.7,929.1 L852.2,927.3 L854.3,925.3 L856.2,923.3 L857.6,921.2 L858.7,919.0 L859.5,916.8 L859.8,914.6 L859.8,912.3 L859.4,910.1 L858.6,907.8 L857.5,905.7 L856.0,903.6 L854.2,901.5 L852.0,899.6 L849.5,897.7 L846.7,896.0 L843.7,894.4 L840.3,893.0 L836.8,891.7 L833.1,890.5 L829.2,889.6 L825.1,888.8 L820.9,888.2 L816.7,887.8 L812.4,887.6 L808.1,887.6 L803.8,887.8 L799.5,888.1 L795.4,888.7 L791.3,889.4 L787.4,890.4 L783.6,891.5 L780.1,892.7 L776.8,894.1 L773.7,895.7 L770.9,897.4 L768.4,899.2 L766.2,901.2 L764.4,903.2 L762.9,905.3 L761.7,907.4 L761.0,909.7 L760.6,911.9 L760.5,914.1 L760.9,916.4 L761.6,918.6 L762.7,920.8 L764.2,922.9 L766.0,925.0 L768.1,926.9 L770.6,928.8 L773.4,930.6 L776.5,932.2 L779.8,933.6 L783.3,935.0 L787.1,936.1 L791.0,937.1 L795.1,937.9 L799.3,938.5 L803.6,938.9 L807.9,939.1 L812.3,939.1 L816.6,938.9 L820.9,938.6 L825.1,938.0 L829.2,937.2 L833.2,936.3 L836.9,935.2Z" fill="#6439ff" stroke="#000" stroke-width="2.0"/>
<path d="M904.1,977.2 L907.5,975.8 L910.5,974.2 L913.3,972.4 L915.8,970.5 L918.0,968.5 L919.8,966.5 L921.2,964.3 L922.3,962.1 L923.0,959.9 L923.4,957.6 L923.3,955.3 L922.9,953.0 L922.1,950.8 L920.9,948.6 L919.4,946.4 L917.5,944.3 L915.3,942.4 L912.7,940.5 L909.9,938.7 L906.8,937.1 L903.5,935.6 L899.9,934.3 L896.1,933.2 L892.1,932.2 L888.0,931.4 L883.8,930.8 L879.5,930.4 L875.2,930.2 L870.8,930.2 L866.5,930.3 L862.2,930.7 L858.0,931.3 L853.9,932.0 L850.0,933.0 L846.2,934.1 L842.7,935.4 L839.4,936.8 L836.3,938.4 L833.5,940.1 L831.0,942.0 L828.8,944.0 L827.0,946.0 L825.5,948.2 L824.4,950.3 L823.6,952.6 L823.2,954.9 L823.2,957.2 L823.6,959.4 L824.4,961.7 L825.5,963.9 L827.0,966.1 L828.9,968.2 L831.1,970.2 L833.6,972.1 L836.4,973.8 L839.5,975.5 L842.9,977.0 L846.5,978.3 L850.3,979.5 L854.3,980.5 L858.4,981.3 L862.6,981.9 L867.0,982.3 L871.3,982.5 L875.7,982.6 L880.1,982.4 L884.4,982.0 L888.7,981.4 L892.8,980.6 L896.8,979.7 L900.5,978.5Z" fill="#6439ff" stroke="#000" stroke-width="2.0"/>
<path d="M968.8,1021.3 L972.2,1019.8 L975.2,1018.2 L978.0,1016.4 L980.5,1014.5 L982.7,1012.5 L984.5,1010.4 L985.9,1008.2 L987.0,1005.9 L987.7,1003.7 L988.0,1001.3 L987.9,999.0 L987.4,996.7 L986.6,994.4 L985.4,992.2 L983.8,990.0 L981.9,987.9 L979.6,985.8 L977.1,983.9 L974.2,982.2 L971.0,980.5 L967.6,979.0 L964.0,977.7 L960.2,976.5 L956.1,975.5 L952.0,974.7 L947.8,974.1 L943.4,973.7 L939.0,973.5 L934.7,973.4 L930.3,973.6 L926.0,974.0 L921.8,974.6 L917.7,975.4 L913.7,976.3 L909.9,977.4 L906.3,978.8 L903.0,980.2 L899.9,981.8 L897.1,983.6 L894.6,985.5 L892.5,987.5 L890.6,989.6 L889.1,991.7 L888.0,994.0 L887.3,996.3 L886.9,998.6 L887.0,1000.9 L887.4,1003.2 L888.2,1005.5 L889.4,1007.8 L890.9,1010.0 L892.8,1012.1 L895.0,1014.1 L897.6,1016.1 L900.5,1017.9 L903.6,1019.5 L907.0,1021.1 L910.7,1022.4 L914.5,1023.6 L918.6,1024.6 L922.7,1025.4 L927.0,1026.1 L931.4,1026.5 L935.8,1026.7 L940.3,1026.7 L944.7,1026.6 L949.0,1026.2 L953.3,1025.6 L957.4,1024.8 L961.4,1023.8 L965.2,1022.7Z" fill="#6439ff" stroke="#000" stroke-width="2.0"/>
<path d="M1034.6,1066.2 L1038.0,1064.7 L1041.1,1063.0 L1043.9,1061.2 L1046.3,1059.2 L1048.5,1057.2 L1050.3,1055.0 L1051.7,1052.8 L1052.7,1050.5 L1053.4,1048.2 L1053.7,1045.8 L1053.6,1043.5 L1053.1,1041.1 L1052.2,1038.8 L1051.0,1036.5 L1049.4,1034.3 L1047.4,1032.1 L1045.1,1030.1 L1042.5,1028.1 L1039.5,1026.3 L1036.3,1024.7 L1032.9,1023.1 L1029.2,1021.8 L1025.3,1020.6 L1021.3,1019.6 L1017.1,1018.8 L1012.8,1018.1 L1008.4,1017.7 L1004.0,1017.5 L999.6,1017.5 L995.2,1017.7 L990.8,1018.0 L986.6,1018.6 L982.4,1019.4 L978.5,1020.4 L974.7,1021.5 L971.1,1022.9 L967.7,1024.4 L964.6,1026.0 L961.8,1027.8 L959.3,1029.7 L957.2,1031.7 L955.4,1033.9 L953.9,1036.1 L952.8,1038.4 L952.1,1040.7 L951.8,1043.0 L951.8,1045.4 L952.3,1047.8 L953.1,1050.1 L954.3,1052.4 L955.9,1054.6 L957.8,1056.8 L960.1,1058.9 L962.7,1060.8 L965.6,1062.7 L968.8,1064.4 L972.3,1065.9 L976.0,1067.3 L979.9,1068.5 L984.0,1069.5 L988.2,1070.4 L992.5,1071.0 L997.0,1071.4 L1001.4,1071.7 L1005.9,1071.7 L1010.3,1071.5 L1014.7,1071.1 L1019.0,1070.5 L1023.2,1069.7 L1027.2,1068.7 L1031.0,1067.5Z" fill="#6439ff" stroke="#000" stroke-width="2.0"/>
<path d="M416.8,565.4 L419.9,564.1 L422.9,562.8 L425.6,561.3 L428.1,559.7 L430.2,558.0 L432.1,556.2 L433.6,554.4 L434.8,552.5 L435.7,550.6 L436.2,548.7 L436.3,546.8 L436.1,544.8 L435.6,542.9 L434.7,541.0 L433.5,539.2 L431.9,537.5 L430.0,535.8 L427.9,534.2 L425.4,532.7 L422.7,531.3 L419.7,530.1 L416.5,529.0 L413.1,528.0 L409.6,527.2 L405.9,526.5 L402.1,526.0 L398.1,525.6 L394.2,525.5 L390.2,525.4 L386.2,525.6 L382.2,525.9 L378.3,526.4 L374.5,527.0 L370.7,527.8 L367.2,528.8 L363.8,529.9 L360.6,531.1 L357.6,532.5 L354.9,533.9 L352.5,535.5 L350.3,537.2 L348.4,538.9 L346.9,540.7 L345.7,542.6 L344.8,544.5 L344.2,546.4 L344.0,548.4 L344.2,550.3 L344.7,552.2 L345.6,554.1 L346.7,555.9 L348.3,557.7 L350.1,559.4 L352.3,561.0 L354.7,562.5 L357.4,563.9 L360.4,565.2 L363.6,566.3 L367.0,567.3 L370.6,568.1 L374.3,568.8 L378.2,569.4 L382.1,569.7 L386.1,569.9 L390.2,569.9 L394.2,569.7 L398.2,569.4 L402.2,568.9 L406.0,568.3 L409.8,567.5 L413.4,566.5Z" fill="#6439ff" stroke="#000" stroke-width="2.0"/>
<path d="M472.4,602.7 L475.7,601.4 L478.6,600.1 L481.4,598.5 L483.8,596.9 L485.9,595.2 L487.8,593.4 L489.3,591.6 L490.5,589.7 L491.3,587.7 L491.8,585.8 L491.9,583.8 L491.7,581.8 L491.2,579.9 L490.2,578.0 L489.0,576.1 L487.4,574.4 L485.5,572.7 L483.3,571.0 L480.8,569.5 L478.0,568.1 L475.0,566.9 L471.8,565.7 L468.4,564.7 L464.8,563.9 L461.0,563.2 L457.2,562.7 L453.2,562.3 L449.2,562.2 L445.2,562.1 L441.2,562.3 L437.2,562.6 L433.2,563.1 L429.4,563.8 L425.6,564.6 L422.1,565.6 L418.7,566.7 L415.5,567.9 L412.5,569.3 L409.8,570.8 L407.3,572.4 L405.1,574.1 L403.3,575.8 L401.7,577.7 L400.5,579.6 L399.6,581.5 L399.1,583.5 L399.0,585.4 L399.1,587.4 L399.7,589.4 L400.6,591.3 L401.8,593.1 L403.3,594.9 L405.2,596.6 L407.4,598.3 L409.9,599.8 L412.7,601.2 L415.7,602.5 L418.9,603.7 L422.3,604.7 L426.0,605.5 L429.7,606.2 L433.6,606.7 L437.6,607.1 L441.7,607.3 L445.7,607.3 L449.8,607.1 L453.8,606.8 L457.8,606.3 L461.7,605.6 L465.4,604.8 L469.0,603.8Z" fill="#6439ff" stroke="#000" stroke-width="2.0"/>
<path d="M529.0,640.6 L532.2,639.3 L535.2,637.9 L537.9,636.4 L540.4,634.8 L542.5,633.0 L544.4,631.2 L545.9,629.3 L547.0,627.4 L547.9,625.4 L548.3,623.4 L548.5,621.4 L548.2,619.4 L547.6,617.5 L546.7,615.5 L545.4,613.6 L543.7,611.8 L541.8,610.1 L539.6,608.5 L537.0,606.9 L534.2,605.5 L531.2,604.2 L527.9,603.1 L524.5,602.1 L520.8,601.2 L517.1,600.5 L513.2,600.0 L509.2,599.6 L505.1,599.4 L501.1,599.4 L497.0,599.6 L493.0,599.9 L489.0,600.4 L485.1,601.1 L481.4,601.9 L477.8,602.9 L474.4,604.0 L471.2,605.3 L468.2,606.7 L465.5,608.2 L463.0,609.8 L460.8,611.5 L459.0,613.3 L457.5,615.2 L456.3,617.1 L455.4,619.1 L454.9,621.1 L454.7,623.1 L454.9,625.1 L455.5,627.1 L456.4,629.0 L457.7,630.9 L459.3,632.7 L461.2,634.5 L463.4,636.1 L465.9,637.7 L468.7,639.1 L471.8,640.4 L475.1,641.6 L478.5,642.6 L482.2,643.5 L486.0,644.2 L489.9,644.7 L494.0,645.1 L498.0,645.3 L502.1,645.3 L506.2,645.1 L510.3,644.8 L514.3,644.3 L518.2,643.6 L522.0,642.8 L525.6,641.8Z" fill="#6439ff" stroke="#000" stroke-width="2.0"/>
<path d="M586.5,679.2 L589.7,677.9 L592.7,676.4 L595.4,674.9 L597.9,673.2 L600.0,671.4 L601.9,669.6 L603.4,667.7 L604.5,665.7 L605.3,663.7 L605.8,661.7 L605.9,659.6 L605.6,657.6 L605.0,655.6 L604.0,653.7 L602.7,651.7 L601.0,649.9 L599.0,648.1 L596.7,646.5 L594.2,644.9 L591.3,643.5 L588.3,642.2 L585.0,641.0 L581.4,640.0 L577.8,639.1 L574.0,638.4 L570.0,637.9 L566.0,637.5 L561.9,637.3 L557.8,637.3 L553.7,637.5 L549.7,637.8 L545.7,638.3 L541.8,639.0 L538.0,639.8 L534.4,640.8 L531.0,642.0 L527.8,643.2 L524.8,644.7 L522.1,646.2 L519.6,647.8 L517.4,649.6 L515.6,651.4 L514.1,653.3 L512.9,655.3 L512.0,657.3 L511.5,659.3 L511.4,661.3 L511.6,663.4 L512.2,665.4 L513.2,667.3 L514.5,669.3 L516.1,671.1 L518.0,672.9 L520.3,674.6 L522.9,676.2 L525.7,677.6 L528.8,678.9 L532.1,680.1 L535.6,681.2 L539.3,682.0 L543.2,682.8 L547.1,683.3 L551.2,683.7 L555.3,683.9 L559.5,683.9 L563.6,683.7 L567.7,683.4 L571.7,682.9 L575.6,682.2 L579.4,681.3 L583.1,680.3Z" fill="#6439ff" stroke="#000" stroke-width="2.0"/>
<path d="M644.9,718.3 L648.1,717.0 L651.1,715.5 L653.9,713.9 L656.3,712.2 L658.4,710.4 L660.3,708.6 L661.8,706.6 L662.9,704.6 L663.7,702.6 L664.1,700.5 L664.2,698.5 L663.9,696.4 L663.2,694.4 L662.2,692.4 L660.9,690.4 L659.2,688.6 L657.2,686.8 L654.8,685.1 L652.2,683.5 L649.3,682.0 L646.2,680.7 L642.9,679.5 L639.3,678.5 L635.6,677.6 L631.8,676.9 L627.8,676.3 L623.7,676.0 L619.6,675.8 L615.5,675.8 L611.4,675.9 L607.3,676.3 L603.3,676.8 L599.4,677.5 L595.6,678.3 L591.9,679.3 L588.5,680.5 L585.3,681.8 L582.3,683.2 L579.5,684.8 L577.1,686.5 L574.9,688.3 L573.1,690.1 L571.6,692.0 L570.4,694.0 L569.6,696.1 L569.1,698.1 L569.0,700.2 L569.2,702.2 L569.9,704.3 L570.8,706.3 L572.2,708.2 L573.8,710.1 L575.8,711.9 L578.1,713.6 L580.7,715.2 L583.6,716.7 L586.7,718.1 L590.1,719.3 L593.6,720.3 L597.4,721.2 L601.3,722.0 L605.3,722.5 L609.4,722.9 L613.5,723.1 L617.7,723.1 L621.9,722.9 L626.0,722.6 L630.0,722.1 L634.0,721.4 L637.8,720.5 L641.4,719.5Z" fill="#6439ff" stroke="#000" stroke-width="2.0"/>
<path d="M704.2,758.1 L707.5,756.7 L710.5,755.2 L713.2,753.6 L715.7,751.9 L717.8,750.1 L719.6,748.2 L721.1,746.2 L722.2,744.2 L723.0,742.1 L723.4,740.0 L723.4,737.9 L723.1,735.8 L722.4,733.8 L721.4,731.7 L720.0,729.8 L718.3,727.9 L716.2,726.1 L713.9,724.3 L711.2,722.7 L708.3,721.2 L705.1,719.9 L701.7,718.7 L698.2,717.6 L694.4,716.7 L690.5,716.0 L686.5,715.4 L682.4,715.1 L678.3,714.9 L674.1,714.9 L669.9,715.0 L665.8,715.4 L661.8,715.9 L657.8,716.6 L654.0,717.5 L650.4,718.5 L646.9,719.7 L643.7,721.0 L640.7,722.5 L637.9,724.0 L635.5,725.7 L633.3,727.5 L631.5,729.4 L630.0,731.4 L628.8,733.4 L628.0,735.5 L627.6,737.6 L627.5,739.7 L627.8,741.8 L628.4,743.8 L629.4,745.9 L630.8,747.8 L632.5,749.8 L634.5,751.6 L636.9,753.3 L639.5,755.0 L642.4,756.5 L645.6,757.8 L649.0,759.1 L652.6,760.1 L656.4,761.1 L660.3,761.8 L664.3,762.4 L668.5,762.7 L672.7,762.9 L676.9,763.0 L681.1,762.8 L685.2,762.4 L689.3,761.9 L693.3,761.2 L697.1,760.3 L700.8,759.3Z" fill="#6439ff" stroke="#000" stroke-width="2.0"/>
<path d="M764.5,798.5 L767.8,797.1 L770.8,795.6 L773.6,794.0 L776.0,792.2 L778.1,790.4 L779.9,788.5 L781.4,786.4 L782.5,784.4 L783.3,782.3 L783.6,780.2 L783.7,778.0 L783.3,775.9 L782.6,773.8 L781.5,771.7 L780.1,769.7 L778.3,767.8 L776.2,766.0 L773.8,764.2 L771.1,762.6 L768.2,761.1 L765.0,759.7 L761.5,758.5 L757.9,757.4 L754.1,756.5 L750.2,755.7 L746.1,755.2 L742.0,754.8 L737.8,754.6 L733.6,754.6 L729.4,754.7 L725.3,755.1 L721.2,755.6 L717.3,756.3 L713.4,757.2 L709.8,758.3 L706.3,759.5 L703.1,760.8 L700.0,762.3 L697.3,763.9 L694.8,765.6 L692.7,767.5 L690.9,769.4 L689.4,771.4 L688.2,773.4 L687.4,775.5 L687.0,777.6 L687.0,779.8 L687.3,781.9 L687.9,784.0 L689.0,786.1 L690.4,788.1 L692.1,790.1 L694.2,791.9 L696.6,793.7 L699.2,795.3 L702.2,796.9 L705.4,798.3 L708.9,799.5 L712.5,800.6 L716.3,801.5 L720.3,802.3 L724.4,802.9 L728.6,803.2 L732.8,803.4 L737.0,803.5 L741.2,803.3 L745.4,802.9 L749.5,802.4 L753.5,801.7 L757.4,800.8 L761.1,799.7Z" fill="#6439ff" stroke="#000" stroke-width="2.0"/>
<path d="M825.8,839.6 L829.1,838.2 L832.1,836.7 L834.9,835.0 L837.3,833.2 L839.4,831.3 L841.2,829.4 L842.7,827.3 L843.8,825.2 L844.5,823.1 L844.9,820.9 L844.9,818.8 L844.5,816.6 L843.7,814.5 L842.6,812.4 L841.2,810.4 L839.4,808.4 L837.2,806.5 L834.8,804.7 L832.1,803.1 L829.1,801.5 L825.8,800.1 L822.3,798.9 L818.7,797.8 L814.8,796.9 L810.8,796.1 L806.8,795.6 L802.6,795.2 L798.4,795.0 L794.1,794.9 L789.9,795.1 L785.7,795.5 L781.6,796.0 L777.7,796.7 L773.8,797.6 L770.1,798.7 L766.6,799.9 L763.4,801.3 L760.4,802.8 L757.6,804.4 L755.2,806.2 L753.0,808.0 L751.2,810.0 L749.7,812.0 L748.6,814.1 L747.8,816.2 L747.4,818.4 L747.4,820.6 L747.7,822.7 L748.4,824.9 L749.5,827.0 L750.9,829.0 L752.7,831.0 L754.8,832.9 L757.2,834.7 L760.0,836.4 L763.0,837.9 L766.2,839.3 L769.7,840.6 L773.4,841.7 L777.3,842.7 L781.3,843.4 L785.4,844.0 L789.6,844.4 L793.9,844.6 L798.1,844.6 L802.4,844.5 L806.6,844.1 L810.8,843.5 L814.8,842.8 L818.6,841.9 L822.3,840.8Z" fill="#6439ff" stroke="#000" stroke-width="2.0"/>
<path d="M888.2,881.4 L891.4,879.9 L894.5,878.4 L897.2,876.7 L899.7,874.9 L901.8,873.0 L903.6,871.0 L905.0,868.9 L906.1,866.8 L906.8,864.6 L907.1,862.4 L907.1,860.2 L906.7,858.0 L905.9,855.8 L904.7,853.7 L903.2,851.6 L901.4,849.6 L899.2,847.7 L896.8,845.9 L894.0,844.2 L890.9,842.7 L887.6,841.3 L884.1,840.0 L880.4,838.9 L876.5,837.9 L872.5,837.2 L868.4,836.6 L864.2,836.2 L859.9,836.0 L855.6,836.0 L851.4,836.2 L847.2,836.5 L843.1,837.1 L839.0,837.8 L835.2,838.7 L831.5,839.8 L828.0,841.0 L824.7,842.4 L821.7,843.9 L818.9,845.6 L816.5,847.4 L814.3,849.3 L812.5,851.3 L811.1,853.3 L810.0,855.4 L809.2,857.6 L808.8,859.8 L808.8,862.0 L809.2,864.2 L809.9,866.4 L811.0,868.5 L812.5,870.6 L814.3,872.6 L816.5,874.6 L818.9,876.4 L821.7,878.1 L824.7,879.7 L828.0,881.1 L831.6,882.4 L835.3,883.5 L839.2,884.5 L843.3,885.3 L847.4,885.9 L851.7,886.3 L856.0,886.5 L860.3,886.5 L864.6,886.3 L868.8,885.9 L873.0,885.4 L877.0,884.6 L880.9,883.7 L884.7,882.6Z" fill="#6439ff" stroke="#000" stroke-width="2.0"/>
<path d="M951.5,923.8 L954.8,922.4 L957.8,920.8 L960.6,919.1 L963.0,917.3 L965.1,915.3 L966.9,913.3 L968.3,911.2 L969.4,909.0 L970.1,906.8 L970.4,904.6 L970.3,902.3 L969.9,900.1 L969.1,897.9 L967.9,895.7 L966.4,893.6 L964.5,891.6 L962.3,889.6 L959.7,887.8 L956.9,886.1 L953.8,884.5 L950.5,883.1 L946.9,881.8 L943.2,880.6 L939.2,879.7 L935.2,878.9 L931.0,878.3 L926.8,877.9 L922.5,877.7 L918.2,877.7 L913.9,877.9 L909.6,878.2 L905.5,878.8 L901.5,879.5 L897.6,880.5 L893.9,881.6 L890.3,882.8 L887.1,884.2 L884.0,885.8 L881.3,887.5 L878.8,889.3 L876.7,891.2 L874.9,893.2 L873.4,895.3 L872.3,897.5 L871.6,899.7 L871.3,901.9 L871.3,904.2 L871.7,906.4 L872.4,908.6 L873.6,910.8 L875.1,912.9 L876.9,914.9 L879.1,916.9 L881.6,918.8 L884.5,920.5 L887.6,922.1 L890.9,923.6 L894.5,924.9 L898.3,926.0 L902.2,927.0 L906.3,927.8 L910.5,928.4 L914.8,928.8 L919.1,929.0 L923.5,929.0 L927.8,928.9 L932.1,928.5 L936.3,927.9 L940.3,927.2 L944.3,926.2 L948.0,925.1Z" fill="#6439ff" stroke="#000" stroke-width="2.0"/>
<path d="M1016.0,967.0 L1019.3,965.5 L1022.3,963.9 L1025.0,962.2 L1027.5,960.3 L1029.6,958.4 L1031.3,956.3 L1032.8,954.1 L1033.8,951.9 L1034.5,949.7 L1034.8,947.4 L1034.7,945.1 L1034.2,942.9 L1033.3,940.6 L1032.1,938.4 L1030.5,936.3 L1028.6,934.2 L1026.4,932.3 L1023.8,930.4 L1020.9,928.6 L1017.8,927.0 L1014.4,925.6 L1010.8,924.2 L1007.0,923.1 L1003.0,922.1 L998.9,921.3 L994.7,920.7 L990.4,920.3 L986.1,920.1 L981.7,920.1 L977.4,920.3 L973.1,920.7 L969.0,921.2 L964.9,922.0 L961.0,922.9 L957.3,924.0 L953.7,925.3 L950.4,926.7 L947.4,928.3 L944.7,930.1 L942.2,931.9 L940.1,933.9 L938.3,935.9 L936.8,938.0 L935.8,940.2 L935.1,942.5 L934.7,944.7 L934.8,947.0 L935.2,949.3 L936.0,951.5 L937.2,953.7 L938.7,955.9 L940.6,958.0 L942.9,960.0 L945.4,961.9 L948.3,963.6 L951.4,965.3 L954.8,966.8 L958.4,968.1 L962.3,969.2 L966.3,970.2 L970.4,971.0 L974.7,971.7 L979.0,972.1 L983.4,972.3 L987.7,972.3 L992.1,972.1 L996.4,971.7 L1000.6,971.2 L1004.7,970.4 L1008.7,969.4 L1012.4,968.3Z" fill="#6439ff" stroke="#000" stroke-width="2.0"/>
<path d="M1081.5,1010.9 L1084.8,1009.4 L1087.8,1007.8 L1090.6,1006.0 L1093.0,1004.1 L1095.1,1002.1 L1096.9,1000.0 L1098.3,997.8 L1099.3,995.6 L1099.9,993.3 L1100.2,991.0 L1100.1,988.7 L1099.6,986.4 L1098.7,984.1 L1097.4,981.9 L1095.8,979.7 L1093.8,977.6 L1091.5,975.6 L1088.9,973.7 L1086.0,971.9 L1082.8,970.3 L1079.4,968.8 L1075.7,967.4 L1071.9,966.3 L1067.9,965.3 L1063.7,964.5 L1059.4,963.9 L1055.1,963.5 L1050.7,963.2 L1046.4,963.2 L1042.0,963.4 L1037.7,963.8 L1033.5,964.4 L1029.4,965.1 L1025.5,966.1 L1021.7,967.2 L1018.2,968.5 L1014.9,970.0 L1011.9,971.6 L1009.1,973.3 L1006.7,975.2 L1004.5,977.2 L1002.8,979.3 L1001.3,981.5 L1000.3,983.7 L999.6,986.0 L999.3,988.3 L999.4,990.6 L999.8,992.9 L1000.7,995.2 L1001.9,997.4 L1003.5,999.6 L1005.4,1001.7 L1007.7,1003.8 L1010.3,1005.7 L1013.2,1007.5 L1016.4,1009.1 L1019.8,1010.7 L1023.5,1012.0 L1027.4,1013.2 L1031.4,1014.2 L1035.6,1015.0 L1039.9,1015.7 L1044.3,1016.1 L1048.7,1016.3 L1053.1,1016.3 L1057.5,1016.1 L1061.8,1015.7 L1066.1,1015.2 L1070.2,1014.4 L1074.2,1013.4 L1077.9,1012.3Z" fill="#6439ff" stroke="#000" stroke-width="2.0"/>
<path d="M471.5,517.8 L474.6,516.5 L477.5,515.2 L480.2,513.7 L482.6,512.2 L484.7,510.5 L486.5,508.8 L488.0,507.0 L489.2,505.2 L490.0,503.3 L490.5,501.4 L490.6,499.5 L490.4,497.6 L489.8,495.7 L488.9,493.9 L487.7,492.1 L486.2,490.4 L484.3,488.7 L482.1,487.2 L479.7,485.7 L477.0,484.4 L474.0,483.2 L470.8,482.1 L467.5,481.1 L463.9,480.3 L460.3,479.6 L456.5,479.1 L452.6,478.8 L448.6,478.6 L444.7,478.6 L440.7,478.8 L436.8,479.1 L432.9,479.5 L429.1,480.2 L425.5,481.0 L422.0,481.9 L418.6,483.0 L415.5,484.2 L412.6,485.5 L409.9,486.9 L407.5,488.5 L405.3,490.1 L403.5,491.8 L402.0,493.6 L400.8,495.4 L399.9,497.3 L399.4,499.2 L399.3,501.1 L399.4,503.0 L400.0,504.9 L400.8,506.7 L402.0,508.5 L403.6,510.2 L405.4,511.9 L407.6,513.5 L410.0,515.0 L412.7,516.3 L415.7,517.6 L418.9,518.7 L422.2,519.6 L425.8,520.5 L429.5,521.1 L433.3,521.6 L437.2,522.0 L441.2,522.2 L445.2,522.2 L449.2,522.0 L453.2,521.7 L457.1,521.2 L460.9,520.6 L464.6,519.8 L468.1,518.8Z" fill="#6439ff" stroke="#000" stroke-width="2.0"/>
<path d="M527.0,554.3 L530.2,553.1 L533.1,551.7 L535.8,550.3 L538.2,548.7 L540.3,547.0 L542.1,545.3 L543.6,543.4 L544.7,541.6 L545.5,539.7 L546.0,537.7 L546.1,535.8 L545.9,533.9 L545.3,532.0 L544.4,530.1 L543.1,528.3 L541.5,526.5 L539.6,524.9 L537.4,523.3 L534.9,521.8 L532.2,520.4 L529.2,519.2 L526.0,518.1 L522.6,517.1 L519.0,516.3 L515.3,515.6 L511.5,515.1 L507.5,514.8 L503.6,514.6 L499.6,514.6 L495.6,514.7 L491.6,515.1 L487.7,515.5 L483.9,516.2 L480.3,517.0 L476.7,517.9 L473.4,519.0 L470.2,520.2 L467.3,521.6 L464.6,523.0 L462.2,524.6 L460.1,526.3 L458.2,528.0 L456.7,529.8 L455.5,531.7 L454.7,533.6 L454.2,535.5 L454.1,537.4 L454.3,539.3 L454.8,541.3 L455.7,543.1 L456.9,545.0 L458.5,546.7 L460.4,548.4 L462.6,550.0 L465.1,551.5 L467.8,552.9 L470.8,554.1 L474.0,555.3 L477.4,556.3 L481.0,557.1 L484.8,557.8 L488.6,558.3 L492.6,558.6 L496.6,558.8 L500.6,558.8 L504.6,558.7 L508.6,558.4 L512.6,557.9 L516.4,557.2 L520.1,556.4 L523.7,555.4Z" fill="#6439ff" stroke="#000" stroke-width="2.0"/>
<path d="M583.5,591.5 L586.6,590.2 L589.6,588.9 L592.2,587.4 L594.7,585.7 L596.8,584.0 L598.6,582.3 L600.0,580.4 L601.2,578.5 L602.0,576.6 L602.4,574.6 L602.5,572.7 L602.2,570.7 L601.6,568.8 L600.6,566.9 L599.3,565.1 L597.7,563.3 L595.8,561.6 L593.5,560.0 L591.0,558.5 L588.2,557.1 L585.2,555.8 L582.0,554.7 L578.5,553.7 L574.9,552.9 L571.2,552.2 L567.3,551.7 L563.4,551.3 L559.4,551.1 L555.3,551.1 L551.3,551.3 L547.3,551.6 L543.4,552.1 L539.6,552.7 L535.9,553.6 L532.3,554.5 L529.0,555.6 L525.8,556.9 L522.9,558.2 L520.2,559.7 L517.8,561.3 L515.6,563.0 L513.8,564.8 L512.3,566.6 L511.2,568.5 L510.3,570.4 L509.8,572.3 L509.7,574.3 L509.9,576.3 L510.5,578.2 L511.5,580.1 L512.7,582.0 L514.3,583.8 L516.2,585.5 L518.5,587.1 L521.0,588.6 L523.8,590.0 L526.8,591.3 L530.0,592.4 L533.5,593.4 L537.1,594.3 L540.9,595.0 L544.8,595.5 L548.8,595.9 L552.8,596.1 L556.9,596.1 L561.0,595.9 L565.0,595.6 L568.9,595.1 L572.8,594.4 L576.5,593.6 L580.1,592.6Z" fill="#6439ff" stroke="#000" stroke-width="2.0"/>
<path d="M640.8,629.3 L644.0,628.0 L646.9,626.6 L649.6,625.0 L652.0,623.4 L654.1,621.7 L655.9,619.9 L657.3,618.0 L658.5,616.1 L659.2,614.1 L659.7,612.1 L659.7,610.1 L659.4,608.1 L658.8,606.2 L657.8,604.3 L656.5,602.4 L654.8,600.6 L652.8,598.9 L650.6,597.2 L648.0,595.7 L645.2,594.3 L642.1,593.0 L638.8,591.9 L635.4,590.9 L631.7,590.0 L627.9,589.3 L624.0,588.8 L620.0,588.4 L616.0,588.3 L611.9,588.2 L607.9,588.4 L603.9,588.7 L599.9,589.2 L596.1,589.9 L592.4,590.7 L588.8,591.7 L585.4,592.8 L582.3,594.1 L579.3,595.5 L576.6,597.0 L574.2,598.6 L572.1,600.3 L570.3,602.1 L568.8,603.9 L567.6,605.9 L566.8,607.8 L566.4,609.8 L566.3,611.8 L566.5,613.8 L567.1,615.7 L568.1,617.7 L569.4,619.6 L571.0,621.4 L573.0,623.1 L575.2,624.8 L577.8,626.3 L580.6,627.7 L583.7,629.0 L587.0,630.2 L590.5,631.2 L594.1,632.1 L597.9,632.8 L601.9,633.3 L605.9,633.7 L610.0,633.9 L614.1,633.9 L618.2,633.7 L622.2,633.4 L626.2,632.9 L630.1,632.2 L633.8,631.4 L637.4,630.4Z" fill="#6439ff" stroke="#000" stroke-width="2.0"/>
<path d="M699.0,667.6 L702.2,666.3 L705.2,664.9 L707.8,663.3 L710.2,661.7 L712.3,659.9 L714.1,658.1 L715.6,656.2 L716.7,654.2 L717.4,652.2 L717.8,650.2 L717.9,648.2 L717.6,646.2 L716.9,644.2 L715.9,642.2 L714.5,640.3 L712.8,638.5 L710.8,636.7 L708.5,635.1 L705.9,633.5 L703.0,632.1 L699.9,630.8 L696.6,629.6 L693.1,628.6 L689.4,627.7 L685.6,627.0 L681.6,626.5 L677.6,626.1 L673.5,625.9 L669.5,625.9 L665.4,626.1 L661.3,626.4 L657.4,626.9 L653.5,627.6 L649.8,628.4 L646.2,629.4 L642.8,630.6 L639.6,631.8 L636.6,633.3 L634.0,634.8 L631.5,636.4 L629.4,638.2 L627.6,640.0 L626.1,641.9 L625.0,643.8 L624.2,645.8 L623.8,647.8 L623.7,649.9 L624.0,651.9 L624.6,653.9 L625.6,655.8 L626.9,657.7 L628.6,659.6 L630.6,661.4 L632.9,663.0 L635.5,664.6 L638.3,666.1 L641.4,667.4 L644.8,668.6 L648.3,669.6 L652.0,670.5 L655.9,671.2 L659.8,671.7 L663.9,672.1 L668.0,672.3 L672.1,672.3 L676.3,672.2 L680.3,671.8 L684.3,671.3 L688.2,670.6 L692.0,669.8 L695.6,668.8Z" fill="#6439ff" stroke="#000" stroke-width="2.0"/>
<path d="M758.2,706.6 L761.4,705.2 L764.3,703.8 L767.0,702.2 L769.4,700.5 L771.5,698.7 L773.3,696.9 L774.7,694.9 L775.8,693.0 L776.6,690.9 L776.9,688.9 L777.0,686.8 L776.6,684.8 L775.9,682.8 L774.9,680.8 L773.5,678.8 L771.7,677.0 L769.7,675.2 L767.3,673.5 L764.7,671.9 L761.8,670.5 L758.7,669.2 L755.3,668.0 L751.7,666.9 L748.0,666.1 L744.1,665.3 L740.2,664.8 L736.1,664.4 L732.0,664.2 L727.9,664.2 L723.8,664.4 L719.7,664.7 L715.7,665.2 L711.8,665.9 L708.1,666.8 L704.5,667.8 L701.0,668.9 L697.9,670.2 L694.9,671.7 L692.2,673.2 L689.8,674.9 L687.7,676.7 L685.9,678.5 L684.4,680.4 L683.3,682.4 L682.5,684.4 L682.1,686.5 L682.0,688.5 L682.3,690.6 L683.0,692.6 L684.0,694.6 L685.4,696.5 L687.1,698.4 L689.1,700.2 L691.4,701.9 L694.1,703.5 L697.0,705.0 L700.1,706.3 L703.5,707.5 L707.1,708.6 L710.8,709.5 L714.7,710.2 L718.7,710.8 L722.8,711.1 L727.0,711.3 L731.1,711.3 L735.3,711.2 L739.4,710.8 L743.4,710.3 L747.4,709.6 L751.1,708.8 L754.8,707.7Z" fill="#6439ff" stroke="#000" stroke-width="2.0"/>
<path d="M818.3,746.2 L821.5,744.8 L824.5,743.3 L827.2,741.7 L829.6,740.0 L831.7,738.2 L833.4,736.3 L834.9,734.3 L835.9,732.3 L836.6,730.3 L837.0,728.2 L837.0,726.1 L836.6,724.0 L835.9,722.0 L834.8,719.9 L833.4,718.0 L831.6,716.1 L829.5,714.3 L827.1,712.6 L824.5,711.0 L821.5,709.5 L818.3,708.1 L814.9,706.9 L811.3,705.9 L807.5,705.0 L803.6,704.3 L799.6,703.7 L795.5,703.3 L791.4,703.2 L787.2,703.1 L783.1,703.3 L779.0,703.6 L775.0,704.2 L771.1,704.9 L767.3,705.7 L763.7,706.7 L760.2,707.9 L757.0,709.2 L754.1,710.7 L751.4,712.3 L749.0,714.0 L746.9,715.8 L745.1,717.6 L743.6,719.6 L742.5,721.6 L741.7,723.7 L741.3,725.7 L741.3,727.8 L741.6,729.9 L742.3,732.0 L743.4,734.0 L744.8,736.0 L746.5,737.9 L748.6,739.7 L751.0,741.4 L753.6,743.1 L756.6,744.6 L759.8,745.9 L763.2,747.1 L766.8,748.2 L770.6,749.1 L774.6,749.9 L778.6,750.4 L782.7,750.8 L786.9,751.0 L791.1,751.0 L795.3,750.8 L799.4,750.5 L803.5,750.0 L807.4,749.3 L811.2,748.4 L814.9,747.3Z" fill="#6439ff" stroke="#000" stroke-width="2.0"/>
<path d="M879.4,786.4 L882.6,785.0 L885.6,783.5 L888.3,781.9 L890.7,780.2 L892.8,778.3 L894.5,776.4 L895.9,774.4 L897.0,772.3 L897.7,770.2 L898.0,768.1 L898.0,766.0 L897.6,763.9 L896.8,761.8 L895.7,759.8 L894.3,757.8 L892.5,755.8 L890.3,754.0 L887.9,752.3 L885.2,750.6 L882.2,749.1 L879.0,747.8 L875.5,746.5 L871.9,745.5 L868.0,744.6 L864.1,743.8 L860.0,743.3 L855.9,742.9 L851.7,742.7 L847.6,742.7 L843.4,742.8 L839.2,743.2 L835.2,743.7 L831.3,744.4 L827.5,745.3 L823.8,746.3 L820.4,747.5 L817.2,748.9 L814.2,750.4 L811.5,752.0 L809.1,753.7 L807.0,755.5 L805.2,757.4 L803.8,759.4 L802.7,761.4 L801.9,763.5 L801.6,765.6 L801.6,767.8 L801.9,769.9 L802.6,772.0 L803.7,774.0 L805.2,776.0 L806.9,778.0 L809.0,779.8 L811.5,781.6 L814.2,783.2 L817.2,784.8 L820.4,786.2 L823.9,787.4 L827.5,788.5 L831.4,789.4 L835.3,790.1 L839.4,790.7 L843.6,791.1 L847.8,791.3 L852.0,791.3 L856.3,791.2 L860.4,790.8 L864.5,790.3 L868.5,789.5 L872.3,788.7 L876.0,787.6Z" fill="#6439ff" stroke="#000" stroke-width="2.0"/>
<path d="M941.5,827.3 L944.7,825.9 L947.7,824.4 L950.4,822.7 L952.8,820.9 L954.9,819.1 L956.6,817.1 L958.0,815.1 L959.1,813.0 L959.8,810.9 L960.1,808.7 L960.0,806.6 L959.6,804.4 L958.8,802.3 L957.6,800.2 L956.1,798.2 L954.3,796.2 L952.1,794.4 L949.6,792.6 L946.9,790.9 L943.8,789.4 L940.6,788.0 L937.1,786.8 L933.4,785.7 L929.5,784.8 L925.5,784.0 L921.5,783.5 L917.3,783.1 L913.1,782.9 L908.8,782.9 L904.6,783.0 L900.5,783.4 L896.4,783.9 L892.5,784.6 L888.6,785.5 L885.0,786.6 L881.5,787.8 L878.3,789.2 L875.3,790.7 L872.6,792.3 L870.2,794.0 L868.1,795.9 L866.4,797.8 L864.9,799.8 L863.8,801.9 L863.1,804.0 L862.8,806.2 L862.8,808.3 L863.2,810.5 L863.9,812.6 L865.1,814.7 L866.5,816.8 L868.3,818.7 L870.5,820.6 L872.9,822.4 L875.7,824.1 L878.7,825.6 L882.0,827.0 L885.5,828.3 L889.2,829.4 L893.1,830.3 L897.1,831.1 L901.3,831.7 L905.5,832.1 L909.7,832.3 L914.0,832.3 L918.2,832.1 L922.4,831.8 L926.5,831.2 L930.5,830.5 L934.4,829.6 L938.0,828.5Z" fill="#6439ff" stroke="#000" stroke-width="2.0"/>
<path d="M1004.6,868.9 L1007.9,867.4 L1010.9,865.9 L1013.6,864.2 L1016.0,862.4 L1018.0,860.5 L1019.8,858.5 L1021.1,856.5 L1022.2,854.3 L1022.8,852.2 L1023.1,850.0 L1023.0,847.8 L1022.6,845.6 L1021.7,843.5 L1020.6,841.3 L1019.0,839.3 L1017.1,837.3 L1014.9,835.4 L1012.4,833.6 L1009.6,831.9 L1006.5,830.4 L1003.2,828.9 L999.7,827.7 L995.9,826.6 L992.0,825.6 L988.0,824.9 L983.9,824.3 L979.7,823.9 L975.4,823.7 L971.1,823.7 L966.9,823.9 L962.7,824.2 L958.6,824.8 L954.6,825.5 L950.8,826.4 L947.1,827.5 L943.7,828.7 L940.4,830.1 L937.5,831.6 L934.8,833.3 L932.3,835.1 L930.3,836.9 L928.5,838.9 L927.1,841.0 L926.0,843.1 L925.3,845.2 L925.0,847.4 L925.0,849.6 L925.4,851.8 L926.2,854.0 L927.4,856.1 L928.9,858.2 L930.8,860.2 L932.9,862.1 L935.4,863.9 L938.2,865.6 L941.3,867.2 L944.6,868.6 L948.2,869.9 L951.9,871.0 L955.9,872.0 L959.9,872.7 L964.1,873.3 L968.4,873.7 L972.6,873.9 L976.9,874.0 L981.2,873.8 L985.5,873.4 L989.6,872.9 L993.6,872.1 L997.5,871.2 L1001.2,870.1Z" fill="#6439ff" stroke="#000" stroke-width="2.0"/>
<path d="M1068.8,911.1 L1072.1,909.7 L1075.1,908.1 L1077.8,906.4 L1080.2,904.6 L1082.2,902.6 L1083.9,900.6 L1085.3,898.5 L1086.3,896.4 L1087.0,894.2 L1087.2,891.9 L1087.1,889.7 L1086.6,887.5 L1085.7,885.3 L1084.5,883.1 L1082.9,881.0 L1081.0,879.0 L1078.8,877.1 L1076.2,875.3 L1073.3,873.6 L1070.2,872.0 L1066.9,870.5 L1063.3,869.3 L1059.5,868.1 L1055.6,867.2 L1051.5,866.4 L1047.3,865.8 L1043.1,865.4 L1038.8,865.2 L1034.5,865.2 L1030.2,865.4 L1026.0,865.7 L1021.9,866.3 L1017.9,867.0 L1014.0,868.0 L1010.3,869.0 L1006.8,870.3 L1003.6,871.7 L1000.6,873.3 L997.9,874.9 L995.5,876.8 L993.4,878.7 L991.7,880.7 L990.3,882.8 L989.2,884.9 L988.5,887.1 L988.2,889.3 L988.3,891.5 L988.7,893.8 L989.6,896.0 L990.8,898.1 L992.3,900.2 L994.2,902.3 L996.4,904.2 L999.0,906.1 L1001.8,907.8 L1004.9,909.4 L1008.3,910.9 L1011.9,912.2 L1015.7,913.3 L1019.7,914.3 L1023.8,915.1 L1028.0,915.7 L1032.3,916.1 L1036.6,916.3 L1041.0,916.3 L1045.3,916.1 L1049.5,915.8 L1053.7,915.2 L1057.7,914.4 L1061.6,913.5 L1065.3,912.4Z" fill="#6439ff" stroke="#000" stroke-width="2.0"/>
<path d="M1134.1,954.1 L1137.3,952.6 L1140.3,951.0 L1143.0,949.3 L1145.4,947.4 L1147.5,945.5 L1149.2,943.4 L1150.6,941.3 L1151.5,939.1 L1152.2,936.9 L1152.4,934.6 L1152.2,932.3 L1151.7,930.1 L1150.8,927.8 L1149.6,925.6 L1147.9,923.5 L1146.0,921.5 L1143.7,919.5 L1141.1,917.6 L1138.2,915.9 L1135.0,914.3 L1131.6,912.8 L1128.0,911.5 L1124.1,910.4 L1120.2,909.4 L1116.0,908.6 L1111.8,908.0 L1107.5,907.6 L1103.2,907.4 L1098.9,907.4 L1094.6,907.6 L1090.3,908.0 L1086.2,908.5 L1082.1,909.3 L1078.2,910.2 L1074.6,911.3 L1071.1,912.6 L1067.8,914.0 L1064.8,915.6 L1062.1,917.3 L1059.7,919.2 L1057.6,921.1 L1055.9,923.1 L1054.5,925.3 L1053.5,927.4 L1052.8,929.7 L1052.5,931.9 L1052.6,934.2 L1053.1,936.4 L1054.0,938.7 L1055.2,940.9 L1056.8,943.0 L1058.7,945.1 L1061.0,947.1 L1063.6,949.0 L1066.5,950.7 L1069.7,952.4 L1073.1,953.8 L1076.7,955.2 L1080.6,956.3 L1084.6,957.3 L1088.7,958.1 L1093.0,958.7 L1097.3,959.1 L1101.7,959.3 L1106.1,959.4 L1110.4,959.2 L1114.7,958.8 L1118.9,958.2 L1123.0,957.5 L1126.9,956.5 L1130.6,955.4Z" fill="#6439ff" stroke="#000" stroke-width="2.0"/>
<path d="M1200.5,997.8 L1203.7,996.3 L1206.7,994.7 L1209.4,992.9 L1211.8,991.0 L1213.9,989.0 L1215.6,986.9 L1216.9,984.8 L1217.9,982.5 L1218.5,980.3 L1218.7,978.0 L1218.5,975.7 L1217.9,973.4 L1217.0,971.1 L1215.7,968.9 L1214.0,966.7 L1212.0,964.6 L1209.7,962.6 L1207.0,960.7 L1204.1,959.0 L1200.9,957.3 L1197.4,955.8 L1193.7,954.5 L1189.9,953.4 L1185.8,952.4 L1181.7,951.6 L1177.4,951.0 L1173.1,950.6 L1168.7,950.3 L1164.3,950.3 L1160.0,950.5 L1155.7,950.9 L1151.5,951.5 L1147.5,952.2 L1143.6,953.2 L1139.9,954.3 L1136.4,955.6 L1133.1,957.0 L1130.1,958.7 L1127.4,960.4 L1125.0,962.3 L1122.9,964.2 L1121.2,966.3 L1119.8,968.5 L1118.8,970.7 L1118.2,972.9 L1117.9,975.2 L1118.1,977.5 L1118.6,979.8 L1119.5,982.1 L1120.7,984.4 L1122.4,986.5 L1124.3,988.7 L1126.7,990.7 L1129.3,992.6 L1132.2,994.4 L1135.4,996.0 L1138.9,997.5 L1142.6,998.9 L1146.5,1000.1 L1150.6,1001.1 L1154.8,1001.9 L1159.1,1002.5 L1163.4,1002.9 L1167.8,1003.1 L1172.3,1003.2 L1176.6,1003.0 L1181.0,1002.6 L1185.2,1002.0 L1189.3,1001.2 L1193.2,1000.3 L1196.9,999.1Z" fill="#6439ff" stroke="#000" stroke-width="2.0"/>
<circle cx="2380.5" cy="244.6" r="37.4" fill="#3c2597"/>
<circle cx="2380.5" cy="358.0" r="37.4" fill="#3c2597"/>
<circle cx="2380.5" cy="471.3" r="37.4" fill="#3c2597"/>
<circle cx="2380.5" cy="584.7" r="37.4" fill="#3c2597"/>
<circle cx="2380.5" cy="698.1" r="37.4" fill="#3c2597"/>
<circle cx="2380.5" cy="811.5" r="37.4" fill="#3c2597"/>
<circle cx="2380.5" cy="924.8" r="37.4" fill="#3c2597"/>
<circle cx="2380.5" cy="1038.2" r="37.4" fill="#3c2597"/>
<circle cx="2380.5" cy="1151.6" r="37.4" fill="#3c2597"/>
<circle cx="2380.5" cy="1264.9" r="37.4" fill="#3c2597"/>
<circle cx="2380.5" cy="1378.3" r="37.4" fill="#3c2597"/>
<circle cx="2380.5" cy="1491.7" r="37.4" fill="#3c2597"/>
<circle cx="2495.8" cy="194.1" r="37.4" fill="#3c2597"/>
<circle cx="2495.8" cy="307.5" r="37.4" fill="#3c2597"/>
<circle cx="2495.8" cy="420.8" r="37.4" fill="#3c2597"/>
<circle cx="2495.8" cy="534.2" r="37.4" fill="#3c2597"/>
<circle cx="2495.8" cy="647.6" r="37.4" fill="#3c2597"/>
<circle cx="2495.8" cy="761.0" r="37.4" fill="#3c2597"/>
<circle cx="2495.8" cy="874.3" r="37.4" fill="#3c2597"/>
<circle cx="2495.8" cy="987.7" r="37.4" fill="#3c2597"/>
<circle cx="2495.8" cy="1101.1" r="37.4" fill="#3c2597"/>
<circle cx="2495.8" cy="1214.4" r="37.4" fill="#3c2597"/>
<circle cx="2495.8" cy="1327.8" r="37.4" fill="#3c2597"/>
<circle cx="2495.8" cy="1441.2" r="37.4" fill="#3c2597"/>
<circle cx="2495.8" cy="1554.5" r="37.4" fill="#3c2597"/>
<circle cx="2611.1" cy="250.6" r="37.4" fill="#3c2597"/>
<circle cx="2611.1" cy="364.0" r="37.4" fill="#3c2597"/>
<circle cx="2611.1" cy="477.3" r="37.4" fill="#3c2597"/>
<circle cx="2611.1" cy="590.7" r="37.4" fill="#3c2597"/>
<circle cx="2611.1" cy="704.1" r="37.4" fill="#3c2597"/>
<circle cx="2611.1" cy="817.5" r="37.4" fill="#3c2597"/>
<circle cx="2611.1" cy="930.8" r="37.4" fill="#3c2597"/>
<circle cx="2611.1" cy="1044.2" r="37.4" fill="#3c2597"/>
<circle cx="2611.1" cy="1157.6" r="37.4" fill="#3c2597"/>
<circle cx="2611.1" cy="1270.9" r="37.4" fill="#3c2597"/>
<circle cx="2611.1" cy="1384.3" r="37.4" fill="#3c2597"/>
<circle cx="2611.1" cy="1497.7" r="37.4" fill="#3c2597"/>
<circle cx="2726.6" cy="194.1" r="37.4" fill="#3c2597"/>
<circle cx="2726.6" cy="307.5" r="37.4" fill="#3c2597"/>
<circle cx="2726.6" cy="420.8" r="37.4" fill="#3c2597"/>
<circle cx="2726.6" cy="534.2" r="37.4" fill="#3c2597"/>
<circle cx="2726.6" cy="647.6" r="37.4" fill="#3c2597"/>
<circle cx="2726.6" cy="761.0" r="37.4" fill="#3c2597"/>
<circle cx="2726.6" cy="874.3" r="37.4" fill="#3c2597"/>
<circle cx="2726.6" cy="987.7" r="37.4" fill="#3c2597"/>
<circle cx="2726.6" cy="1101.1" r="37.4" fill="#3c2597"/>
<circle cx="2726.6" cy="1214.4" r="37.4" fill="#3c2597"/>
<circle cx="2726.6" cy="1327.8" r="37.4" fill="#3c2597"/>
<circle cx="2726.6" cy="1441.2" r="37.4" fill="#3c2597"/>
<circle cx="2726.6" cy="1554.5" r="37.4" fill="#3c2597"/>
<path d="M2495.8,1700 L2495.8,1619.8 A65.3,65.3 0 0 1 2463.4,1497.9 A65.3,65.3 0 0 1 2463.4,1384.5 A65.3,65.3 0 0 1 2463.4,1271.1 A65.3,65.3 0 0 1 2463.4,1157.7 A65.3,65.3 0 0 1 2463.4,1044.4 A65.3,65.3 0 0 1 2463.4,931.0 A65.3,65.3 0 0 1 2463.4,817.6 A65.3,65.3 0 0 1 2463.4,704.3 A65.3,65.3 0 0 1 2463.4,590.9 A65.3,65.3 0 0 1 2463.4,477.5 A65.3,65.3 0 0 1 2463.4,364.2 A65.3,65.3 0 0 1 2463.4,250.8 A65.3,65.3 0 1 1 2558.5,211.8" fill="none" stroke="#36a3ff" stroke-width="11.2" stroke-linejoin="round" stroke-linecap="round"/>
<path d="M2558.5,211.8 A65.3,65.3 0 1 1 2643.5,307.3 A65.3,65.3 0 0 1 2643.5,420.7 A65.3,65.3 0 0 1 2643.5,534.0 A65.3,65.3 0 0 1 2643.5,647.4 A65.3,65.3 0 0 1 2643.5,760.8 A65.3,65.3 0 0 1 2643.5,874.1 A65.3,65.3 0 0 1 2643.5,987.5 A65.3,65.3 0 0 1 2643.5,1100.9 A65.3,65.3 0 0 1 2643.5,1214.2 A65.3,65.3 0 0 1 2643.5,1327.6 A65.3,65.3 0 0 1 2643.5,1441.0 A65.3,65.3 0 0 1 2643.5,1554.4 A65.3,65.3 0 0 1 2611.1,1676.3 L2611.1,1740" fill="none" stroke="#36a3ff" stroke-width="11.2" stroke-linejoin="round" stroke-linecap="round"/>
<rect x="2484.1" y="1693.8" width="23.7" height="90" fill="#36a3ff"/>
<rect x="2599.1" y="1735.6" width="24.4" height="135.7" fill="#36a3ff"/>
<rect x="2202.3" y="1777.3" width="689.6" height="38.4" fill="#36a3ff"/>
<rect x="2202.3" y="1832.7" width="689.6" height="38.6" fill="#36a3ff"/>
<path d="M1920.0,1794.2 L2129.2,1794.2 L2124.4,1809.6 L2173.9,1788.6 L2124.4,1767.6 L2129.2,1782.9 L1920.0,1782.9Z" fill="#36a3ff"/>
<path d="M2179.5,1846.4 L1970.7,1846.4 L1975.5,1831.1 L1926.0,1852.1 L1975.5,1873.1 L1970.7,1857.8 L2179.5,1857.8Z" fill="#36a3ff"/>
<path d="M2915.0,1794.1 L3123.9,1794.1 L3119.1,1809.4 L3168.6,1788.4 L3119.1,1767.4 L3123.9,1782.8 L2915.0,1782.8Z" fill="#36a3ff"/>
<path d="M3174.0,1846.4 L2965.2,1846.4 L2970.0,1831.1 L2920.5,1852.1 L2970.0,1873.1 L2965.2,1857.8 L3174.0,1857.8Z" fill="#36a3ff"/>
<path d="M2292.8,751.6 L2292.8,431.4 L2316.0,438.5 L2284.4,363.9 L2252.8,438.5 L2276.0,431.4 L2276.0,751.6Z" fill="#36a3ff"/>
<path d="M2292.8,1468.9 L2292.8,1149.2 L2316.0,1156.3 L2284.4,1081.7 L2252.8,1156.3 L2276.0,1149.2 L2276.0,1468.9Z" fill="#36a3ff"/>
<path d="M2801.2,355.8 L2801.2,675.3 L2778.0,668.2 L2809.6,742.8 L2841.2,668.2 L2818.0,675.3 L2818.0,355.8Z" fill="#36a3ff"/>
<path d="M2801.2,1073.4 L2801.2,1393.5 L2778.0,1386.4 L2809.6,1461.0 L2841.2,1386.4 L2818.0,1393.5 L2818.0,1073.4Z" fill="#36a3ff"/>
<path d="M1409.5,1642.6 L1119.9,1434.6 L1138.6,1420.0 L1061.5,1402.3 L1102.9,1469.7 L1110.7,1447.3 L1400.3,1655.4Z" fill="#36a3ff"/>
<path d="M1254.0,1333.3 L1541.6,1533.4 L1523.1,1548.3 L1600.4,1564.8 L1558.0,1498.0 L1550.5,1520.5 L1263.0,1320.5Z" fill="#36a3ff"/>
</svg>
</body></html>
